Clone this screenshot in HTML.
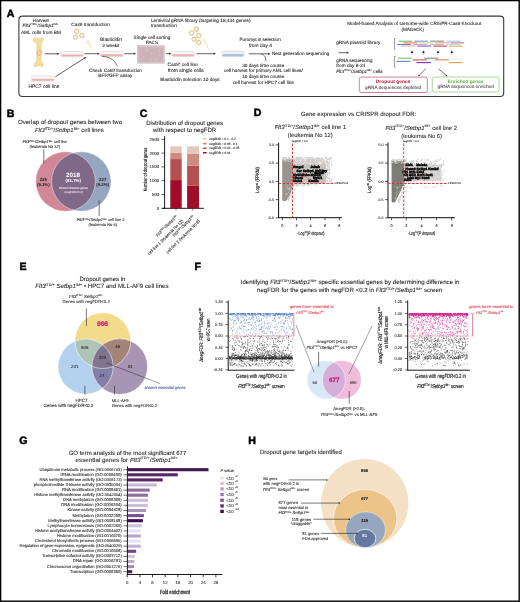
<!DOCTYPE html>
<html><head><meta charset="utf-8"><style>
html,body{margin:0;padding:0;background:#fff;width:520px;height:602px;overflow:hidden;}
svg{display:block;will-change:transform;}
svg text{font-family:"Liberation Sans", sans-serif;text-rendering:geometricPrecision;}
</style></head><body>
<svg width="520" height="602" viewBox="0 0 520 602" fill="#231f20" font-family='"Liberation Sans", sans-serif'>
<rect x="0.00" y="0.00" width="520.00" height="602.00" fill="#ffffff" />
<text x="6.80" y="16.60" font-size="10.60" font-weight="bold" fill="#000" stroke="#000" stroke-width="0.5">A</text>
<text x="6.80" y="116.70" font-size="10.60" font-weight="bold" fill="#000" stroke="#000" stroke-width="0.5">B</text>
<text x="139.80" y="116.70" font-size="10.60" font-weight="bold" fill="#000" stroke="#000" stroke-width="0.5">C</text>
<text x="253.80" y="116.40" font-size="10.60" font-weight="bold" fill="#000" stroke="#000" stroke-width="0.5">D</text>
<text x="19.60" y="270.20" font-size="10.60" font-weight="bold" fill="#000" stroke="#000" stroke-width="0.5">E</text>
<text x="194.60" y="270.20" font-size="10.60" font-weight="bold" fill="#000" stroke="#000" stroke-width="0.5">F</text>
<text x="19.20" y="443.60" font-size="10.60" font-weight="bold" fill="#000" stroke="#000" stroke-width="0.5">G</text>
<text x="248.20" y="443.70" font-size="10.60" font-weight="bold" fill="#000" stroke="#000" stroke-width="0.5">H</text>
<rect x="18.9" y="16.1" width="484.8" height="80.4" rx="3.5" fill="none" stroke="#3a3a3a" stroke-width="1.1" transform="scale(1)"/>
<text x="32.80" y="21.80" font-size="4.67" textLength="16.10" lengthAdjust="spacingAndGlyphs" stroke="#231f20" stroke-width="0.08">Harvest</text>
<text x="22.60" y="27.00" font-size="4.70" textLength="35.80" lengthAdjust="spacingAndGlyphs" stroke="#231f20" stroke-width="0.08"><tspan font-style="italic">Flt3</tspan><tspan font-size="2.82" dy="-1.69">ITD/+</tspan><tspan dy="1.69">/</tspan><tspan font-style="italic">Setbp1</tspan><tspan font-size="2.82" dy="-1.69">IM+</tspan></text>
<text x="20.90" y="33.60" font-size="4.79" textLength="40.00" lengthAdjust="spacingAndGlyphs" stroke="#231f20" stroke-width="0.08">AML cells from BM</text>
<path d="M33.2,40.8 C32.6,38.6 34.6,36.8 36.4,37.8 C37.6,38.4 38.6,39.2 40,38.6 C41.2,37.2 43.8,37.6 43.6,39.6 C43.4,41 41.8,42 41.4,43.6 L41,60.5 C41.2,62 43.4,62.6 43.2,64.8 C43,66.8 40.6,67.2 39.6,66 C38.8,65.4 38,65.6 37.2,66.4 C35.8,67.6 33.8,66.4 34.2,64.4 C34.4,62.8 36.2,62 36.6,60.2 L36.8,44.6 C36.6,42.8 33.6,42.4 33.2,40.8 Z" fill="#f4dd9a" stroke="#dcc17c" stroke-width="0.35" />
<circle cx="39.30" cy="53.00" r="2.50" fill="none" stroke="#e07070" stroke-width="0.5"/>
<line x1="44.80" y1="53.80" x2="57.20" y2="53.80" stroke="#231f20" stroke-width="0.70" />
<path d="M59.60,53.80 L57.20,54.88 L57.20,52.72 Z" fill="#231f20" stroke="none" stroke-width="0.60" />
<rect x="61.00" y="51.60" width="22.30" height="5.10" rx="1.6" fill="#fbfafa" stroke="#bdb6b6" stroke-width="0.4"/>
<rect x="61.50" y="54.41" width="21.30" height="1.94" rx="0.9" fill="#eeaeae"/>
<text x="71.30" y="25.50" font-size="4.78" textLength="38.50" lengthAdjust="spacingAndGlyphs" stroke="#231f20" stroke-width="0.08">Cas9 transduction</text>
<circle cx="76.60" cy="31.30" r="2.30" fill="#f6ecc8" stroke="#c9a85a" stroke-width="0.6"/>
<circle cx="76.60" cy="31.30" r="1.03" fill="#ffffff" />
<circle cx="75.60" cy="37.10" r="2.30" fill="#f6ecc8" stroke="#c9a85a" stroke-width="0.6"/>
<circle cx="75.60" cy="37.10" r="1.03" fill="#ffffff" />
<circle cx="81.90" cy="35.60" r="2.30" fill="#f6ecc8" stroke="#c9a85a" stroke-width="0.6"/>
<circle cx="81.90" cy="35.60" r="1.03" fill="#ffffff" />
<path d="M85.90,41.48 L88.70,39.92 L92.50,50.00 Z" fill="#f7f0d2" stroke="#e8dcaa" stroke-width="0.30" />
<line x1="84.50" y1="53.70" x2="97.30" y2="53.70" stroke="#231f20" stroke-width="0.70" />
<path d="M99.70,53.70 L97.30,54.78 L97.30,52.62 Z" fill="#231f20" stroke="none" stroke-width="0.60" />
<rect x="100.40" y="51.50" width="22.80" height="5.00" rx="1.6" fill="#fbfafa" stroke="#bdb6b6" stroke-width="0.4"/>
<rect x="100.90" y="54.25" width="21.80" height="1.90" rx="0.9" fill="#eeaeae"/>
<text x="100.10" y="40.70" font-size="4.86" textLength="21.90" lengthAdjust="spacingAndGlyphs" stroke="#231f20" stroke-width="0.08">Blasticidin</text>
<text x="102.30" y="46.50" font-size="4.66" textLength="17.10" lengthAdjust="spacingAndGlyphs" stroke="#231f20" stroke-width="0.08">2 weeks</text>
<path d="M101.8,56.2 C110,57 115,60 117.3,66.2" fill="none" stroke="#231f20" stroke-width="0.60" />
<text x="89.00" y="71.60" font-size="4.74" textLength="53.00" lengthAdjust="spacingAndGlyphs" stroke="#231f20" stroke-width="0.08">Check Cas9 transduction</text>
<text x="98.30" y="77.10" font-size="4.78" textLength="34.20" lengthAdjust="spacingAndGlyphs" stroke="#231f20" stroke-width="0.08">BFP/GFP assay</text>
<rect x="31.50" y="76.00" width="22.80" height="5.10" rx="1.6" fill="#fbfafa" stroke="#bdb6b6" stroke-width="0.4"/>
<rect x="32.00" y="78.80" width="21.80" height="1.94" rx="0.9" fill="#eeaeae"/>
<text x="28.40" y="88.20" font-size="4.94" textLength="31.00" lengthAdjust="spacingAndGlyphs" stroke="#231f20" stroke-width="0.08">HPC7 cell line</text>
<line x1="55.40" y1="76.70" x2="84.28" y2="58.29" stroke="#231f20" stroke-width="0.70" />
<path d="M86.30,57.00 L84.86,59.20 L83.70,57.38 Z" fill="#231f20" stroke="none" stroke-width="0.60" />
<line x1="124.20" y1="53.70" x2="133.60" y2="53.70" stroke="#231f20" stroke-width="0.70" />
<path d="M136.00,53.70 L133.60,54.78 L133.60,52.62 Z" fill="#231f20" stroke="none" stroke-width="0.60" />
<text x="133.60" y="38.50" font-size="4.70" textLength="36.80" lengthAdjust="spacingAndGlyphs" stroke="#231f20" stroke-width="0.08">Single cell sorting</text>
<text x="145.90" y="44.30" font-size="4.67" textLength="12.20" lengthAdjust="spacingAndGlyphs" stroke="#231f20" stroke-width="0.08">FACS</text>
<rect x="137.20" y="45.40" width="27.40" height="18.00" fill="#dccbcf" stroke="#c9c2c2" stroke-width="0.5"/>
<rect x="138.40" y="46.60" width="25.00" height="15.60" fill="#cfb3bb" />
<circle cx="139.30" cy="49.45" r="0.45" fill="#ecdfe3" />
<circle cx="139.30" cy="53.35" r="0.45" fill="#ecdfe3" />
<circle cx="139.30" cy="59.20" r="0.45" fill="#ecdfe3" />
<circle cx="141.35" cy="47.50" r="0.45" fill="#ecdfe3" />
<circle cx="141.35" cy="51.40" r="0.45" fill="#ecdfe3" />
<circle cx="141.35" cy="53.35" r="0.45" fill="#ecdfe3" />
<circle cx="141.35" cy="59.20" r="0.45" fill="#ecdfe3" />
<circle cx="143.40" cy="57.25" r="0.45" fill="#ecdfe3" />
<circle cx="145.45" cy="47.50" r="0.45" fill="#ecdfe3" />
<circle cx="145.45" cy="49.45" r="0.45" fill="#ecdfe3" />
<circle cx="147.50" cy="49.45" r="0.45" fill="#ecdfe3" />
<circle cx="147.50" cy="51.40" r="0.45" fill="#ecdfe3" />
<circle cx="151.60" cy="53.35" r="0.45" fill="#ecdfe3" />
<circle cx="151.60" cy="59.20" r="0.45" fill="#ecdfe3" />
<circle cx="153.65" cy="47.50" r="0.45" fill="#ecdfe3" />
<circle cx="155.70" cy="59.20" r="0.45" fill="#ecdfe3" />
<circle cx="157.75" cy="59.20" r="0.45" fill="#ecdfe3" />
<circle cx="159.80" cy="47.50" r="0.45" fill="#ecdfe3" />
<circle cx="159.80" cy="49.45" r="0.45" fill="#ecdfe3" />
<circle cx="159.80" cy="51.40" r="0.45" fill="#ecdfe3" />
<circle cx="159.80" cy="55.30" r="0.45" fill="#ecdfe3" />
<circle cx="161.85" cy="47.50" r="0.45" fill="#ecdfe3" />
<line x1="165.80" y1="53.70" x2="168.90" y2="53.70" stroke="#231f20" stroke-width="0.70" />
<path d="M171.30,53.70 L168.90,54.78 L168.90,52.62 Z" fill="#231f20" stroke="none" stroke-width="0.60" />
<rect x="171.80" y="51.50" width="22.40" height="5.00" rx="1.6" fill="#fbfafa" stroke="#bdb6b6" stroke-width="0.4"/>
<rect x="172.30" y="54.25" width="21.40" height="1.90" rx="0.9" fill="#eeaeae"/>
<text x="167.60" y="66.00" font-size="4.81" textLength="30.30" lengthAdjust="spacingAndGlyphs" stroke="#231f20" stroke-width="0.08">Cas9<tspan font-size="2.89" dy="-1.73">+</tspan><tspan dy="1.73"> cell line</tspan></text>
<text x="167.90" y="71.60" font-size="5.02" textLength="36.00" lengthAdjust="spacingAndGlyphs" stroke="#231f20" stroke-width="0.08">from single cells</text>
<text x="160.20" y="81.10" font-size="4.76" textLength="59.50" lengthAdjust="spacingAndGlyphs" stroke="#231f20" stroke-width="0.08">Blasticidin selection 10 days</text>
<text x="150.90" y="21.90" font-size="4.73" textLength="99.60" lengthAdjust="spacingAndGlyphs" stroke="#231f20" stroke-width="0.08">Lentiviral gRNA library (targeting 18,434 genes)</text>
<text x="150.90" y="27.30" font-size="4.77" textLength="26.00" lengthAdjust="spacingAndGlyphs" stroke="#231f20" stroke-width="0.08">transduction</text>
<circle cx="196.30" cy="29.10" r="2.30" fill="#f6ecc8" stroke="#c9a85a" stroke-width="0.6"/>
<circle cx="196.30" cy="29.10" r="1.03" fill="#ffffff" />
<circle cx="191.70" cy="33.00" r="2.30" fill="#f6ecc8" stroke="#c9a85a" stroke-width="0.6"/>
<circle cx="191.70" cy="33.00" r="1.03" fill="#ffffff" />
<circle cx="198.90" cy="35.60" r="2.30" fill="#f6ecc8" stroke="#c9a85a" stroke-width="0.6"/>
<circle cx="198.90" cy="35.60" r="1.03" fill="#ffffff" />
<circle cx="194.20" cy="39.20" r="2.30" fill="#f6ecc8" stroke="#c9a85a" stroke-width="0.6"/>
<circle cx="194.20" cy="39.20" r="1.03" fill="#ffffff" />
<circle cx="198.90" cy="42.60" r="2.30" fill="#f6ecc8" stroke="#c9a85a" stroke-width="0.6"/>
<circle cx="198.90" cy="42.60" r="1.03" fill="#ffffff" />
<path d="M202.45,39.89 L205.35,38.51 L208.70,49.30 Z" fill="#f7f0d2" stroke="#e8dcaa" stroke-width="0.30" />
<line x1="196.40" y1="53.70" x2="213.50" y2="53.70" stroke="#231f20" stroke-width="0.70" />
<path d="M215.90,53.70 L213.50,54.78 L213.50,52.62 Z" fill="#231f20" stroke="none" stroke-width="0.60" />
<rect x="222.10" y="51.20" width="21.90" height="5.30" rx="1.6" fill="#eef2f8" stroke="#bdb6b6" stroke-width="0.4"/>
<rect x="222.60" y="54.12" width="20.90" height="2.01" rx="0.9" fill="#a9c2e6"/>
<text x="239.50" y="41.20" font-size="4.60" textLength="41.20" lengthAdjust="spacingAndGlyphs" stroke="#231f20" stroke-width="0.08">Puromycin selection</text>
<text x="248.90" y="47.20" font-size="4.87" textLength="23.00" lengthAdjust="spacingAndGlyphs" stroke="#231f20" stroke-width="0.08">from day 4</text>
<line x1="248.90" y1="53.80" x2="268.10" y2="53.80" stroke="#231f20" stroke-width="0.70" />
<path d="M270.50,53.80 L268.10,54.88 L268.10,52.72 Z" fill="#231f20" stroke="none" stroke-width="0.60" />
<path d="M261.2,53.8 C265,55 266,58 265.9,61.5" fill="none" stroke="#231f20" stroke-width="0.60" />
<text x="271.90" y="54.50" font-size="4.62" textLength="57.50" lengthAdjust="spacingAndGlyphs" stroke="#231f20" stroke-width="0.08">Next generation sequencing</text>
<text x="242.20" y="67.10" font-size="4.70" textLength="42.10" lengthAdjust="spacingAndGlyphs" stroke="#231f20" stroke-width="0.08">30 days time course</text>
<text x="223.80" y="72.40" font-size="4.72" textLength="79.00" lengthAdjust="spacingAndGlyphs" stroke="#231f20" stroke-width="0.08">cell harvest for primary AML cell lines/</text>
<text x="242.20" y="78.10" font-size="4.70" textLength="42.10" lengthAdjust="spacingAndGlyphs" stroke="#231f20" stroke-width="0.08">10 days time course</text>
<text x="232.70" y="83.70" font-size="4.69" textLength="61.30" lengthAdjust="spacingAndGlyphs" stroke="#231f20" stroke-width="0.08">cell harvest for HPC7 cell line</text>
<text x="347.20" y="24.60" font-size="4.70" textLength="134.00" lengthAdjust="spacingAndGlyphs" stroke="#231f20" stroke-width="0.08">Model-based Analysis of Genome-wide CRISPR-Cas9 Knockout</text>
<text x="412.70" y="30.60" font-size="4.60" text-anchor="middle" stroke="#231f20" stroke-width="0.08">(MAGeCK)</text>
<text x="336.20" y="43.90" font-size="4.73" textLength="44.20" lengthAdjust="spacingAndGlyphs" stroke="#231f20" stroke-width="0.08">gRNA plasmid library</text>
<line x1="338.80" y1="52.70" x2="346.60" y2="52.70" stroke="#231f20" stroke-width="0.70" />
<path d="M349.00,52.70 L346.60,53.78 L346.60,51.62 Z" fill="#231f20" stroke="none" stroke-width="0.60" />
<text x="336.20" y="61.50" font-size="4.53" textLength="36.30" lengthAdjust="spacingAndGlyphs" stroke="#231f20" stroke-width="0.08">gRNA sequencing</text>
<text x="336.20" y="67.10" font-size="4.70" textLength="29.00" lengthAdjust="spacingAndGlyphs" stroke="#231f20" stroke-width="0.08">from day 8-24</text>
<text x="336.20" y="72.50" font-size="4.70" textLength="46.50" lengthAdjust="spacingAndGlyphs" stroke="#231f20" stroke-width="0.08"><tspan font-style="italic">Flt3</tspan><tspan font-size="2.82" dy="-1.69">ITD/+</tspan><tspan dy="1.69">/</tspan><tspan font-style="italic">Setbp1</tspan><tspan font-size="2.82" dy="-1.69">IM+</tspan><tspan dy="1.69"> cells</tspan></text>
<path d="M395.60,38.50 L394.40,38.50 L394.40,49.20 L395.60,49.20" fill="none" stroke="#555" stroke-width="0.60" />
<path d="M395.60,56.50 L394.40,56.50 L394.40,67.00 L395.60,67.00" fill="none" stroke="#555" stroke-width="0.60" />
<rect x="398.50" y="40.65" width="13.80" height="1.10" fill="#7dbf6a" />
<rect x="414.30" y="40.65" width="13.90" height="1.10" fill="#7f97d6" />
<rect x="430.30" y="40.65" width="13.90" height="1.10" fill="#8a8a8a" />
<rect x="446.60" y="40.65" width="14.20" height="1.10" fill="#a9c3ea" />
<rect x="403.50" y="42.35" width="13.90" height="1.10" fill="#e07a72" />
<rect x="419.20" y="42.35" width="13.90" height="1.10" fill="#c2dc9a" />
<rect x="435.40" y="42.35" width="13.80" height="1.10" fill="#e0a084" />
<rect x="450.30" y="42.35" width="13.90" height="1.10" fill="#b2789a" />
<rect x="396.90" y="43.95" width="13.90" height="1.10" fill="#6b7fd0" />
<rect x="413.00" y="43.95" width="14.00" height="1.10" fill="#d9a9d6" />
<rect x="430.00" y="43.95" width="14.00" height="1.10" fill="#d8c0a8" />
<rect x="446.00" y="43.95" width="14.00" height="1.10" fill="#c8d8f0" />
<rect x="401.00" y="45.55" width="14.00" height="1.10" fill="#f2b890" />
<rect x="417.40" y="45.55" width="13.80" height="1.10" fill="#8a5cb8" />
<rect x="433.40" y="45.55" width="13.80" height="1.10" fill="#b85050" />
<rect x="448.80" y="45.55" width="13.80" height="1.10" fill="#d8b060" />
<rect x="398.00" y="57.65" width="13.80" height="1.10" fill="#7dbf6a" />
<rect x="424.20" y="57.65" width="14.30" height="1.10" fill="#8a8a8a" />
<rect x="412.80" y="59.35" width="14.20" height="1.10" fill="#d85050" />
<rect x="434.90" y="59.35" width="13.90" height="1.10" fill="#d0805a" />
<rect x="396.50" y="60.85" width="13.80" height="1.10" fill="#6b7fd0" />
<rect x="416.50" y="62.05" width="14.30" height="1.10" fill="#6a3aa8" />
<rect x="448.80" y="62.05" width="13.80" height="1.10" fill="#d8a040" />
<path d="M412.00,50.20 L410.75,53.10 L413.25,53.10 Z" fill="#231f20" stroke="none" stroke-width="0.60" />
<line x1="412.00" y1="53.00" x2="412.00" y2="55.40" stroke="#666" stroke-width="0.45" stroke-dasharray="0.7 0.5"/>
<path d="M423.50,50.20 L422.25,53.10 L424.75,53.10 Z" fill="#231f20" stroke="none" stroke-width="0.60" />
<line x1="423.50" y1="53.00" x2="423.50" y2="55.40" stroke="#666" stroke-width="0.45" stroke-dasharray="0.7 0.5"/>
<path d="M438.00,50.20 L436.75,53.10 L439.25,53.10 Z" fill="#231f20" stroke="none" stroke-width="0.60" />
<line x1="438.00" y1="53.00" x2="438.00" y2="55.40" stroke="#666" stroke-width="0.45" stroke-dasharray="0.7 0.5"/>
<path d="M451.80,50.20 L450.55,53.10 L453.05,53.10 Z" fill="#231f20" stroke="none" stroke-width="0.60" />
<line x1="451.80" y1="53.00" x2="451.80" y2="55.40" stroke="#666" stroke-width="0.45" stroke-dasharray="0.7 0.5"/>
<line x1="426.00" y1="68.60" x2="419.45" y2="74.82" stroke="#231f20" stroke-width="0.60" />
<path d="M418.00,76.20 L418.83,74.17 L420.07,75.48 Z" fill="#231f20" stroke="none" stroke-width="0.60" />
<line x1="438.50" y1="68.80" x2="445.98" y2="75.20" stroke="#231f20" stroke-width="0.60" />
<path d="M447.50,76.50 L445.40,75.88 L446.57,74.52 Z" fill="#231f20" stroke="none" stroke-width="0.60" />
<rect x="359.3" y="77.1" width="68.0" height="15.4" rx="2.2" fill="#fff" stroke="#c44a62" stroke-width="0.7"/>
<text x="375.80" y="83.20" font-size="4.90" font-weight="bold" fill="#b51d3f" textLength="34.60" lengthAdjust="spacingAndGlyphs">Dropout genes</text>
<text x="365.00" y="88.90" font-size="4.75" fill="#4a4a4a" textLength="56.20" lengthAdjust="spacingAndGlyphs" stroke="#4a4a4a" stroke-width="0.08">gRNA sequences depleted</text>
<rect x="432.3" y="77.0" width="66.8" height="15.0" rx="2.2" fill="#fff" stroke="#8cc474" stroke-width="0.7"/>
<text x="447.80" y="83.00" font-size="4.79" font-weight="bold" fill="#5fae3e" textLength="35.70" lengthAdjust="spacingAndGlyphs">Enriched genes</text>
<text x="437.50" y="88.20" font-size="4.76" fill="#4a4a4a" textLength="56.40" lengthAdjust="spacingAndGlyphs" stroke="#4a4a4a" stroke-width="0.08">gRNA sequences enriched</text>
<text x="18.00" y="124.00" font-size="6.05" textLength="104.00" lengthAdjust="spacingAndGlyphs" stroke="#231f20" stroke-width="0.08">Overlap of dropout genes between two</text>
<text x="35.00" y="132.00" font-size="5.86" textLength="68.70" lengthAdjust="spacingAndGlyphs" stroke="#231f20" stroke-width="0.08"><tspan font-style="italic">Flt3</tspan><tspan font-size="3.51" dy="-2.11">ITD/+</tspan><tspan dy="2.11">/</tspan><tspan font-style="italic">Setbp1</tspan><tspan font-size="3.51" dy="-2.11">IM+</tspan><tspan dy="2.11"> cell lines</tspan></text>
<text x="22.50" y="143.00" font-size="3.96" textLength="44.50" lengthAdjust="spacingAndGlyphs" stroke="#231f20" stroke-width="0.08"><tspan font-style="italic">Flt3</tspan><tspan font-size="2.38" dy="-1.43">ITD/+</tspan><tspan dy="1.43">/</tspan><tspan font-style="italic">Setbp1</tspan><tspan font-size="2.38" dy="-1.43">IM+</tspan><tspan dy="1.43"> cell line</tspan></text>
<text x="29.50" y="147.50" font-size="4.01" textLength="30.50" lengthAdjust="spacingAndGlyphs" stroke="#231f20" stroke-width="0.08">(leukemia No 12)</text>
<defs><clipPath id="cbL"><circle cx="65.5" cy="181.5" r="29.8"/></clipPath><clipPath id="eY"><circle cx="102.9" cy="340.6" r="27.9"/></clipPath><clipPath id="eB"><circle cx="85.6" cy="366.6" r="27.6"/></clipPath><clipPath id="eP"><circle cx="119.8" cy="366.6" r="27.8"/></clipPath><clipPath id="fL"><circle cx="326.3" cy="379.9" r="19.2"/></clipPath></defs>
<circle cx="65.50" cy="181.50" r="29.80" fill="#d28797" />
<circle cx="81.30" cy="181.50" r="29.70" fill="#96a6c0" />
<circle cx="81.3" cy="181.5" r="29.7" fill="#806888" clip-path="url(#cbL)"/>
<circle cx="65.50" cy="181.50" r="29.80" fill="none" stroke="#fff" stroke-width="0.5" stroke-opacity="0.8"/>
<circle cx="81.30" cy="181.50" r="29.70" fill="none" stroke="#fff" stroke-width="0.5" stroke-opacity="0.8"/>
<line x1="43.80" y1="149.50" x2="43.80" y2="163.40" stroke="#231f20" stroke-width="0.60" />
<line x1="99.20" y1="200.60" x2="99.20" y2="216.00" stroke="#231f20" stroke-width="0.60" />
<text x="72.90" y="176.60" font-size="6.30" text-anchor="middle" font-weight="bold" fill="#fff">2018</text>
<text x="73.30" y="181.50" font-size="4.40" text-anchor="middle" font-weight="bold" fill="#fff">(81.7%)</text>
<text x="58.80" y="189.00" font-size="2.96" fill="#e8e0ea" textLength="29.30" lengthAdjust="spacingAndGlyphs" stroke="#e8e0ea" stroke-width="0.08">Shared dropout genes</text>
<text x="64.60" y="192.90" font-size="2.83" fill="#e8e0ea" textLength="18.00" lengthAdjust="spacingAndGlyphs" stroke="#e8e0ea" stroke-width="0.08">(negFDR&lt;0.2)</text>
<text x="43.30" y="181.00" font-size="4.30" text-anchor="middle" font-weight="bold">225</text>
<text x="43.30" y="185.60" font-size="4.30" text-anchor="middle" font-weight="bold">(9.1%)</text>
<text x="102.70" y="181.00" font-size="4.30" text-anchor="middle" font-weight="bold">227</text>
<text x="102.70" y="185.60" font-size="4.30" text-anchor="middle" font-weight="bold">(9.2%)</text>
<text x="77.00" y="221.30" font-size="3.94" textLength="47.50" lengthAdjust="spacingAndGlyphs" stroke="#231f20" stroke-width="0.08"><tspan font-style="italic">Flt3</tspan><tspan font-size="2.36" dy="-1.42">ITD/+</tspan><tspan dy="1.42">/</tspan><tspan font-style="italic">Setbp1</tspan><tspan font-size="2.36" dy="-1.42">IM+</tspan><tspan dy="1.42"> cell line 2</tspan></text>
<text x="88.50" y="226.00" font-size="4.04" textLength="28.50" lengthAdjust="spacingAndGlyphs" stroke="#231f20" stroke-width="0.08">(leukemia No 6)</text>
<text x="146.25" y="124.50" font-size="6.00" textLength="76.75" lengthAdjust="spacingAndGlyphs" stroke="#231f20" stroke-width="0.08">Distribution of dropout genes</text>
<text x="153.00" y="131.75" font-size="6.05" textLength="63.25" lengthAdjust="spacingAndGlyphs" stroke="#231f20" stroke-width="0.08">with respect to negFDR</text>
<line x1="164.60" y1="136.20" x2="164.60" y2="208.80" stroke="#000" stroke-width="0.90" />
<line x1="162.20" y1="208.30" x2="203.90" y2="208.30" stroke="#000" stroke-width="0.90" />
<line x1="161.40" y1="208.30" x2="164.60" y2="208.30" stroke="#000" stroke-width="0.60" />
<text x="159.30" y="209.85" font-size="4.40" text-anchor="end" stroke="#231f20" stroke-width="0.08">0</text>
<line x1="161.40" y1="194.50" x2="164.60" y2="194.50" stroke="#000" stroke-width="0.60" />
<text x="159.30" y="196.05" font-size="4.40" text-anchor="end" stroke="#231f20" stroke-width="0.08">500</text>
<line x1="161.40" y1="180.70" x2="164.60" y2="180.70" stroke="#000" stroke-width="0.60" />
<text x="159.30" y="182.25" font-size="4.40" text-anchor="end" stroke="#231f20" stroke-width="0.08">1000</text>
<line x1="161.40" y1="166.90" x2="164.60" y2="166.90" stroke="#000" stroke-width="0.60" />
<text x="159.30" y="168.45" font-size="4.40" text-anchor="end" stroke="#231f20" stroke-width="0.08">1500</text>
<line x1="161.40" y1="153.10" x2="164.60" y2="153.10" stroke="#000" stroke-width="0.60" />
<text x="159.30" y="154.65" font-size="4.40" text-anchor="end" stroke="#231f20" stroke-width="0.08">2000</text>
<line x1="161.40" y1="139.30" x2="164.60" y2="139.30" stroke="#000" stroke-width="0.60" />
<text x="159.30" y="140.85" font-size="4.40" text-anchor="end" stroke="#231f20" stroke-width="0.08">2500</text>
<text x="147.00" y="169.40" font-size="5.20" text-anchor="middle" textLength="43.80" lengthAdjust="spacingAndGlyphs" transform="rotate(-90.0 147.00 169.40)" stroke="#231f20" stroke-width="0.15">Number of dropout genes</text>
<rect x="170.30" y="180.07" width="11.40" height="28.23" fill="#a00c2a" />
<rect x="170.30" y="159.06" width="11.40" height="21.00" fill="#b45050" />
<rect x="170.30" y="152.58" width="11.40" height="6.49" fill="#ce8c80" />
<rect x="170.30" y="146.31" width="11.40" height="6.27" fill="#e4c8be" />
<rect x="187.10" y="185.81" width="11.90" height="22.49" fill="#a00c2a" />
<rect x="187.10" y="165.55" width="11.90" height="20.26" fill="#b45050" />
<rect x="187.10" y="153.54" width="11.90" height="12.01" fill="#ce8c80" />
<rect x="187.10" y="146.31" width="11.90" height="7.23" fill="#e4c8be" />
<line x1="176.00" y1="208.30" x2="176.00" y2="210.50" stroke="#000" stroke-width="0.50" />
<line x1="192.80" y1="208.30" x2="192.80" y2="210.50" stroke="#000" stroke-width="0.50" />
<rect x="202.8" y="138.00" width="4" height="1.6" rx="0.7" fill="#e4c8be"/>
<text x="209.30" y="139.80" font-size="3.09" textLength="26.40" lengthAdjust="spacingAndGlyphs" stroke="#231f20" stroke-width="0.08">negFDR = 0.1 - 0.2</text>
<rect x="202.8" y="142.80" width="4" height="1.6" rx="0.7" fill="#ce8c80"/>
<text x="209.30" y="144.60" font-size="3.09" textLength="28.10" lengthAdjust="spacingAndGlyphs" stroke="#231f20" stroke-width="0.08">negFDR = 0.05 - 0.1</text>
<rect x="202.8" y="147.40" width="4" height="1.6" rx="0.7" fill="#b45050"/>
<text x="209.30" y="149.20" font-size="3.13" textLength="30.20" lengthAdjust="spacingAndGlyphs" stroke="#231f20" stroke-width="0.08">negFDR = 0.01 - 0.05</text>
<rect x="202.8" y="151.95" width="4" height="1.6" rx="0.7" fill="#a00c2a"/>
<text x="209.30" y="153.75" font-size="3.11" textLength="21.20" lengthAdjust="spacingAndGlyphs" stroke="#231f20" stroke-width="0.08">negFDR &lt; 0.01</text>
<text x="178.00" y="216.60" font-size="4.20" text-anchor="end" textLength="29.00" lengthAdjust="spacingAndGlyphs" transform="rotate(-45.0 178.00 216.60)" stroke="#231f20" stroke-width="0.08"><tspan font-style="italic">Flt3</tspan><tspan font-size="2.52" dy="-1.51">ITD/+</tspan><tspan dy="1.51">/</tspan><tspan font-style="italic">Setbp1</tspan><tspan font-size="2.52" dy="-1.51">IM+</tspan></text>
<text x="183.40" y="221.40" font-size="4.20" text-anchor="end" textLength="48.00" lengthAdjust="spacingAndGlyphs" transform="rotate(-45.0 183.40 221.40)" stroke="#231f20" stroke-width="0.08">cell line 1 (leukemia No 12)</text>
<text x="194.80" y="216.60" font-size="4.20" text-anchor="end" textLength="29.00" lengthAdjust="spacingAndGlyphs" transform="rotate(-45.0 194.80 216.60)" stroke="#231f20" stroke-width="0.08"><tspan font-style="italic">Flt3</tspan><tspan font-size="2.52" dy="-1.51">ITD/+</tspan><tspan dy="1.51">/</tspan><tspan font-style="italic">Setbp1</tspan><tspan font-size="2.52" dy="-1.51">IM+</tspan></text>
<text x="200.30" y="221.40" font-size="4.20" text-anchor="end" textLength="46.00" lengthAdjust="spacingAndGlyphs" transform="rotate(-45.0 200.30 221.40)" stroke="#231f20" stroke-width="0.08">cell line 2 (leukemia No 6)</text>
<text x="301.00" y="116.40" font-size="6.01" textLength="115.25" lengthAdjust="spacingAndGlyphs" stroke="#231f20" stroke-width="0.08">Gene expression vs CRISPR dropout FDR:</text>
<text x="274.70" y="129.40" font-size="5.93" textLength="71.50" lengthAdjust="spacingAndGlyphs" stroke="#231f20" stroke-width="0.08"><tspan font-style="italic">Flt3</tspan><tspan font-size="3.56" dy="-2.13">ITD/+</tspan><tspan dy="2.13">/</tspan><tspan font-style="italic">Setbp1</tspan><tspan font-size="3.56" dy="-2.13">IM+</tspan><tspan dy="2.13"> cell line 1</tspan></text>
<text x="287.70" y="136.90" font-size="5.91" textLength="45.00" lengthAdjust="spacingAndGlyphs" stroke="#231f20" stroke-width="0.08">(leukemia No 12)</text>
<text x="385.50" y="129.50" font-size="5.93" textLength="71.50" lengthAdjust="spacingAndGlyphs" stroke="#231f20" stroke-width="0.08"><tspan font-style="italic">Flt3</tspan><tspan font-size="3.56" dy="-2.13">ITD/+</tspan><tspan dy="2.13">/</tspan><tspan font-style="italic">Setbp1</tspan><tspan font-size="3.56" dy="-2.13">IM+</tspan><tspan dy="2.13"> cell line 2</tspan></text>
<text x="401.25" y="137.50" font-size="5.77" textLength="40.75" lengthAdjust="spacingAndGlyphs" stroke="#231f20" stroke-width="0.08">(leukemia No 6)</text>
<path d="M292.50,159.70 C304.50,157.70 322.00,159.20 330.00,161.70 L330.00,181.50 C322.00,184.00 304.50,186.00 292.50,186.00 Z" fill="#dedbd8" stroke="none" stroke-width="0.60" opacity="0.55"/>
<path d="M306.6 184.2h0M307.1 175.1h0M296.9 176.2h0M321.7 159.3h0M294.2 177.9h0M293.1 185.2h0M315.2 163.5h0M292.7 160.8h0M297.1 157.4h0M307.1 163.1h0M309.3 172.7h0M315.6 159.1h0M331.9 181.9h0M317.7 158.8h0M300.4 162.6h0M304.5 169.6h0M329.9 159.2h0M297.7 171.9h0M331.0 157.7h0M314.1 166.5h0M294.2 163.9h0M320.1 158.9h0M294.5 162.8h0M296.7 171.3h0M297.1 162.7h0M314.8 160.1h0M297.8 164.0h0M322.2 163.4h0M297.7 163.2h0M314.7 164.1h0M297.8 162.6h0M301.8 157.7h0M294.2 165.8h0M312.9 160.4h0M329.9 161.2h0M325.3 158.3h0M327.4 165.9h0M297.1 184.6h0M297.3 183.0h0M313.0 157.9h0M293.1 165.6h0M317.6 163.0h0M312.7 158.4h0M318.3 158.8h0M311.1 175.8h0M300.1 164.7h0M292.7 160.3h0M293.5 159.8h0M311.6 159.7h0M326.5 176.9h0M316.9 163.0h0M293.0 163.6h0M317.4 159.8h0M314.4 162.3h0M301.4 161.2h0M310.5 183.5h0M319.1 180.6h0M327.7 162.0h0M327.0 170.5h0M321.6 174.7h0M313.9 161.3h0M313.2 161.7h0M331.7 178.9h0M304.1 174.9h0M306.1 161.5h0M319.7 161.4h0M307.8 162.1h0M308.4 184.1h0M299.2 159.3h0M316.3 158.4h0M327.2 171.1h0M326.5 161.9h0M297.3 162.8h0M327.7 169.6h0M312.1 158.2h0M308.4 182.1h0M317.9 166.7h0M296.4 159.1h0M297.8 161.6h0M308.3 163.1h0M331.1 157.7h0M292.9 160.3h0M317.7 167.5h0M321.6 158.2h0M306.7 163.0h0M298.6 157.5h0M314.1 161.6h0M315.3 185.1h0M316.6 160.5h0M296.7 160.5h0M318.0 159.1h0M302.4 173.3h0M313.5 169.8h0M321.7 161.6h0M328.6 162.7h0M306.6 183.8h0M303.6 182.9h0M321.9 171.7h0M315.1 162.3h0M322.9 178.6h0M297.8 185.7h0M330.8 180.6h0M301.5 182.3h0M302.5 160.3h0M310.7 172.4h0M292.9 160.9h0M322.0 159.5h0M321.5 158.2h0M309.2 181.9h0M316.9 172.5h0M329.4 158.7h0M309.7 162.3h0M314.6 182.0h0M311.1 159.9h0M324.2 164.8h0M324.5 173.4h0M311.7 161.0h0M308.7 159.9h0M330.4 170.0h0M322.1 172.5h0M316.9 161.0h0M305.0 184.1h0M299.7 158.1h0M305.8 183.5h0M307.6 158.5h0M313.6 162.7h0M321.1 158.6h0M298.3 167.9h0M302.8 162.0h0M318.8 160.8h0M299.0 160.9h0M306.0 160.1h0M309.8 158.6h0M314.2 173.5h0M324.5 182.3h0M298.4 181.1h0M327.1 159.4h0M328.1 164.2h0M326.3 158.9h0M318.6 157.9h0M323.6 162.7h0M295.2 162.0h0M292.7 162.0h0M327.5 162.3h0M308.8 172.8h0M316.7 157.7h0M294.6 161.1h0M309.2 163.2h0M296.9 163.1h0M331.5 161.8h0M293.6 171.7h0M320.4 160.5h0M309.2 161.4h0M292.6 182.0h0M296.8 162.4h0M304.7 158.4h0M309.1 163.5h0M322.1 182.4h0M314.1 161.4h0M308.7 180.9h0M299.3 179.3h0M321.0 170.2h0M326.8 178.0h0M320.5 170.2h0M318.4 159.6h0M307.3 159.7h0M314.6 165.5h0M329.2 168.3h0M315.5 173.6h0M304.1 176.5h0M317.4 185.7h0M292.8 179.1h0M299.2 157.6h0M297.2 157.9h0M299.0 174.1h0M308.9 174.5h0M331.7 181.1h0M293.9 179.7h0M293.2 163.5h0M307.4 160.7h0M313.3 163.8h0M305.3 175.3h0M303.2 161.8h0M311.1 162.2h0M300.6 158.9h0M293.2 162.5h0M304.1 179.4h0M293.3 184.7h0M293.8 170.8h0M307.6 165.8h0M309.5 178.7h0M307.2 181.3h0M313.0 161.6h0M306.7 157.6h0M309.7 160.3h0M315.9 159.0h0M312.1 162.6h0M309.8 184.9h0M318.9 158.0h0M326.6 176.1h0M302.9 162.0h0M311.3 176.3h0M319.8 158.9h0M331.0 182.9h0M293.1 159.1h0M305.5 162.0h0M310.3 157.8h0M316.3 176.2h0M303.5 158.7h0M302.4 181.8h0M293.8 162.9h0M313.9 165.0h0M305.5 162.9h0M303.3 185.9h0M301.7 179.3h0M328.0 159.8h0M294.4 161.3h0M294.1 172.3h0M316.7 162.6h0M293.9 161.8h0M294.0 162.3h0M317.1 158.2h0M302.9 169.1h0M294.9 174.6h0M327.9 183.9h0M306.0 167.4h0M301.4 163.7h0M326.7 159.7h0M303.2 160.0h0M304.0 161.1h0M321.9 181.8h0M311.2 162.5h0M326.0 157.4h0M309.2 174.5h0M330.3 180.9h0M293.6 180.5h0M294.1 162.4h0M326.9 161.6h0M295.7 176.7h0M298.9 162.6h0M309.4 169.8h0M302.1 177.4h0M308.3 178.7h0M317.7 170.3h0M323.3 182.2h0M322.3 183.2h0M329.8 173.3h0M317.8 170.6h0M305.3 162.4h0M331.5 158.4h0M297.5 159.2h0M330.5 159.4h0M294.9 180.2h0M296.7 160.4h0M312.1 160.2h0M294.7 158.7h0M298.5 175.3h0M298.1 159.2h0M296.5 167.6h0M310.6 172.1h0M299.4 183.9h0M302.3 185.0h0M307.8 157.5h0M329.3 169.6h0M309.7 166.6h0M331.5 165.6h0M292.6 159.8h0M321.9 175.6h0M296.1 159.5h0M299.3 173.1h0M314.5 166.4h0M310.0 162.6h0M292.5 182.0h0M323.1 159.1h0M318.1 160.6h0M307.2 175.0h0M324.8 162.7h0M305.2 161.7h0M323.3 161.0h0M309.6 163.0h0M301.2 157.7h0M301.0 162.2h0M303.0 162.1h0M304.3 164.0h0M323.5 159.5h0M303.6 165.6h0M311.3 157.3h0M331.6 164.8h0M313.5 159.8h0M310.2 159.6h0M304.2 166.1h0M297.4 168.1h0M329.2 178.7h0M301.9 161.7h0M295.6 161.9h0M317.7 160.0h0M323.8 161.6h0M298.2 158.1h0M304.8 163.6h0M305.6 176.7h0M320.5 169.6h0M301.9 157.3h0M304.5 185.7h0M321.6 175.6h0M292.7 159.6h0M315.1 159.8h0M308.9 181.5h0M313.3 162.6h0M327.1 168.7h0M308.6 162.2h0M331.3 178.5h0M323.8 163.8h0M314.0 157.8h0M298.8 178.0h0M301.8 169.0h0M307.0 164.0h0M295.4 173.9h0M311.1 166.3h0M327.4 181.3h0M312.9 163.0h0M300.4 165.7h0M311.7 164.2h0M310.6 157.4h0M296.8 184.6h0M315.4 161.9h0M319.1 161.3h0M322.2 158.6h0M307.2 159.9h0M311.5 160.8h0M299.5 168.2h0M314.7 161.9h0M295.7 175.4h0M307.3 161.6h0M316.9 179.5h0M308.0 181.8h0M324.7 160.2h0M311.3 173.4h0M309.6 163.5h0M301.5 162.3h0M327.0 175.3h0M319.8 161.4h0M293.7 160.3h0M308.7 157.6h0M317.1 165.7h0M301.0 158.9h0M293.7 185.3h0M315.8 170.6h0M322.3 162.4h0M311.4 161.9h0M321.7 161.0h0M329.5 158.9h0M300.7 157.6h0M326.7 169.9h0M302.8 160.4h0M292.9 167.5h0M308.5 185.6h0M307.4 159.3h0M328.1 164.5h0M323.9 160.5h0M296.5 186.1h0M297.4 164.4h0M326.0 157.9h0M318.5 163.5h0M325.4 162.8h0M317.2 171.2h0M294.0 159.4h0M317.8 158.5h0M298.5 180.5h0M303.4 183.1h0M312.4 159.3h0M328.3 166.7h0M314.6 164.1h0M306.1 173.5h0M293.2 166.9h0M299.0 161.6h0M300.2 165.8h0M300.0 164.2h0M326.8 160.1h0M307.0 169.6h0M328.4 158.5h0M310.9 168.9h0M315.4 173.2h0M308.8 177.7h0M309.4 163.9h0M321.1 161.5h0M298.5 162.6h0M321.4 165.6h0M308.1 161.3h0M308.5 161.4h0M318.0 182.8h0M296.8 157.3h0M308.4 160.3h0M299.5 161.2h0M327.3 173.9h0M321.7 158.2h0M301.2 159.4h0M313.8 166.3h0M312.3 162.9h0M296.5 158.3h0M316.9 180.4h0M293.5 159.8h0M297.9 160.3h0M308.1 185.8h0M295.7 162.4h0M293.1 163.4h0M295.6 159.3h0M305.5 157.4h0M331.8 179.0h0M298.3 161.1h0M298.7 163.7h0M303.1 164.1h0M313.3 160.0h0M315.1 159.6h0M317.1 175.1h0M326.3 160.0h0M324.1 162.7h0M297.9 158.5h0M310.6 158.6h0M297.8 159.4h0M306.4 177.5h0" stroke="#8f8b87" stroke-width="0.75" stroke-linecap="round" fill="none"/>
<path d="M306.6 184.2h0M307.1 175.1h0M296.9 176.2h0M321.7 159.3h0M294.2 177.9h0M293.1 185.2h0M315.2 163.5h0M292.7 160.8h0M297.1 157.4h0M307.1 163.1h0M309.3 172.7h0M315.6 159.1h0M331.9 181.9h0M317.7 158.8h0M300.4 162.6h0M304.5 169.6h0M329.9 159.2h0M297.7 171.9h0M331.0 157.7h0M314.1 166.5h0M294.2 163.9h0M320.1 158.9h0M294.5 162.8h0M296.7 171.3h0M297.1 162.7h0M314.8 160.1h0M297.8 164.0h0M322.2 163.4h0M297.7 163.2h0M314.7 164.1h0M297.8 162.6h0M301.8 157.7h0M294.2 165.8h0M312.9 160.4h0M329.9 161.2h0M325.3 158.3h0M327.4 165.9h0M297.1 184.6h0M297.3 183.0h0M313.0 157.9h0M293.1 165.6h0M317.6 163.0h0M312.7 158.4h0M318.3 158.8h0M311.1 175.8h0M300.1 164.7h0M292.7 160.3h0M293.5 159.8h0M311.6 159.7h0M326.5 176.9h0M316.9 163.0h0M293.0 163.6h0M317.4 159.8h0M314.4 162.3h0M301.4 161.2h0M310.5 183.5h0M319.1 180.6h0M327.7 162.0h0M327.0 170.5h0M321.6 174.7h0M313.9 161.3h0M313.2 161.7h0M331.7 178.9h0M304.1 174.9h0M306.1 161.5h0M319.7 161.4h0M307.8 162.1h0M308.4 184.1h0M299.2 159.3h0M316.3 158.4h0M327.2 171.1h0M326.5 161.9h0M297.3 162.8h0M327.7 169.6h0M312.1 158.2h0M308.4 182.1h0M317.9 166.7h0M296.4 159.1h0M297.8 161.6h0M308.3 163.1h0M331.1 157.7h0M292.9 160.3h0M317.7 167.5h0M321.6 158.2h0M306.7 163.0h0M298.6 157.5h0M314.1 161.6h0M315.3 185.1h0M316.6 160.5h0M296.7 160.5h0M318.0 159.1h0M302.4 173.3h0M313.5 169.8h0M321.7 161.6h0M328.6 162.7h0M306.6 183.8h0M303.6 182.9h0M321.9 171.7h0M315.1 162.3h0M322.9 178.6h0M297.8 185.7h0M330.8 180.6h0M301.5 182.3h0M302.5 160.3h0M310.7 172.4h0M292.9 160.9h0M322.0 159.5h0M321.5 158.2h0M309.2 181.9h0M316.9 172.5h0M329.4 158.7h0M309.7 162.3h0M314.6 182.0h0M311.1 159.9h0M324.2 164.8h0M324.5 173.4h0M311.7 161.0h0M308.7 159.9h0M330.4 170.0h0M322.1 172.5h0M316.9 161.0h0M305.0 184.1h0M299.7 158.1h0M305.8 183.5h0M307.6 158.5h0M313.6 162.7h0M321.1 158.6h0M298.3 167.9h0M302.8 162.0h0M318.8 160.8h0M299.0 160.9h0M306.0 160.1h0M309.8 158.6h0M314.2 173.5h0M324.5 182.3h0M298.4 181.1h0M327.1 159.4h0M328.1 164.2h0M326.3 158.9h0M318.6 157.9h0M323.6 162.7h0M295.2 162.0h0M292.7 162.0h0M327.5 162.3h0M308.8 172.8h0M316.7 157.7h0M294.6 161.1h0M309.2 163.2h0M296.9 163.1h0M331.5 161.8h0M293.6 171.7h0M320.4 160.5h0M309.2 161.4h0M292.6 182.0h0M296.8 162.4h0M304.7 158.4h0M309.1 163.5h0M322.1 182.4h0M314.1 161.4h0M308.7 180.9h0M299.3 179.3h0M321.0 170.2h0M326.8 178.0h0M320.5 170.2h0M318.4 159.6h0M307.3 159.7h0M314.6 165.5h0M329.2 168.3h0M315.5 173.6h0M304.1 176.5h0M317.4 185.7h0M292.8 179.1h0M299.2 157.6h0M297.2 157.9h0M299.0 174.1h0M308.9 174.5h0M331.7 181.1h0M293.9 179.7h0M293.2 163.5h0M307.4 160.7h0M313.3 163.8h0M305.3 175.3h0M303.2 161.8h0M311.1 162.2h0M300.6 158.9h0M293.2 162.5h0M304.1 179.4h0M293.3 184.7h0M293.8 170.8h0M307.6 165.8h0M309.5 178.7h0M307.2 181.3h0M313.0 161.6h0M306.7 157.6h0M309.7 160.3h0M315.9 159.0h0M312.1 162.6h0M309.8 184.9h0M318.9 158.0h0M326.6 176.1h0M302.9 162.0h0M311.3 176.3h0M319.8 158.9h0M331.0 182.9h0M293.1 159.1h0M305.5 162.0h0M310.3 157.8h0M316.3 176.2h0M303.5 158.7h0M302.4 181.8h0M293.8 162.9h0M313.9 165.0h0M305.5 162.9h0M303.3 185.9h0M301.7 179.3h0M328.0 159.8h0M294.4 161.3h0M294.1 172.3h0M316.7 162.6h0M293.9 161.8h0M294.0 162.3h0M317.1 158.2h0M302.9 169.1h0M294.9 174.6h0M327.9 183.9h0M306.0 167.4h0M301.4 163.7h0M326.7 159.7h0M303.2 160.0h0M304.0 161.1h0M321.9 181.8h0M311.2 162.5h0M326.0 157.4h0M309.2 174.5h0M330.3 180.9h0M293.6 180.5h0M294.1 162.4h0M326.9 161.6h0M295.7 176.7h0M298.9 162.6h0M309.4 169.8h0M302.1 177.4h0M308.3 178.7h0M317.7 170.3h0M323.3 182.2h0M322.3 183.2h0M329.8 173.3h0M317.8 170.6h0M305.3 162.4h0M331.5 158.4h0M297.5 159.2h0M330.5 159.4h0M294.9 180.2h0M296.7 160.4h0M312.1 160.2h0M294.7 158.7h0M298.5 175.3h0M298.1 159.2h0M296.5 167.6h0M310.6 172.1h0M299.4 183.9h0M302.3 185.0h0M307.8 157.5h0M329.3 169.6h0M309.7 166.6h0M331.5 165.6h0M292.6 159.8h0M321.9 175.6h0M296.1 159.5h0M299.3 173.1h0M314.5 166.4h0M310.0 162.6h0M292.5 182.0h0M323.1 159.1h0M318.1 160.6h0M307.2 175.0h0M324.8 162.7h0M305.2 161.7h0M323.3 161.0h0M309.6 163.0h0M301.2 157.7h0M301.0 162.2h0M303.0 162.1h0M304.3 164.0h0M323.5 159.5h0M303.6 165.6h0M311.3 157.3h0M331.6 164.8h0M313.5 159.8h0M310.2 159.6h0M304.2 166.1h0M297.4 168.1h0M329.2 178.7h0M301.9 161.7h0M295.6 161.9h0M317.7 160.0h0M323.8 161.6h0M298.2 158.1h0M304.8 163.6h0M305.6 176.7h0M320.5 169.6h0M301.9 157.3h0M304.5 185.7h0M321.6 175.6h0M292.7 159.6h0M315.1 159.8h0M308.9 181.5h0M313.3 162.6h0M327.1 168.7h0M308.6 162.2h0M331.3 178.5h0M323.8 163.8h0M314.0 157.8h0M298.8 178.0h0M301.8 169.0h0M307.0 164.0h0M295.4 173.9h0M311.1 166.3h0M327.4 181.3h0M312.9 163.0h0M300.4 165.7h0M311.7 164.2h0M310.6 157.4h0M296.8 184.6h0M315.4 161.9h0M319.1 161.3h0M322.2 158.6h0M307.2 159.9h0M311.5 160.8h0M299.5 168.2h0M314.7 161.9h0M295.7 175.4h0M307.3 161.6h0M316.9 179.5h0M308.0 181.8h0M324.7 160.2h0M311.3 173.4h0M309.6 163.5h0M301.5 162.3h0M327.0 175.3h0M319.8 161.4h0M293.7 160.3h0M308.7 157.6h0M317.1 165.7h0M301.0 158.9h0M293.7 185.3h0M315.8 170.6h0M322.3 162.4h0M311.4 161.9h0M321.7 161.0h0M329.5 158.9h0M300.7 157.6h0M326.7 169.9h0M302.8 160.4h0M292.9 167.5h0M308.5 185.6h0M307.4 159.3h0M328.1 164.5h0M323.9 160.5h0M296.5 186.1h0M297.4 164.4h0M326.0 157.9h0M318.5 163.5h0M325.4 162.8h0M317.2 171.2h0M294.0 159.4h0M317.8 158.5h0M298.5 180.5h0M303.4 183.1h0M312.4 159.3h0M328.3 166.7h0M314.6 164.1h0M306.1 173.5h0M293.2 166.9h0M299.0 161.6h0M300.2 165.8h0M300.0 164.2h0M326.8 160.1h0M307.0 169.6h0M328.4 158.5h0M310.9 168.9h0M315.4 173.2h0M308.8 177.7h0M309.4 163.9h0M321.1 161.5h0M298.5 162.6h0M321.4 165.6h0M308.1 161.3h0M308.5 161.4h0M318.0 182.8h0M296.8 157.3h0M308.4 160.3h0M299.5 161.2h0M327.3 173.9h0M321.7 158.2h0M301.2 159.4h0M313.8 166.3h0M312.3 162.9h0M296.5 158.3h0M316.9 180.4h0M293.5 159.8h0M297.9 160.3h0M308.1 185.8h0M295.7 162.4h0M293.1 163.4h0M295.6 159.3h0M305.5 157.4h0M331.8 179.0h0M298.3 161.1h0M298.7 163.7h0M303.1 164.1h0M313.3 160.0h0M315.1 159.6h0M317.1 175.1h0M326.3 160.0h0M324.1 162.7h0M297.9 158.5h0M310.6 158.6h0M297.8 159.4h0M306.4 177.5h0" stroke="#ffffff" stroke-width="0.42" stroke-linecap="round" fill="none"/>
<path d="M292.50,164.20 L326.00,164.20 L326.00,182.80 L292.50,182.80 Z" fill="#a8a4a0" stroke="none" stroke-width="0.60" opacity="0.55"/>
<path d="M282.20,159.20 L292.80,159.20 L292.80,183.00 C292.30,190.00 289.20,197.50 286.70,200.20 C284.70,201.60 282.70,201.30 282.20,200.00 Z" fill="#989491" stroke="none" stroke-width="0.60" />
<path d="M292.3 174.5h0M289.3 159.2h0M282.4 158.4h0M286.2 161.4h0M288.0 189.5h0M291.8 159.1h0M288.8 199.3h0M285.5 159.2h0M291.3 159.0h0M290.5 184.0h0M284.7 157.9h0M288.3 157.8h0M286.6 159.9h0M289.5 158.7h0M292.1 185.6h0M285.1 160.6h0M289.0 198.6h0M285.2 159.1h0M282.6 157.8h0M289.4 197.6h0M292.7 186.0h0M292.4 186.8h0M289.0 198.6h0M288.7 158.1h0M289.2 184.1h0M285.6 159.7h0M283.8 159.3h0M286.9 195.0h0M283.2 159.1h0M286.8 193.5h0M290.1 195.6h0M286.2 159.2h0M286.4 157.9h0M291.2 191.4h0M284.8 157.8h0M291.4 160.0h0M289.1 158.4h0M288.5 200.2h0M288.1 161.5h0M290.6 194.2h0M289.5 188.0h0M295.0 174.5h0M291.7 164.6h0M288.4 189.5h0M292.1 166.9h0M289.2 158.6h0M287.8 159.3h0M287.3 160.3h0M291.0 193.1h0M295.4 172.5h0M291.3 159.0h0M290.2 195.4h0M294.8 165.6h0M290.3 193.1h0M285.1 160.7h0M287.6 187.5h0M284.0 159.8h0M282.9 158.0h0M289.5 158.2h0M291.5 191.7h0M291.1 161.2h0M284.8 159.7h0M289.2 195.9h0M289.6 159.0h0M290.0 161.1h0M293.8 176.0h0M289.3 198.0h0M292.0 174.3h0M287.6 186.3h0M288.2 161.5h0M292.0 186.7h0M291.7 190.1h0M295.5 161.1h0M286.4 183.8h0M289.7 161.7h0M285.6 157.8h0M290.2 189.7h0M290.4 161.1h0M286.2 160.2h0M292.0 190.0h0M289.5 197.4h0M284.0 158.1h0M292.5 178.7h0M285.5 157.8h0M286.7 194.3h0M284.5 159.6h0M284.9 157.9h0M291.4 158.9h0M284.1 159.6h0M292.3 193.9h0M289.4 197.5h0M282.8 159.9h0M291.6 188.0h0M295.0 199.0h0M289.9 196.0h0M282.5 158.4h0M283.0 159.1h0M288.4 192.3h0M284.4 161.5h0M287.6 160.9h0M292.0 190.2h0M294.8 189.9h0M291.9 197.2h0M292.5 187.5h0M291.6 182.3h0M286.2 159.2h0M292.2 189.6h0M288.8 188.0h0M292.8 163.0h0M289.8 158.5h0M290.2 195.2h0M283.3 158.3h0M286.6 157.7h0M289.4 188.8h0M293.2 186.7h0M292.8 189.4h0M292.4 159.4h0M292.4 175.5h0M287.0 187.9h0M292.5 188.8h0M285.9 161.7h0M288.7 159.2h0M287.4 194.1h0M294.9 184.3h0M291.0 185.1h0M294.3 177.3h0M289.5 189.9h0M288.4 160.0h0M285.5 194.3h0M290.8 193.7h0M292.1 177.9h0M294.5 171.7h0M292.0 190.2h0M292.0 198.8h0M287.6 198.1h0M289.3 197.9h0M288.2 200.9h0M291.2 160.5h0M290.5 159.5h0M293.3 186.5h0M288.8 158.0h0M291.4 191.8h0M290.4 161.1h0M288.8 199.3h0M286.8 189.6h0M282.6 159.1h0M294.8 163.9h0M286.2 161.1h0M294.0 184.3h0M292.3 184.4h0M294.4 167.1h0M289.6 183.3h0M285.4 160.2h0M288.4 160.5h0M283.5 160.5h0M286.5 185.1h0M293.9 173.5h0M292.4 160.5h0M288.9 188.6h0M286.7 194.4h0" stroke="#8d8985" stroke-width="0.70" stroke-linecap="round" fill="none"/>
<path d="M292.3 174.5h0M289.3 159.2h0M282.4 158.4h0M286.2 161.4h0M288.0 189.5h0M291.8 159.1h0M288.8 199.3h0M285.5 159.2h0M291.3 159.0h0M290.5 184.0h0M284.7 157.9h0M288.3 157.8h0M286.6 159.9h0M289.5 158.7h0M292.1 185.6h0M285.1 160.6h0M289.0 198.6h0M285.2 159.1h0M282.6 157.8h0M289.4 197.6h0M292.7 186.0h0M292.4 186.8h0M289.0 198.6h0M288.7 158.1h0M289.2 184.1h0M285.6 159.7h0M283.8 159.3h0M286.9 195.0h0M283.2 159.1h0M286.8 193.5h0M290.1 195.6h0M286.2 159.2h0M286.4 157.9h0M291.2 191.4h0M284.8 157.8h0M291.4 160.0h0M289.1 158.4h0M288.5 200.2h0M288.1 161.5h0M290.6 194.2h0M289.5 188.0h0M295.0 174.5h0M291.7 164.6h0M288.4 189.5h0M292.1 166.9h0M289.2 158.6h0M287.8 159.3h0M287.3 160.3h0M291.0 193.1h0M295.4 172.5h0M291.3 159.0h0M290.2 195.4h0M294.8 165.6h0M290.3 193.1h0M285.1 160.7h0M287.6 187.5h0M284.0 159.8h0M282.9 158.0h0M289.5 158.2h0M291.5 191.7h0M291.1 161.2h0M284.8 159.7h0M289.2 195.9h0M289.6 159.0h0M290.0 161.1h0M293.8 176.0h0M289.3 198.0h0M292.0 174.3h0M287.6 186.3h0M288.2 161.5h0M292.0 186.7h0M291.7 190.1h0M295.5 161.1h0M286.4 183.8h0M289.7 161.7h0M285.6 157.8h0M290.2 189.7h0M290.4 161.1h0M286.2 160.2h0M292.0 190.0h0M289.5 197.4h0M284.0 158.1h0M292.5 178.7h0M285.5 157.8h0M286.7 194.3h0M284.5 159.6h0M284.9 157.9h0M291.4 158.9h0M284.1 159.6h0M292.3 193.9h0M289.4 197.5h0M282.8 159.9h0M291.6 188.0h0M295.0 199.0h0M289.9 196.0h0M282.5 158.4h0M283.0 159.1h0M288.4 192.3h0M284.4 161.5h0M287.6 160.9h0M292.0 190.2h0M294.8 189.9h0M291.9 197.2h0M292.5 187.5h0M291.6 182.3h0M286.2 159.2h0M292.2 189.6h0M288.8 188.0h0M292.8 163.0h0M289.8 158.5h0M290.2 195.2h0M283.3 158.3h0M286.6 157.7h0M289.4 188.8h0M293.2 186.7h0M292.8 189.4h0M292.4 159.4h0M292.4 175.5h0M287.0 187.9h0M292.5 188.8h0M285.9 161.7h0M288.7 159.2h0M287.4 194.1h0M294.9 184.3h0M291.0 185.1h0M294.3 177.3h0M289.5 189.9h0M288.4 160.0h0M285.5 194.3h0M290.8 193.7h0M292.1 177.9h0M294.5 171.7h0M292.0 190.2h0M292.0 198.8h0M287.6 198.1h0M289.3 197.9h0M288.2 200.9h0M291.2 160.5h0M290.5 159.5h0M293.3 186.5h0M288.8 158.0h0M291.4 191.8h0M290.4 161.1h0M288.8 199.3h0M286.8 189.6h0M282.6 159.1h0M294.8 163.9h0M286.2 161.1h0M294.0 184.3h0M292.3 184.4h0M294.4 167.1h0M289.6 183.3h0M285.4 160.2h0M288.4 160.5h0M283.5 160.5h0M286.5 185.1h0M293.9 173.5h0M292.4 160.5h0M288.9 188.6h0M286.7 194.4h0" stroke="#ffffff" stroke-width="0.40" stroke-linecap="round" fill="none"/>
<text x="293.20" y="168.45" font-size="3.30" font-weight="bold" fill="#111" stroke="#111" stroke-width="0.55">Rmgnl</text>
<text x="310.50" y="168.45" font-size="3.30" font-weight="bold" fill="#111" stroke="#111" stroke-width="0.55">Jakab</text>
<text x="296.50" y="171.55" font-size="3.30" font-weight="bold" fill="#111" stroke="#111" stroke-width="0.55">Ser Setbp1</text>
<text x="315.30" y="171.55" font-size="3.30" font-weight="bold" fill="#111" stroke="#111" stroke-width="0.55">Ndl Rry</text>
<text x="314.30" y="173.95" font-size="3.30" font-weight="bold" fill="#111" stroke="#111" stroke-width="0.55">Mcpt6</text>
<text x="293.20" y="176.35" font-size="3.30" font-weight="bold" fill="#111" stroke="#111" stroke-width="0.55">Kyk/Mfabs</text>
<text x="310.50" y="176.35" font-size="3.30" font-weight="bold" fill="#111" stroke="#111" stroke-width="0.55">Myo1c</text>
<text x="293.20" y="179.25" font-size="3.30" font-weight="bold" fill="#111" stroke="#111" stroke-width="0.55">Hoxa9</text>
<text x="312.90" y="179.25" font-size="3.30" font-weight="bold" fill="#111" stroke="#111" stroke-width="0.55">Mybl1</text>
<text x="293.20" y="181.95" font-size="3.30" font-weight="bold" fill="#111" stroke="#111" stroke-width="0.55">Meis1</text>
<text x="308.60" y="181.95" font-size="3.30" font-weight="bold" fill="#111" stroke="#111" stroke-width="0.55">Kmt2a</text>
<circle cx="306.12" cy="176.84" r="0.50" fill="#e03a3a" />
<circle cx="305.72" cy="172.48" r="0.50" fill="#e03a3a" />
<circle cx="308.16" cy="178.30" r="0.50" fill="#e03a3a" />
<circle cx="304.16" cy="175.44" r="0.50" fill="#e03a3a" />
<circle cx="301.38" cy="173.95" r="0.50" fill="#e03a3a" />
<circle cx="302.62" cy="177.47" r="0.50" fill="#e03a3a" />
<line x1="278.60" y1="142.60" x2="278.60" y2="218.10" stroke="#111" stroke-width="1.00" />
<line x1="278.60" y1="217.70" x2="342.00" y2="217.70" stroke="#111" stroke-width="1.00" />
<line x1="275.60" y1="144.90" x2="278.60" y2="144.90" stroke="#111" stroke-width="0.70" />
<text x="274.00" y="146.15" font-size="3.60" text-anchor="end" stroke="#231f20" stroke-width="0.08">5.0</text>
<line x1="275.60" y1="163.15" x2="278.60" y2="163.15" stroke="#111" stroke-width="0.70" />
<text x="274.00" y="164.40" font-size="3.60" text-anchor="end" stroke="#231f20" stroke-width="0.08">2.5</text>
<line x1="275.60" y1="181.40" x2="278.60" y2="181.40" stroke="#111" stroke-width="0.70" />
<text x="274.00" y="182.65" font-size="3.60" text-anchor="end" stroke="#231f20" stroke-width="0.08">0.0</text>
<line x1="275.60" y1="199.65" x2="278.60" y2="199.65" stroke="#111" stroke-width="0.70" />
<text x="274.00" y="200.90" font-size="3.60" text-anchor="end" stroke="#231f20" stroke-width="0.08">-2.5</text>
<line x1="275.60" y1="217.90" x2="278.60" y2="217.90" stroke="#111" stroke-width="0.70" />
<text x="274.00" y="219.15" font-size="3.60" text-anchor="end" stroke="#231f20" stroke-width="0.08">-5.0</text>
<line x1="282.30" y1="217.70" x2="282.30" y2="220.30" stroke="#111" stroke-width="0.70" />
<text x="282.30" y="227.00" font-size="3.80" text-anchor="middle" stroke="#231f20" stroke-width="0.08">0</text>
<line x1="296.50" y1="217.70" x2="296.50" y2="220.30" stroke="#111" stroke-width="0.70" />
<text x="296.50" y="227.00" font-size="3.80" text-anchor="middle" stroke="#231f20" stroke-width="0.08">2</text>
<line x1="310.60" y1="217.70" x2="310.60" y2="220.30" stroke="#111" stroke-width="0.70" />
<text x="310.60" y="227.00" font-size="3.80" text-anchor="middle" stroke="#231f20" stroke-width="0.08">4</text>
<line x1="325.00" y1="217.70" x2="325.00" y2="220.30" stroke="#111" stroke-width="0.70" />
<text x="325.00" y="227.00" font-size="3.80" text-anchor="middle" stroke="#231f20" stroke-width="0.08">6</text>
<line x1="339.40" y1="217.70" x2="339.40" y2="220.30" stroke="#111" stroke-width="0.70" />
<text x="339.40" y="227.00" font-size="3.80" text-anchor="middle" stroke="#231f20" stroke-width="0.08">8</text>
<line x1="292.50" y1="143.50" x2="292.50" y2="217.70" stroke="#e0302a" stroke-width="0.95" stroke-dasharray="2.5 1.5"/>
<line x1="278.60" y1="183.50" x2="335.00" y2="183.50" stroke="#e0302a" stroke-width="0.95" stroke-dasharray="2.5 1.5"/>
<text x="291.70" y="142.00" font-size="2.56" textLength="16.00" lengthAdjust="spacingAndGlyphs" stroke="#231f20" stroke-width="0.08">negFDR = 0.2</text>
<text x="335.50" y="184.40" font-size="2.63" textLength="12.50" lengthAdjust="spacingAndGlyphs" stroke="#231f20" stroke-width="0.08">FPKM=0.5</text>
<text x="310.85" y="234.60" font-size="5.00" text-anchor="middle" textLength="27.00" lengthAdjust="spacingAndGlyphs" stroke="#231f20" stroke-width="0.15">-Log<tspan font-size="3.00" dy="-1.80">10</tspan><tspan dy="1.80">(</tspan><tspan font-style="italic">P dropout</tspan>)</text>
<text x="259.40" y="180.00" font-size="5.00" text-anchor="middle" textLength="26.00" lengthAdjust="spacingAndGlyphs" transform="rotate(-90.0 259.40 180.00)" stroke="#231f20" stroke-width="0.15">Log<tspan font-size="3.00" dy="-1.80">10</tspan><tspan dy="1.80"> (FPKM)</tspan></text>
<path d="M403.70,161.50 C415.70,159.50 434.80,161.00 442.80,163.50 L442.80,181.50 C434.80,184.00 415.70,186.00 403.70,186.00 Z" fill="#dedbd8" stroke="none" stroke-width="0.60" opacity="0.00"/>
<path d="M440.8 185.1h0M405.3 172.4h0M421.7 160.3h0M418.0 162.2h0M404.0 164.0h0M417.1 180.8h0M414.6 164.5h0M424.4 177.8h0M443.2 164.3h0M414.9 178.8h0M412.8 162.3h0M430.4 173.1h0M426.8 160.2h0M413.2 166.3h0M406.2 159.3h0M411.4 183.2h0M413.5 161.0h0M412.5 175.8h0M410.8 164.5h0M429.9 167.4h0M422.4 177.0h0M441.9 165.8h0M404.7 159.2h0M434.9 187.3h0M434.7 175.5h0M444.2 170.3h0M443.4 160.4h0M405.1 160.4h0M441.3 166.8h0M405.9 165.6h0M422.3 167.8h0M417.1 173.0h0M413.9 183.0h0M439.3 172.1h0M429.2 178.3h0M410.1 161.9h0M433.0 175.8h0M435.8 163.4h0M413.5 183.6h0M410.4 163.1h0M423.1 167.3h0M423.1 162.1h0M430.4 161.6h0M433.7 165.1h0M408.9 165.7h0M418.2 159.6h0M429.5 163.8h0M422.1 175.2h0M412.2 163.3h0M438.3 174.4h0M433.3 177.3h0M412.0 161.4h0M412.4 170.2h0M415.7 164.7h0M419.4 167.9h0M411.5 160.5h0M411.0 174.6h0M406.0 159.8h0M423.3 165.0h0M410.8 167.7h0M443.9 162.2h0M434.8 161.5h0M407.1 163.4h0M431.4 163.8h0M412.0 165.4h0M427.4 165.8h0M440.2 159.1h0M425.4 164.1h0M419.1 176.4h0M433.0 177.3h0M424.5 159.9h0M405.6 166.6h0M417.3 163.3h0M421.9 172.8h0M414.7 181.1h0M440.9 165.2h0M443.8 164.5h0M415.4 183.4h0M404.3 164.1h0M432.4 166.7h0M416.5 161.2h0M417.3 176.9h0M416.8 161.2h0M428.2 160.2h0M435.5 187.1h0M422.0 172.5h0M425.2 187.5h0M427.7 159.4h0M436.5 161.7h0M404.7 161.7h0M443.5 180.1h0M428.0 160.2h0M425.0 163.1h0M421.0 164.3h0M404.9 160.0h0M426.8 163.3h0M432.0 175.4h0M408.7 165.8h0M411.1 162.5h0M422.4 169.0h0M442.8 164.5h0M423.5 165.1h0M429.0 179.0h0M406.1 187.2h0M406.1 163.1h0M405.3 180.4h0M442.5 174.8h0M411.3 187.8h0M427.0 166.3h0M431.2 162.9h0M435.5 160.5h0M404.8 164.8h0M443.5 164.7h0M432.4 176.4h0M434.3 164.8h0M434.3 163.1h0M420.9 172.2h0M437.1 161.3h0M428.1 183.5h0M409.0 182.5h0M407.0 163.1h0M443.5 172.6h0M420.7 175.1h0M422.0 186.2h0M434.5 168.2h0M424.9 180.4h0M442.2 164.4h0M420.7 160.4h0M420.4 181.7h0M405.7 161.6h0M438.8 160.1h0M422.6 159.3h0M424.5 181.9h0M431.3 162.9h0M426.6 173.1h0M404.6 168.2h0M431.4 164.5h0M413.7 162.0h0M419.5 171.9h0M428.0 164.1h0M407.9 186.5h0M404.0 182.0h0M429.2 164.1h0M433.0 187.0h0M442.0 186.0h0M407.0 162.7h0M421.4 178.2h0M425.8 186.5h0M416.2 177.2h0M416.3 160.1h0M403.8 161.1h0M405.3 161.5h0M440.9 179.0h0M436.8 159.8h0M425.3 165.9h0M417.2 167.6h0M405.6 179.7h0M410.7 187.3h0M428.9 187.5h0M407.1 181.1h0M431.1 162.8h0M424.3 162.4h0M415.2 164.5h0M406.2 159.8h0M406.2 165.1h0M414.4 163.7h0M413.5 181.2h0M418.5 177.7h0M437.1 185.3h0M431.8 162.5h0" stroke="#8f8b87" stroke-width="0.75" stroke-linecap="round" fill="none"/>
<path d="M440.8 185.1h0M405.3 172.4h0M421.7 160.3h0M418.0 162.2h0M404.0 164.0h0M417.1 180.8h0M414.6 164.5h0M424.4 177.8h0M443.2 164.3h0M414.9 178.8h0M412.8 162.3h0M430.4 173.1h0M426.8 160.2h0M413.2 166.3h0M406.2 159.3h0M411.4 183.2h0M413.5 161.0h0M412.5 175.8h0M410.8 164.5h0M429.9 167.4h0M422.4 177.0h0M441.9 165.8h0M404.7 159.2h0M434.9 187.3h0M434.7 175.5h0M444.2 170.3h0M443.4 160.4h0M405.1 160.4h0M441.3 166.8h0M405.9 165.6h0M422.3 167.8h0M417.1 173.0h0M413.9 183.0h0M439.3 172.1h0M429.2 178.3h0M410.1 161.9h0M433.0 175.8h0M435.8 163.4h0M413.5 183.6h0M410.4 163.1h0M423.1 167.3h0M423.1 162.1h0M430.4 161.6h0M433.7 165.1h0M408.9 165.7h0M418.2 159.6h0M429.5 163.8h0M422.1 175.2h0M412.2 163.3h0M438.3 174.4h0M433.3 177.3h0M412.0 161.4h0M412.4 170.2h0M415.7 164.7h0M419.4 167.9h0M411.5 160.5h0M411.0 174.6h0M406.0 159.8h0M423.3 165.0h0M410.8 167.7h0M443.9 162.2h0M434.8 161.5h0M407.1 163.4h0M431.4 163.8h0M412.0 165.4h0M427.4 165.8h0M440.2 159.1h0M425.4 164.1h0M419.1 176.4h0M433.0 177.3h0M424.5 159.9h0M405.6 166.6h0M417.3 163.3h0M421.9 172.8h0M414.7 181.1h0M440.9 165.2h0M443.8 164.5h0M415.4 183.4h0M404.3 164.1h0M432.4 166.7h0M416.5 161.2h0M417.3 176.9h0M416.8 161.2h0M428.2 160.2h0M435.5 187.1h0M422.0 172.5h0M425.2 187.5h0M427.7 159.4h0M436.5 161.7h0M404.7 161.7h0M443.5 180.1h0M428.0 160.2h0M425.0 163.1h0M421.0 164.3h0M404.9 160.0h0M426.8 163.3h0M432.0 175.4h0M408.7 165.8h0M411.1 162.5h0M422.4 169.0h0M442.8 164.5h0M423.5 165.1h0M429.0 179.0h0M406.1 187.2h0M406.1 163.1h0M405.3 180.4h0M442.5 174.8h0M411.3 187.8h0M427.0 166.3h0M431.2 162.9h0M435.5 160.5h0M404.8 164.8h0M443.5 164.7h0M432.4 176.4h0M434.3 164.8h0M434.3 163.1h0M420.9 172.2h0M437.1 161.3h0M428.1 183.5h0M409.0 182.5h0M407.0 163.1h0M443.5 172.6h0M420.7 175.1h0M422.0 186.2h0M434.5 168.2h0M424.9 180.4h0M442.2 164.4h0M420.7 160.4h0M420.4 181.7h0M405.7 161.6h0M438.8 160.1h0M422.6 159.3h0M424.5 181.9h0M431.3 162.9h0M426.6 173.1h0M404.6 168.2h0M431.4 164.5h0M413.7 162.0h0M419.5 171.9h0M428.0 164.1h0M407.9 186.5h0M404.0 182.0h0M429.2 164.1h0M433.0 187.0h0M442.0 186.0h0M407.0 162.7h0M421.4 178.2h0M425.8 186.5h0M416.2 177.2h0M416.3 160.1h0M403.8 161.1h0M405.3 161.5h0M440.9 179.0h0M436.8 159.8h0M425.3 165.9h0M417.2 167.6h0M405.6 179.7h0M410.7 187.3h0M428.9 187.5h0M407.1 181.1h0M431.1 162.8h0M424.3 162.4h0M415.2 164.5h0M406.2 159.8h0M406.2 165.1h0M414.4 163.7h0M413.5 181.2h0M418.5 177.7h0M437.1 185.3h0M431.8 162.5h0" stroke="#ffffff" stroke-width="0.42" stroke-linecap="round" fill="none"/>
<path d="M403.70,164.50 L441.50,164.50 L441.50,181.00 L403.70,181.00 Z" fill="#a8a4a0" stroke="none" stroke-width="0.60" opacity="0.45"/>
<path d="M391.60,161.00 L404.00,161.00 L404.00,183.00 C401.50,190.00 396.60,199.00 395.30,201.70 C394.10,203.10 392.10,202.80 391.60,201.50 Z" fill="#7d7b78" stroke="none" stroke-width="0.60" />
<path d="M400.7 197.2h0M406.0 182.6h0M395.1 192.3h0M399.9 199.5h0M397.4 200.3h0M396.9 183.7h0M405.0 165.4h0M405.0 191.3h0M403.7 181.9h0M399.0 161.2h0M396.0 187.0h0M391.6 161.1h0M406.2 168.2h0M403.6 170.6h0M398.2 186.9h0M393.7 160.3h0M402.9 182.6h0M400.3 159.5h0M400.5 159.6h0M398.5 192.4h0M395.6 199.9h0M400.9 160.0h0M393.9 159.8h0M393.3 159.8h0M404.8 180.9h0M404.4 183.9h0M399.7 159.5h0M399.9 199.6h0M396.5 160.8h0M395.0 197.7h0M404.9 187.6h0M406.1 193.8h0M395.7 198.5h0M405.5 173.6h0M405.2 173.5h0M397.3 187.7h0M402.9 195.8h0M398.5 162.3h0M403.6 164.7h0M397.3 191.3h0M392.7 161.8h0M394.8 161.1h0M401.3 163.1h0M401.4 160.2h0M395.3 197.5h0M403.7 167.6h0M402.0 162.6h0M402.5 162.5h0M406.6 167.3h0M394.9 186.7h0M397.4 187.3h0M397.2 163.2h0M400.8 197.0h0M401.3 162.6h0M404.5 182.7h0M397.1 162.1h0M406.3 174.6h0M399.1 201.7h0M398.6 200.0h0M398.5 161.3h0M405.2 169.0h0M392.0 162.5h0M399.1 187.4h0M397.0 193.3h0M395.5 162.3h0M395.6 161.8h0M403.3 173.3h0M395.4 161.5h0M403.4 189.8h0M401.5 192.8h0M396.8 195.0h0M401.6 194.6h0M404.5 186.5h0M393.1 162.3h0M400.5 159.9h0M399.1 159.6h0M400.7 197.2h0M402.6 161.8h0M404.1 176.3h0M401.0 196.5h0M396.7 160.8h0M393.0 162.5h0M395.9 159.6h0M402.2 184.5h0M406.7 191.0h0M405.5 161.9h0M394.5 159.6h0M401.8 190.1h0M397.4 188.5h0M394.4 162.9h0M399.8 199.9h0M399.0 201.9h0M396.6 163.0h0M398.9 199.1h0M403.4 188.2h0M400.0 199.4h0M400.8 197.0h0M398.6 160.3h0M398.5 202.5h0M401.2 162.8h0M398.7 160.4h0M396.9 162.3h0M396.5 195.7h0M401.0 191.7h0M405.3 187.5h0M399.5 191.3h0M399.9 184.4h0M392.2 159.7h0M396.2 161.3h0M394.4 161.3h0M394.8 161.5h0M395.3 183.3h0M401.4 195.3h0M403.4 162.2h0M406.1 162.6h0M401.2 161.1h0M403.0 198.5h0M399.6 199.2h0M400.2 186.6h0M396.4 188.9h0M391.8 160.7h0M397.3 160.9h0M397.2 160.6h0M398.1 160.8h0M402.9 163.4h0M399.6 161.8h0M398.1 160.6h0M397.1 159.7h0M403.5 162.6h0M403.7 160.8h0M404.0 196.8h0M404.8 185.7h0M395.8 162.6h0M403.2 177.4h0M392.4 160.0h0M395.3 161.2h0M405.3 191.4h0M395.5 161.1h0M391.8 160.6h0M402.9 181.2h0M400.8 159.7h0M402.5 192.0h0M402.4 159.6h0M406.0 196.4h0M404.2 186.0h0M401.7 190.4h0M403.9 183.4h0M392.3 163.0h0M396.1 163.4h0M396.5 193.6h0M401.9 188.3h0M403.0 161.9h0M400.6 197.7h0M401.1 161.4h0M395.4 163.5h0M406.3 181.0h0M399.4 197.3h0M398.9 202.1h0M395.1 198.9h0M395.0 161.3h0" stroke="#8d8985" stroke-width="0.70" stroke-linecap="round" fill="none"/>
<path d="M400.7 197.2h0M406.0 182.6h0M395.1 192.3h0M399.9 199.5h0M397.4 200.3h0M396.9 183.7h0M405.0 165.4h0M405.0 191.3h0M403.7 181.9h0M399.0 161.2h0M396.0 187.0h0M391.6 161.1h0M406.2 168.2h0M403.6 170.6h0M398.2 186.9h0M393.7 160.3h0M402.9 182.6h0M400.3 159.5h0M400.5 159.6h0M398.5 192.4h0M395.6 199.9h0M400.9 160.0h0M393.9 159.8h0M393.3 159.8h0M404.8 180.9h0M404.4 183.9h0M399.7 159.5h0M399.9 199.6h0M396.5 160.8h0M395.0 197.7h0M404.9 187.6h0M406.1 193.8h0M395.7 198.5h0M405.5 173.6h0M405.2 173.5h0M397.3 187.7h0M402.9 195.8h0M398.5 162.3h0M403.6 164.7h0M397.3 191.3h0M392.7 161.8h0M394.8 161.1h0M401.3 163.1h0M401.4 160.2h0M395.3 197.5h0M403.7 167.6h0M402.0 162.6h0M402.5 162.5h0M406.6 167.3h0M394.9 186.7h0M397.4 187.3h0M397.2 163.2h0M400.8 197.0h0M401.3 162.6h0M404.5 182.7h0M397.1 162.1h0M406.3 174.6h0M399.1 201.7h0M398.6 200.0h0M398.5 161.3h0M405.2 169.0h0M392.0 162.5h0M399.1 187.4h0M397.0 193.3h0M395.5 162.3h0M395.6 161.8h0M403.3 173.3h0M395.4 161.5h0M403.4 189.8h0M401.5 192.8h0M396.8 195.0h0M401.6 194.6h0M404.5 186.5h0M393.1 162.3h0M400.5 159.9h0M399.1 159.6h0M400.7 197.2h0M402.6 161.8h0M404.1 176.3h0M401.0 196.5h0M396.7 160.8h0M393.0 162.5h0M395.9 159.6h0M402.2 184.5h0M406.7 191.0h0M405.5 161.9h0M394.5 159.6h0M401.8 190.1h0M397.4 188.5h0M394.4 162.9h0M399.8 199.9h0M399.0 201.9h0M396.6 163.0h0M398.9 199.1h0M403.4 188.2h0M400.0 199.4h0M400.8 197.0h0M398.6 160.3h0M398.5 202.5h0M401.2 162.8h0M398.7 160.4h0M396.9 162.3h0M396.5 195.7h0M401.0 191.7h0M405.3 187.5h0M399.5 191.3h0M399.9 184.4h0M392.2 159.7h0M396.2 161.3h0M394.4 161.3h0M394.8 161.5h0M395.3 183.3h0M401.4 195.3h0M403.4 162.2h0M406.1 162.6h0M401.2 161.1h0M403.0 198.5h0M399.6 199.2h0M400.2 186.6h0M396.4 188.9h0M391.8 160.7h0M397.3 160.9h0M397.2 160.6h0M398.1 160.8h0M402.9 163.4h0M399.6 161.8h0M398.1 160.6h0M397.1 159.7h0M403.5 162.6h0M403.7 160.8h0M404.0 196.8h0M404.8 185.7h0M395.8 162.6h0M403.2 177.4h0M392.4 160.0h0M395.3 161.2h0M405.3 191.4h0M395.5 161.1h0M391.8 160.6h0M402.9 181.2h0M400.8 159.7h0M402.5 192.0h0M402.4 159.6h0M406.0 196.4h0M404.2 186.0h0M401.7 190.4h0M403.9 183.4h0M392.3 163.0h0M396.1 163.4h0M396.5 193.6h0M401.9 188.3h0M403.0 161.9h0M400.6 197.7h0M401.1 161.4h0M395.4 163.5h0M406.3 181.0h0M399.4 197.3h0M398.9 202.1h0M395.1 198.9h0M395.0 161.3h0" stroke="#ffffff" stroke-width="0.40" stroke-linecap="round" fill="none"/>
<text x="405.60" y="166.35" font-size="3.30" font-weight="bold" fill="#111" stroke="#111" stroke-width="0.55">Ebf1</text>
<text x="416.20" y="166.35" font-size="3.30" font-weight="bold" fill="#111" stroke="#111" stroke-width="0.55">Meis1a</text>
<text x="405.60" y="169.55" font-size="3.30" font-weight="bold" fill="#111" stroke="#111" stroke-width="0.55">Hoxa9 Setbp1 Kmt2d</text>
<text x="402.40" y="172.75" font-size="3.30" font-weight="bold" fill="#111" stroke="#111" stroke-width="0.55">Fli1 Myb Ezh2</text>
<text x="403.50" y="175.55" font-size="3.30" font-weight="bold" fill="#111" stroke="#111" stroke-width="0.55">Kit Mcl1 Brd4 Dot1</text>
<text x="406.60" y="178.55" font-size="3.30" font-weight="bold" fill="#111" stroke="#111" stroke-width="0.55">Jak2 Mpl Stat5</text>
<text x="404.00" y="181.15" font-size="3.30" font-weight="bold" fill="#111" stroke="#111" stroke-width="0.55">Rara</text>
<circle cx="411.99" cy="172.39" r="0.50" fill="#e03a3a" />
<circle cx="417.70" cy="173.36" r="0.50" fill="#e03a3a" />
<circle cx="423.00" cy="175.23" r="0.50" fill="#e03a3a" />
<circle cx="407.96" cy="169.85" r="0.50" fill="#e03a3a" />
<circle cx="409.62" cy="170.99" r="0.50" fill="#e03a3a" />
<circle cx="418.12" cy="177.22" r="0.50" fill="#e03a3a" />
<line x1="388.00" y1="142.60" x2="388.00" y2="218.10" stroke="#111" stroke-width="1.00" />
<line x1="388.00" y1="217.70" x2="454.80" y2="217.70" stroke="#111" stroke-width="1.00" />
<line x1="385.00" y1="144.90" x2="388.00" y2="144.90" stroke="#111" stroke-width="0.70" />
<text x="383.40" y="146.15" font-size="3.60" text-anchor="end" stroke="#231f20" stroke-width="0.08">5.0</text>
<line x1="385.00" y1="163.15" x2="388.00" y2="163.15" stroke="#111" stroke-width="0.70" />
<text x="383.40" y="164.40" font-size="3.60" text-anchor="end" stroke="#231f20" stroke-width="0.08">2.5</text>
<line x1="385.00" y1="181.40" x2="388.00" y2="181.40" stroke="#111" stroke-width="0.70" />
<text x="383.40" y="182.65" font-size="3.60" text-anchor="end" stroke="#231f20" stroke-width="0.08">0.0</text>
<line x1="385.00" y1="199.65" x2="388.00" y2="199.65" stroke="#111" stroke-width="0.70" />
<text x="383.40" y="200.90" font-size="3.60" text-anchor="end" stroke="#231f20" stroke-width="0.08">-2.5</text>
<line x1="385.00" y1="217.90" x2="388.00" y2="217.90" stroke="#111" stroke-width="0.70" />
<text x="383.40" y="219.15" font-size="3.60" text-anchor="end" stroke="#231f20" stroke-width="0.08">-5.0</text>
<line x1="391.60" y1="217.70" x2="391.60" y2="220.30" stroke="#111" stroke-width="0.70" />
<text x="391.60" y="227.00" font-size="3.80" text-anchor="middle" stroke="#231f20" stroke-width="0.08">0</text>
<line x1="406.30" y1="217.70" x2="406.30" y2="220.30" stroke="#111" stroke-width="0.70" />
<text x="406.30" y="227.00" font-size="3.80" text-anchor="middle" stroke="#231f20" stroke-width="0.08">2</text>
<line x1="421.60" y1="217.70" x2="421.60" y2="220.30" stroke="#111" stroke-width="0.70" />
<text x="421.60" y="227.00" font-size="3.80" text-anchor="middle" stroke="#231f20" stroke-width="0.08">4</text>
<line x1="436.60" y1="217.70" x2="436.60" y2="220.30" stroke="#111" stroke-width="0.70" />
<text x="436.60" y="227.00" font-size="3.80" text-anchor="middle" stroke="#231f20" stroke-width="0.08">6</text>
<line x1="451.70" y1="217.70" x2="451.70" y2="220.30" stroke="#111" stroke-width="0.70" />
<text x="451.70" y="227.00" font-size="3.80" text-anchor="middle" stroke="#231f20" stroke-width="0.08">8</text>
<line x1="403.70" y1="143.50" x2="403.70" y2="217.70" stroke="#e0302a" stroke-width="0.95" stroke-dasharray="2.5 1.5"/>
<line x1="388.00" y1="183.50" x2="447.80" y2="183.50" stroke="#e0302a" stroke-width="0.95" stroke-dasharray="2.5 1.5"/>
<text x="402.90" y="142.00" font-size="2.56" textLength="16.00" lengthAdjust="spacingAndGlyphs" stroke="#231f20" stroke-width="0.08">negFDR = 0.2</text>
<text x="448.30" y="184.40" font-size="2.63" textLength="12.50" lengthAdjust="spacingAndGlyphs" stroke="#231f20" stroke-width="0.08">FPKM=0.5</text>
<text x="421.65" y="234.60" font-size="5.00" text-anchor="middle" textLength="27.00" lengthAdjust="spacingAndGlyphs" stroke="#231f20" stroke-width="0.15">-Log<tspan font-size="3.00" dy="-1.80">10</tspan><tspan dy="1.80">(</tspan><tspan font-style="italic">P dropout</tspan>)</text>
<text x="371.00" y="180.00" font-size="5.00" text-anchor="middle" textLength="26.00" lengthAdjust="spacingAndGlyphs" transform="rotate(-90.0 371.00 180.00)" stroke="#231f20" stroke-width="0.15">Log<tspan font-size="3.00" dy="-1.80">10</tspan><tspan dy="1.80"> (FPKM)</tspan></text>
<text x="79.40" y="281.20" font-size="6.05" textLength="46.10" lengthAdjust="spacingAndGlyphs" stroke="#231f20" stroke-width="0.08">Dropout genes in</text>
<text x="35.30" y="288.30" font-size="6.16" textLength="133.30" lengthAdjust="spacingAndGlyphs" stroke="#231f20" stroke-width="0.08"><tspan font-style="italic">Flt3</tspan><tspan font-size="3.70" dy="-2.22">ITD/+</tspan><tspan dy="2.22"> </tspan><tspan font-style="italic">Setbp1</tspan><tspan font-size="3.70" dy="-2.22">IM+</tspan><tspan dy="2.22"> • HPC7 and MLL-AF9 cell lines</tspan></text>
<text x="69.00" y="297.60" font-size="4.41" textLength="33.60" lengthAdjust="spacingAndGlyphs" stroke="#231f20" stroke-width="0.08"><tspan font-style="italic">Flt3</tspan><tspan font-size="2.65" dy="-1.59">ITD/+</tspan><tspan dy="1.59"> </tspan><tspan font-style="italic">Setbp1</tspan><tspan font-size="2.65" dy="-1.59">IM+</tspan></text>
<text x="62.40" y="303.40" font-size="4.32" textLength="47.40" lengthAdjust="spacingAndGlyphs" stroke="#231f20" stroke-width="0.08">Genes with negFDR&lt;0.2</text>
<circle cx="102.90" cy="340.60" r="27.90" fill="#f2dc8c" />
<circle cx="85.60" cy="366.60" r="27.60" fill="#b4d2ee" />
<circle cx="119.80" cy="366.60" r="27.80" fill="#a894b4" />
<circle cx="85.60" cy="366.60" r="27.60" fill="#aec4b4" clip-path="url(#eY)"/>
<circle cx="119.80" cy="366.60" r="27.80" fill="#a28478" clip-path="url(#eY)"/>
<circle cx="119.80" cy="366.60" r="27.80" fill="#827ea8" clip-path="url(#eB)"/>
<g clip-path="url(#eB)"><circle cx="119.80" cy="366.60" r="27.80" fill="#80748e" clip-path="url(#eY)"/></g>
<circle cx="102.90" cy="340.60" r="27.90" fill="none" stroke="#fff" stroke-width="0.55"/>
<circle cx="85.60" cy="366.60" r="27.60" fill="none" stroke="#fff" stroke-width="0.55"/>
<circle cx="119.80" cy="366.60" r="27.80" fill="none" stroke="#fff" stroke-width="0.55"/>
<line x1="86.40" y1="308.50" x2="86.40" y2="325.80" stroke="#231f20" stroke-width="0.60" />
<line x1="84.90" y1="385.70" x2="84.90" y2="394.60" stroke="#231f20" stroke-width="0.60" />
<line x1="114.50" y1="385.70" x2="114.50" y2="394.60" stroke="#231f20" stroke-width="0.60" />
<line x1="106.70" y1="363.00" x2="160.00" y2="383.60" stroke="#231f20" stroke-width="0.45" />
<text x="102.50" y="326.30" font-size="6.70" text-anchor="middle" font-weight="bold" fill="#d4237f" stroke="#d4237f" stroke-width="0.3">966</text>
<text x="84.70" y="348.90" font-size="4.30" text-anchor="middle" stroke="#231f20" stroke-width="0.08">906</text>
<text x="117.70" y="347.70" font-size="4.30" text-anchor="middle" stroke="#231f20" stroke-width="0.08">46</text>
<text x="102.50" y="359.40" font-size="4.30" text-anchor="middle" stroke="#231f20" stroke-width="0.08">420</text>
<text x="74.70" y="367.60" font-size="4.30" text-anchor="middle" stroke="#231f20" stroke-width="0.08">231</text>
<text x="130.30" y="367.60" font-size="4.30" text-anchor="middle" stroke="#231f20" stroke-width="0.08">51</text>
<text x="102.00" y="377.00" font-size="4.30" text-anchor="middle" stroke="#231f20" stroke-width="0.08">27</text>
<text x="144.60" y="388.60" font-size="3.99" font-style="italic" fill="#3a5aa6" textLength="41.00" lengthAdjust="spacingAndGlyphs" stroke="#3a5aa6" stroke-width="0.08">shared essential genes</text>
<text x="75.40" y="401.50" font-size="4.50" textLength="12.00" lengthAdjust="spacingAndGlyphs" stroke="#231f20" stroke-width="0.08">HPC7</text>
<text x="43.50" y="406.80" font-size="4.55" textLength="49.90" lengthAdjust="spacingAndGlyphs" stroke="#231f20" stroke-width="0.08">Genes with negFDR&lt;0.2</text>
<text x="111.80" y="401.50" font-size="4.10" stroke="#231f20" stroke-width="0.08">MLL-AF9</text>
<text x="111.80" y="406.80" font-size="4.12" textLength="45.20" lengthAdjust="spacingAndGlyphs" stroke="#231f20" stroke-width="0.08">Genes with negFDR&lt;0.2</text>
<text x="240.70" y="283.80" font-size="6.11" textLength="218.80" lengthAdjust="spacingAndGlyphs" stroke="#231f20" stroke-width="0.08">Identifying <tspan font-style="italic">Flt3</tspan><tspan font-size="3.66" dy="-2.20">ITD/+</tspan><tspan dy="2.20">/</tspan><tspan font-style="italic">Setbp1</tspan><tspan font-size="3.66" dy="-2.20">IM+</tspan><tspan dy="2.20"> specific essential genes by determining difference in</tspan></text>
<text x="257.00" y="291.80" font-size="6.10" textLength="185.20" lengthAdjust="spacingAndGlyphs" stroke="#231f20" stroke-width="0.08">negFDR for the genes with negFDR &lt;0.2 in <tspan font-style="italic">Flt3</tspan><tspan font-size="3.66" dy="-2.19">ITD/+</tspan><tspan dy="2.19">/</tspan><tspan font-style="italic">Setbp1</tspan><tspan font-size="3.66" dy="-2.19">IM+</tspan><tspan dy="2.19"> screen</tspan></text>
<path d="M230.2 314.6h0M238.2 314.3h0M244.1 332.7h0M276.3 313.5h0M263.3 315.0h0M292.5 315.7h0M254.9 313.7h0M250.3 333.1h0M242.7 314.5h0M289.8 328.0h0M242.3 313.6h0M231.3 328.2h0M270.6 314.0h0M279.8 313.6h0M270.0 314.3h0M250.6 319.5h0M282.3 313.9h0M292.3 329.1h0M240.6 317.1h0M272.1 313.6h0M241.6 322.4h0M273.4 315.2h0M270.5 331.6h0M258.2 326.0h0M279.3 313.4h0M235.7 333.3h0M241.7 321.6h0M283.5 316.2h0M279.3 314.7h0M253.0 319.2h0M231.8 314.4h0M273.3 318.7h0M245.5 313.7h0M251.5 314.6h0M253.1 313.5h0M237.3 334.9h0M268.3 313.7h0M241.6 329.2h0M241.0 321.0h0M262.6 326.9h0M262.6 315.6h0M274.8 313.5h0M237.2 319.2h0M289.1 317.8h0M239.9 333.3h0M256.3 314.0h0M256.3 317.0h0M244.8 319.4h0M281.8 314.0h0M268.3 330.2h0M242.2 327.8h0M254.8 327.3h0M242.0 314.3h0M252.7 334.5h0M245.2 315.9h0M261.0 329.7h0M240.9 314.7h0M259.9 313.5h0M229.4 323.2h0M248.4 322.9h0M254.9 330.7h0M267.7 323.8h0M249.6 313.4h0M265.7 314.3h0M289.0 316.6h0M283.7 314.3h0M253.9 317.2h0M243.4 326.0h0M244.7 313.4h0M289.8 314.2h0M291.6 334.6h0M245.1 335.9h0M238.3 313.5h0M255.3 315.3h0M238.3 313.7h0M280.2 315.9h0M259.7 329.9h0M281.8 314.3h0M240.1 313.6h0M265.4 328.7h0M254.0 332.4h0M272.7 335.1h0M275.6 314.9h0M281.1 330.5h0M276.1 326.3h0M264.6 325.7h0M238.1 328.3h0M284.5 313.7h0M253.5 314.8h0M256.1 315.5h0M246.7 320.2h0M251.1 313.5h0M286.8 314.2h0M277.1 313.6h0M278.7 313.4h0M235.4 323.8h0M260.2 320.9h0M259.9 314.2h0M267.4 314.1h0M278.4 314.4h0M274.2 327.3h0M285.4 318.1h0M278.0 315.1h0M267.0 327.6h0M291.1 313.9h0M234.1 313.5h0M290.8 316.8h0M281.1 332.8h0M258.1 313.9h0M284.9 314.7h0M286.2 328.4h0M261.0 313.5h0M238.0 332.3h0M274.2 318.1h0M251.3 318.2h0M233.9 321.6h0M247.7 313.5h0M235.6 316.8h0M251.4 314.3h0M248.3 313.9h0M248.2 334.5h0M255.0 313.5h0M231.7 315.1h0M284.0 329.9h0M250.0 315.5h0M284.5 331.2h0M252.1 321.8h0M285.3 313.4h0M264.8 323.2h0M238.8 319.6h0M236.1 321.1h0M260.5 313.5h0M259.0 313.7h0M270.3 333.0h0M290.7 321.7h0M253.1 317.5h0M291.5 313.6h0M258.7 325.2h0M289.6 313.4h0M267.0 320.5h0M278.6 317.1h0M278.0 313.5h0M291.3 329.6h0M290.9 314.9h0M258.1 314.2h0M272.8 333.1h0M271.0 313.9h0M231.6 320.3h0M269.0 314.0h0M286.4 315.7h0M264.6 333.0h0M259.0 323.8h0M288.5 314.7h0M267.8 328.9h0M236.9 315.5h0M233.8 316.0h0M248.7 313.8h0M274.3 327.4h0M284.4 313.9h0M236.8 313.4h0M234.1 313.6h0M253.2 329.5h0M237.1 317.5h0M292.5 313.9h0M292.2 329.0h0M243.6 320.7h0M243.7 326.1h0M281.0 326.3h0M292.4 313.7h0M243.5 314.3h0M287.6 318.4h0M284.6 314.8h0M266.5 313.4h0M279.7 318.4h0M254.4 314.7h0M232.6 330.4h0M281.0 314.3h0M261.0 313.6h0M251.9 313.5h0M287.0 314.5h0M254.6 314.4h0M284.4 313.6h0M249.5 314.1h0M249.5 313.8h0M238.4 316.0h0M280.5 321.7h0M284.0 314.2h0M248.3 322.3h0M250.7 330.2h0M289.3 318.1h0M269.2 323.3h0M242.8 317.4h0M234.0 329.1h0M287.7 332.8h0M275.1 321.2h0M229.4 314.1h0M255.2 315.8h0M268.2 326.6h0M236.1 319.2h0M243.8 313.8h0M241.6 316.3h0M260.2 314.8h0M240.2 323.6h0M244.5 326.5h0M291.7 313.8h0M241.2 313.7h0M275.5 326.9h0M261.7 319.4h0M252.4 314.2h0M247.4 314.3h0M278.4 322.2h0M264.8 323.6h0M272.0 313.6h0M234.3 320.4h0M261.7 331.9h0M275.8 313.4h0M237.6 314.5h0M241.4 325.2h0M232.4 334.2h0M279.2 314.3h0M244.0 313.4h0M259.4 318.9h0M270.9 314.5h0M246.5 315.8h0M260.7 313.5h0M263.1 335.7h0M245.0 323.3h0M267.5 314.0h0M283.7 324.0h0M232.7 313.8h0M233.6 314.2h0M280.3 314.4h0M276.5 313.4h0M252.0 316.2h0M232.8 330.7h0M240.6 313.8h0M248.1 313.5h0M239.2 318.8h0M267.2 313.5h0M237.8 318.6h0M230.0 327.5h0M246.4 330.7h0M251.5 313.4h0M259.0 314.7h0M251.6 313.5h0M248.6 329.7h0M290.5 314.1h0M255.2 321.3h0M266.3 314.3h0M270.1 314.2h0M269.9 316.4h0M240.9 315.0h0M291.4 315.7h0M285.6 335.0h0M255.5 313.7h0M277.8 327.2h0M237.9 313.8h0M245.5 314.3h0M233.3 323.8h0M286.4 327.8h0M268.0 332.1h0M252.3 322.7h0M289.5 314.5h0M263.5 314.3h0M283.8 313.4h0M291.1 315.4h0M281.7 322.2h0M274.1 314.1h0M273.9 335.4h0M263.4 313.4h0M257.4 320.8h0M231.2 314.0h0M269.7 314.7h0M238.1 315.4h0M266.8 314.9h0M267.8 335.5h0M264.3 316.2h0M245.3 315.4h0M255.3 314.0h0M292.5 314.3h0M291.1 326.2h0M288.8 326.5h0M253.1 316.3h0M249.9 315.0h0M290.1 314.2h0M292.6 319.9h0M275.6 321.1h0M244.8 323.0h0M244.0 314.0h0M254.0 320.0h0M258.8 313.9h0M292.0 322.1h0M290.4 314.4h0M242.4 313.4h0M263.6 328.0h0M249.9 332.7h0M261.5 329.0h0M264.4 321.8h0M282.4 314.2h0M242.4 313.6h0M260.6 314.5h0M280.1 335.7h0M291.9 313.4h0M231.3 325.0h0M255.4 335.9h0M284.4 313.8h0M250.3 324.6h0M256.6 326.2h0M249.1 317.9h0M287.0 335.5h0M252.6 316.2h0M276.0 335.0h0M273.5 314.2h0M270.7 314.6h0M270.9 315.2h0M245.5 314.9h0M289.5 319.0h0M234.4 313.8h0M268.2 313.5h0M278.6 314.4h0M244.1 313.6h0M248.6 314.8h0M271.2 324.6h0M242.0 313.5h0M282.6 313.4h0M247.3 322.9h0M251.1 314.2h0M234.3 313.5h0M277.3 315.1h0M237.6 313.6h0M259.6 320.7h0M230.4 314.1h0M243.4 313.5h0M236.6 323.2h0M286.3 315.3h0M287.2 315.9h0M263.6 318.7h0M273.6 320.8h0M272.3 313.6h0M250.5 314.7h0M272.9 313.8h0M287.8 322.8h0M238.6 314.5h0M283.3 330.5h0M256.1 334.1h0M272.6 332.8h0M292.5 333.4h0M281.1 313.7h0M260.7 329.1h0M283.1 315.2h0M282.4 320.6h0M243.4 317.4h0M247.4 313.4h0M240.2 328.3h0M238.8 317.9h0M257.3 313.4h0M230.4 314.5h0M274.8 314.9h0M248.6 324.6h0M234.6 314.8h0M260.0 314.1h0M261.2 318.6h0M275.7 313.6h0M263.9 332.1h0M231.0 313.8h0M249.4 323.1h0M280.5 313.5h0M255.7 314.3h0M246.6 313.7h0M292.6 332.7h0M233.3 313.8h0M270.7 326.9h0M249.2 313.4h0M242.2 315.0h0M270.7 326.4h0M263.2 315.7h0M279.4 313.5h0M246.2 316.4h0M263.4 315.5h0M247.5 329.9h0M291.0 314.0h0M255.6 322.4h0M266.5 318.1h0M241.0 313.7h0M260.7 314.4h0M284.7 323.0h0M238.4 320.5h0M243.2 331.7h0M270.3 316.8h0M277.2 314.4h0M255.7 324.9h0M242.3 313.4h0M290.0 315.9h0M233.2 313.5h0M242.2 325.1h0M264.7 314.2h0M253.7 319.8h0M258.4 321.3h0M276.6 329.5h0M254.4 313.8h0M253.3 325.8h0M232.4 314.3h0M274.5 315.6h0M265.0 313.7h0M262.4 313.6h0M233.8 320.6h0M268.4 313.4h0M280.4 314.2h0M266.4 333.8h0M255.0 314.2h0M290.3 327.9h0M254.9 322.8h0M275.5 313.7h0M258.1 313.9h0M243.4 329.3h0M284.3 314.0h0M272.9 325.8h0M280.3 317.0h0M258.5 316.4h0M264.7 316.2h0M274.8 315.0h0M281.9 326.4h0M239.0 313.4h0M257.6 314.8h0M256.6 314.7h0M239.2 327.8h0M291.4 323.0h0M236.7 313.6h0M237.8 316.9h0M235.1 314.0h0M281.5 329.7h0M274.5 315.4h0M260.5 315.0h0M282.4 315.1h0M249.0 319.1h0M287.0 314.9h0M283.5 322.9h0M260.1 313.4h0M237.4 329.8h0M278.2 313.9h0M259.5 320.7h0M285.9 318.6h0M279.5 331.4h0M256.3 328.5h0M251.4 314.6h0M271.8 331.8h0M244.6 313.8h0M285.4 321.3h0M288.8 324.7h0M266.5 314.0h0M286.1 333.7h0M242.8 313.6h0M229.4 330.4h0M264.3 331.1h0M230.1 314.1h0M251.5 325.7h0M285.6 320.4h0M244.4 320.8h0M267.9 313.7h0M263.4 313.7h0M245.5 315.8h0M276.5 314.3h0M248.6 314.3h0M282.6 327.0h0M279.7 335.9h0M248.5 318.9h0M291.0 313.4h0M281.3 313.7h0M263.0 315.9h0M267.3 313.8h0M264.6 323.9h0M286.3 333.0h0M286.3 314.6h0M283.6 313.8h0M255.5 313.4h0M232.0 313.9h0M265.9 313.6h0M240.7 322.6h0M233.1 327.3h0M269.3 313.5h0M263.2 331.1h0M254.2 313.9h0M251.5 314.7h0M287.8 314.3h0M233.5 313.7h0M279.4 317.3h0M268.3 315.4h0M236.6 315.0h0M242.1 316.1h0M283.5 314.8h0M232.7 331.1h0M270.3 314.1h0M273.6 315.8h0M268.1 314.6h0M288.3 315.7h0M237.6 314.6h0M281.9 313.9h0M281.0 323.7h0M245.1 313.7h0M265.6 314.4h0M285.8 329.1h0M230.3 313.4h0M276.2 313.7h0M290.8 315.1h0M264.8 315.8h0M249.0 314.3h0M288.2 313.8h0M278.7 317.7h0M272.6 315.5h0M232.0 315.6h0M267.6 323.4h0M229.5 313.7h0M249.7 314.1h0M239.6 326.6h0M248.6 329.7h0M264.0 333.4h0M249.8 313.7h0M235.9 314.5h0M277.0 329.7h0M239.0 313.7h0M288.9 335.4h0M256.5 320.6h0M235.3 320.4h0M289.9 316.7h0M279.1 314.0h0M253.1 314.1h0M273.6 313.4h0M245.0 326.2h0M261.6 322.2h0M286.4 314.5h0M267.3 316.3h0M275.6 333.1h0M245.7 314.9h0M243.6 315.3h0M267.1 315.1h0M240.8 313.6h0M237.2 317.6h0M261.7 327.2h0M277.5 314.2h0M265.8 327.3h0M251.5 318.0h0M261.5 326.9h0M242.2 313.5h0M285.2 332.0h0M284.8 323.4h0M239.4 314.5h0M269.3 315.3h0M256.2 318.9h0M258.1 313.7h0M286.3 317.3h0M252.6 313.5h0M280.8 314.6h0M240.4 328.4h0M241.4 326.6h0M288.8 316.8h0M252.0 314.5h0M276.7 313.9h0M247.1 316.7h0M277.3 314.3h0M244.4 319.1h0M277.5 315.3h0M267.4 317.3h0M248.3 313.5h0M252.9 327.3h0M252.4 314.8h0M257.1 318.9h0M267.9 314.5h0M267.1 328.4h0M252.4 314.2h0M233.3 326.2h0M274.4 319.7h0M278.3 313.4h0M284.9 321.0h0M255.3 334.1h0M246.5 320.1h0M279.9 314.5h0M261.7 314.4h0M233.1 313.9h0M275.7 314.0h0M266.0 313.4h0M266.2 314.1h0M230.5 319.7h0M292.5 314.2h0M232.6 317.8h0M284.2 314.1h0M256.8 318.1h0M264.2 313.7h0M233.4 313.6h0M252.2 315.4h0M276.2 324.7h0M247.0 319.6h0M268.4 314.2h0M268.7 325.9h0M258.0 315.0h0M278.6 313.5h0M267.9 314.2h0M234.9 316.4h0M266.3 316.2h0M292.2 318.3h0M289.8 314.2h0M248.9 313.7h0M261.2 315.4h0M240.2 313.5h0M230.1 318.3h0M275.7 315.3h0M229.8 318.6h0M231.9 314.4h0M244.1 313.6h0M261.1 314.2h0M245.1 330.0h0M269.2 328.6h0M253.6 313.5h0M232.0 313.4h0M255.8 313.6h0M287.5 314.1h0M259.4 330.0h0M261.6 327.9h0M287.5 320.5h0M246.7 334.2h0M241.7 313.5h0M261.5 324.0h0M242.1 313.4h0M234.0 323.9h0M276.3 313.8h0M249.7 322.5h0M245.1 314.5h0M262.2 331.7h0M255.0 323.3h0M281.2 319.9h0M270.7 332.1h0M264.9 317.9h0M274.7 318.5h0M282.2 329.1h0M236.4 331.1h0M258.5 318.8h0M280.8 315.5h0M260.3 329.2h0M251.8 325.1h0M247.3 314.0h0M266.0 333.6h0M284.5 324.6h0M286.1 313.4h0M240.4 315.5h0M283.9 327.3h0M265.5 314.1h0M234.1 313.8h0M251.4 328.5h0M275.4 316.0h0M287.0 314.1h0M249.1 335.0h0M262.6 331.0h0M277.4 332.7h0M230.7 314.0h0M260.1 314.8h0M282.0 326.4h0M258.7 313.6h0M292.7 329.3h0M292.0 315.0h0M267.4 314.1h0M252.3 318.2h0M256.3 330.2h0M235.1 314.5h0M278.4 314.4h0M289.6 313.7h0M259.3 321.3h0M231.5 328.9h0M261.5 320.5h0M285.5 315.1h0M285.2 314.2h0M243.9 314.6h0M278.2 313.8h0M278.3 323.4h0M285.6 317.7h0M268.4 322.8h0M231.6 313.8h0M251.6 329.6h0M235.5 315.0h0M259.1 329.9h0M245.7 313.7h0M244.3 315.5h0M288.6 314.4h0M233.8 322.4h0M251.7 335.7h0M260.3 324.6h0M232.7 319.6h0M258.2 313.4h0M252.9 314.9h0M269.3 328.9h0M253.2 314.9h0M275.3 315.7h0M273.2 314.9h0M287.0 331.9h0M248.0 313.7h0M233.1 313.4h0M275.6 313.5h0M270.9 322.4h0M259.5 333.6h0M259.3 313.4h0M275.1 314.7h0M272.6 320.5h0" stroke="#4a78c6" stroke-width="0.60" stroke-linecap="round" fill="none"/>
<path d="M230.1 358.8h0M263.1 346.9h0M265.8 352.2h0M272.3 357.1h0M262.7 357.8h0M262.5 358.7h0M259.6 356.4h0M259.2 341.2h0M288.1 356.7h0M290.6 358.4h0M253.0 364.1h0M290.1 358.0h0M229.5 362.6h0M282.3 358.7h0M241.0 358.1h0M283.3 359.5h0M265.0 365.9h0M270.6 358.3h0M261.8 364.2h0M287.0 358.5h0M276.1 347.3h0M229.8 357.7h0M251.2 358.1h0M253.0 345.9h0M246.8 358.9h0M256.0 364.4h0M251.2 356.5h0M234.0 358.8h0M281.8 357.7h0M249.6 358.6h0M265.8 358.5h0M233.7 358.6h0M241.6 338.3h0M238.3 357.6h0M291.2 357.4h0M278.0 356.8h0M261.6 361.2h0M288.2 350.3h0M235.2 352.7h0M257.1 358.5h0M281.8 358.0h0M276.2 359.4h0M272.9 362.9h0M275.2 355.3h0M285.3 362.8h0M275.0 357.0h0M230.8 363.1h0M267.5 353.8h0M282.0 338.8h0M255.1 358.0h0M254.4 354.8h0M269.1 359.3h0M242.0 355.0h0M239.3 357.6h0M245.5 358.4h0M288.6 358.6h0M286.5 354.7h0M276.3 358.6h0M291.5 357.5h0M257.5 345.1h0M237.0 365.4h0M283.3 350.5h0M249.4 358.6h0M232.2 355.6h0M260.7 343.8h0M275.2 354.8h0M246.8 350.1h0M266.5 358.9h0M292.7 362.0h0M268.1 353.4h0M280.2 361.1h0M264.7 358.9h0M256.0 360.7h0M281.0 359.6h0M248.6 353.8h0M282.8 350.4h0M275.0 358.5h0M242.9 345.9h0M274.0 356.8h0M272.4 356.2h0M268.9 351.9h0M280.5 341.4h0M236.9 337.9h0M247.3 344.3h0M284.1 357.6h0M263.7 356.7h0M254.8 340.9h0M259.7 357.4h0M232.8 357.4h0M239.0 358.6h0M235.1 358.3h0M259.4 338.7h0M281.5 358.1h0M288.1 356.3h0M267.7 360.6h0M229.4 356.8h0M256.8 358.0h0M232.6 349.2h0M273.8 346.4h0M248.5 343.0h0M256.5 359.4h0M253.9 353.6h0M279.5 366.2h0M252.5 346.8h0M262.7 363.6h0M285.3 358.8h0M274.0 352.0h0M259.3 358.3h0M242.8 360.1h0M272.9 358.0h0M289.7 358.8h0M278.0 349.1h0M277.3 356.9h0M271.5 353.7h0M283.1 358.6h0M279.3 357.7h0M255.4 354.7h0M250.4 338.4h0M232.1 353.9h0M235.8 360.2h0M242.0 360.8h0M240.6 358.6h0M277.2 351.1h0M244.4 357.3h0M234.7 356.1h0M231.7 358.5h0M288.4 355.0h0M245.5 348.1h0M230.0 345.1h0M248.9 358.9h0M255.2 358.3h0M247.0 357.3h0M264.5 357.9h0M279.3 337.1h0M244.0 358.0h0M269.9 352.0h0M259.9 358.9h0M286.9 357.7h0M267.2 350.6h0M278.1 354.4h0M283.5 358.0h0M251.4 358.2h0M274.6 356.0h0M288.9 356.7h0M269.5 355.6h0M281.8 343.4h0M246.3 354.7h0M281.5 357.0h0M258.0 365.9h0M270.2 357.9h0M277.6 350.2h0M274.7 357.7h0M265.7 356.9h0M286.7 357.5h0M239.8 358.0h0M283.4 357.6h0M260.4 337.9h0M257.4 356.8h0M273.4 358.4h0M276.7 358.4h0M229.8 357.4h0M289.8 355.5h0M291.1 355.0h0M258.1 352.2h0M238.8 355.9h0M291.5 356.2h0M236.8 357.7h0M289.7 363.3h0M286.6 357.4h0M259.7 336.5h0M256.7 358.4h0M253.1 341.1h0M270.8 342.0h0M276.0 342.2h0M281.7 357.2h0M288.9 338.8h0M232.0 365.1h0M289.2 354.5h0M249.0 350.5h0M271.9 350.4h0M275.8 357.0h0M251.1 343.7h0M258.5 352.5h0M273.9 351.2h0M275.2 358.9h0M272.5 358.3h0M275.6 339.3h0M284.9 357.3h0M232.4 346.4h0M268.7 358.1h0M251.1 348.5h0M264.7 358.8h0M283.2 357.9h0M275.8 357.8h0M265.0 362.9h0M234.2 364.6h0M249.4 364.9h0M262.3 337.7h0M292.5 358.7h0M261.2 336.1h0M256.9 360.3h0M285.6 350.4h0M289.9 357.8h0M241.7 356.7h0M288.8 345.3h0M284.8 358.1h0M238.1 357.9h0M249.7 364.8h0M283.4 358.3h0M232.2 338.3h0M273.5 357.9h0M278.5 351.6h0M288.5 357.3h0M233.7 358.2h0M282.8 357.1h0M283.1 359.0h0M268.8 357.1h0M276.8 355.1h0M281.2 353.0h0M235.5 345.6h0M250.0 358.8h0M256.7 360.2h0M257.3 357.9h0M244.6 364.4h0M229.5 341.4h0M263.0 358.2h0M233.9 350.6h0M244.3 336.9h0M237.8 356.6h0M239.3 358.2h0M274.5 338.2h0M271.2 357.1h0M236.9 356.8h0M278.0 347.2h0M281.8 357.8h0M258.9 348.5h0M278.2 365.7h0M280.9 358.7h0M254.7 358.3h0M261.2 359.1h0M256.6 355.3h0M270.4 358.6h0M273.6 340.7h0M251.8 353.2h0M254.0 336.9h0M250.9 358.6h0M232.3 355.0h0M231.0 357.9h0M252.1 348.3h0M275.7 357.1h0M275.0 364.1h0M281.9 351.3h0M232.3 345.7h0M272.8 358.7h0M274.0 356.8h0M266.4 358.3h0M266.4 358.4h0M279.4 358.6h0M237.3 359.1h0M261.1 347.3h0M267.4 351.8h0M237.0 357.8h0M285.0 357.2h0M256.0 355.2h0M265.1 359.1h0M256.3 359.3h0M280.0 356.9h0M243.8 358.2h0M238.1 354.2h0M230.1 364.4h0M272.2 358.6h0M244.0 347.5h0M281.3 347.1h0M235.5 358.1h0M275.6 359.1h0M229.8 356.7h0M285.9 357.4h0M288.7 359.2h0M285.7 357.1h0M247.4 349.2h0M282.9 362.5h0M264.5 349.6h0M237.9 340.2h0M263.5 358.6h0M231.7 356.7h0M272.0 359.4h0M240.8 358.3h0M233.7 358.3h0M234.4 358.6h0M232.3 359.0h0M251.6 350.5h0M254.7 359.1h0M281.8 365.7h0M254.9 336.2h0M239.4 358.4h0M288.5 342.5h0M291.1 360.8h0M286.2 362.2h0M268.2 358.2h0M241.6 355.3h0M239.8 358.3h0M246.5 358.7h0M275.1 355.2h0M245.8 359.3h0M292.0 357.9h0M234.5 349.5h0M262.5 358.7h0M256.5 353.2h0M254.7 355.4h0M277.0 339.1h0M248.7 351.8h0M247.9 358.2h0M282.4 341.5h0M289.2 358.3h0M276.2 358.7h0M287.9 358.4h0M257.0 347.2h0M243.5 336.8h0M249.0 358.1h0M262.8 358.7h0M236.7 358.6h0M268.1 360.1h0M268.6 336.2h0M270.9 358.6h0M286.0 358.4h0M229.7 358.3h0M233.8 347.6h0M259.3 354.4h0M238.2 358.6h0M241.1 356.3h0M254.7 353.2h0M243.6 357.3h0M277.7 346.1h0M236.6 358.0h0M249.3 359.1h0M247.8 361.5h0M277.0 358.6h0M241.5 360.9h0M237.1 358.6h0M269.2 354.8h0M266.2 357.3h0M245.6 342.2h0M287.6 357.6h0M289.1 344.4h0M270.9 356.8h0M277.5 341.0h0M259.4 358.3h0M249.0 358.9h0M266.2 357.1h0M251.7 354.4h0M284.2 346.9h0M241.6 365.8h0M266.2 356.7h0M238.3 364.2h0M241.2 347.4h0M280.7 361.2h0M254.3 357.0h0M249.9 349.8h0M262.7 352.0h0M282.1 358.4h0M261.2 343.5h0M242.9 358.3h0M267.9 352.5h0M270.1 362.4h0M276.4 364.4h0M261.4 358.7h0M273.2 357.9h0M276.4 358.4h0M256.3 357.7h0M250.6 354.3h0M253.6 357.6h0M287.1 357.1h0M265.7 363.6h0M268.6 357.3h0M248.1 359.6h0M230.1 357.8h0M241.8 354.6h0M266.7 355.0h0M278.8 357.0h0M247.5 336.4h0M246.4 356.4h0M280.6 358.5h0M240.2 357.2h0M275.4 338.7h0M247.0 357.9h0M269.3 354.9h0M285.1 355.2h0M264.9 359.3h0M287.6 348.0h0M270.5 358.3h0M284.3 355.9h0M264.6 355.7h0M285.3 358.6h0M287.3 358.5h0M279.7 341.5h0M244.6 354.7h0M279.9 350.9h0M234.1 358.2h0M243.9 358.0h0M238.0 356.8h0M291.9 357.4h0M262.9 358.7h0M275.3 357.7h0M286.0 355.5h0M232.5 349.3h0M257.7 358.4h0M230.9 357.2h0M240.5 337.1h0M245.3 347.4h0M279.1 355.6h0M243.4 348.5h0M273.4 343.9h0M252.9 359.5h0M255.1 346.4h0M234.3 357.8h0M245.2 353.8h0M283.5 349.0h0M233.9 350.4h0M281.6 358.8h0M240.8 359.3h0M267.8 339.1h0M257.7 354.5h0M248.7 340.1h0M258.6 356.4h0M240.2 356.7h0M265.0 349.6h0M279.6 357.6h0M291.4 357.1h0M243.7 358.6h0M275.5 355.4h0M259.0 357.8h0M242.7 356.2h0M229.7 357.2h0M230.1 358.7h0M270.5 357.1h0M248.5 356.6h0M273.6 349.7h0M272.1 359.7h0M287.8 355.1h0M241.3 358.2h0M268.5 358.6h0M267.5 355.3h0M290.6 353.4h0M243.0 359.4h0M282.4 359.6h0M251.3 358.1h0M249.6 364.9h0M252.1 345.5h0M251.2 358.6h0M236.2 357.5h0M283.3 356.6h0M270.2 358.4h0M275.6 357.9h0M255.5 364.4h0M267.6 358.6h0M239.1 358.3h0M288.1 357.1h0M261.9 348.6h0M261.4 336.6h0M265.5 357.7h0M252.4 359.8h0M265.3 352.3h0M259.5 350.0h0M275.5 344.5h0M233.2 355.6h0M258.7 357.5h0M251.5 358.0h0M247.5 345.2h0M287.9 355.4h0M239.9 358.1h0M268.3 357.4h0M276.4 356.2h0M252.1 359.0h0M240.0 364.6h0M252.9 359.0h0M244.1 358.3h0M229.8 356.5h0M272.8 359.4h0M238.2 356.0h0M244.6 358.7h0M282.4 355.3h0M240.0 358.3h0M275.5 358.5h0M245.0 358.5h0M290.8 351.3h0M238.4 358.6h0M233.2 364.5h0M252.9 353.5h0M251.3 360.1h0M264.6 358.4h0M246.0 350.4h0M259.5 358.5h0M265.6 359.5h0M283.6 358.5h0M280.9 341.6h0M243.5 358.3h0M290.4 356.7h0M278.5 337.5h0M276.5 358.2h0M290.1 359.1h0M264.4 358.7h0M235.2 357.4h0M247.9 358.5h0M240.9 360.7h0M289.9 355.1h0M235.4 355.8h0M264.6 358.3h0M236.3 358.1h0M236.5 357.5h0M242.7 357.7h0M286.4 359.8h0M242.6 361.6h0M256.5 357.0h0M248.7 356.0h0M281.7 357.3h0M262.9 355.9h0M276.2 346.3h0M243.8 358.4h0M239.2 358.9h0M260.7 356.1h0M279.4 351.6h0M281.9 366.0h0M244.2 351.7h0M263.1 347.5h0M287.8 361.1h0M248.6 355.4h0M257.6 360.9h0M273.5 354.3h0M287.9 358.0h0M240.6 357.4h0M239.8 357.5h0M258.1 350.9h0M248.1 356.6h0M230.1 358.2h0M263.9 355.2h0M281.9 359.7h0M262.7 358.6h0M238.5 356.9h0M265.3 358.1h0M231.2 357.6h0M230.1 365.5h0M259.7 344.4h0M263.2 355.6h0M240.4 359.0h0M243.1 361.6h0M255.9 353.2h0M290.5 358.1h0M277.3 357.8h0M230.1 357.8h0M284.8 358.1h0M282.8 354.1h0M272.5 356.8h0M266.1 336.9h0M257.8 356.6h0M283.6 353.1h0M261.3 360.6h0M255.2 357.9h0M288.2 358.0h0M274.6 348.8h0M258.7 336.2h0M240.9 356.9h0M257.6 350.3h0M243.1 343.1h0M257.6 357.5h0M255.0 360.6h0M268.5 358.6h0M257.7 356.3h0M241.6 360.8h0M235.8 357.7h0M262.5 358.0h0M286.1 348.1h0M262.3 358.2h0M277.0 357.8h0M234.2 342.4h0M284.8 356.1h0M245.5 336.8h0M248.5 358.2h0M235.3 358.1h0M261.1 356.0h0M273.8 358.8h0M250.9 365.7h0M284.0 338.1h0M234.9 355.2h0M280.9 336.6h0M259.8 358.6h0M278.8 338.5h0M291.6 366.3h0M290.1 358.2h0M282.6 365.3h0M266.0 356.9h0M260.5 358.6h0M287.8 348.3h0M232.8 358.7h0M266.1 357.8h0M248.3 345.2h0M291.9 359.0h0M242.3 344.6h0M244.2 359.0h0M247.0 358.8h0M251.9 350.6h0M289.1 361.3h0M266.9 364.2h0M233.2 364.9h0M270.4 355.5h0M259.9 356.8h0M252.8 356.1h0M244.4 363.6h0M260.2 352.6h0M273.5 358.1h0M239.1 357.0h0M251.8 360.4h0M281.5 361.4h0M234.2 348.6h0M267.4 344.5h0M230.0 363.0h0M290.9 362.2h0M244.3 356.7h0M253.9 358.3h0M243.0 356.8h0M261.7 357.1h0M251.6 354.9h0M281.2 355.6h0M250.8 358.3h0M292.5 338.8h0M253.4 359.7h0M243.4 357.8h0M287.4 357.8h0M277.4 341.4h0M246.3 365.8h0M275.0 358.0h0M256.8 358.4h0M241.2 339.3h0M232.6 357.0h0M240.4 357.8h0M287.8 363.7h0M262.9 357.0h0M243.2 358.0h0M241.8 345.9h0M230.3 360.9h0M262.8 355.4h0M244.8 359.3h0M272.6 358.7h0M246.8 357.2h0M266.1 346.8h0M248.5 357.4h0M255.7 361.9h0M287.2 358.3h0M271.9 356.3h0M234.7 363.5h0M274.2 357.0h0M260.2 349.7h0M239.7 341.1h0M257.7 345.8h0M236.7 342.5h0M280.1 352.6h0M240.9 357.1h0M246.3 365.8h0M288.8 360.4h0M260.5 336.9h0M282.3 358.7h0M285.2 356.0h0M279.9 358.6h0M264.5 354.2h0M279.3 355.9h0M240.5 349.6h0M239.9 358.1h0M242.7 358.1h0M256.3 363.4h0M254.0 341.3h0M243.0 347.6h0M279.3 359.0h0M240.2 357.5h0M252.5 354.6h0M265.3 356.8h0M284.7 357.5h0M264.7 358.6h0M267.5 357.6h0M263.6 348.1h0M270.9 351.8h0M242.4 358.3h0M274.0 361.3h0M278.4 340.5h0M292.7 355.8h0M261.2 357.6h0M253.6 357.8h0M250.9 336.1h0M261.7 358.7h0M244.6 358.6h0M275.5 357.3h0M268.6 354.5h0M258.7 358.4h0M236.4 358.2h0M256.0 350.5h0M255.9 356.2h0M263.7 353.0h0M250.4 357.4h0M256.8 359.8h0M240.8 366.0h0M258.7 357.4h0M252.9 360.0h0M259.4 357.7h0M279.7 358.4h0M270.2 361.8h0M277.9 358.5h0M281.2 358.5h0M230.3 364.7h0M271.4 361.3h0M239.7 358.7h0M283.8 361.4h0M238.1 365.7h0M240.4 356.1h0M235.1 363.7h0M258.7 357.8h0M272.7 358.2h0M287.8 364.0h0M269.3 362.2h0M281.8 355.6h0M284.3 357.1h0M271.4 358.7h0M290.0 358.9h0M280.3 357.7h0M275.0 358.6h0M287.6 347.2h0M244.1 357.0h0M271.2 358.2h0M287.9 358.4h0M232.3 347.8h0M236.2 358.6h0M272.8 338.7h0M281.6 355.7h0M239.1 341.0h0M236.8 355.3h0M244.0 363.8h0M282.9 358.6h0M245.6 351.5h0M271.3 352.8h0M288.7 355.8h0M286.6 337.8h0M284.7 357.7h0M230.0 358.6h0M240.7 358.5h0M250.3 359.4h0M262.8 341.3h0M270.6 360.2h0M272.8 358.6h0M269.4 357.9h0M278.2 356.7h0M262.3 353.7h0M276.3 358.6h0M254.3 354.6h0M280.9 361.9h0M233.1 360.9h0M273.0 356.6h0M235.6 355.4h0M257.3 349.9h0M255.1 357.9h0M239.7 342.1h0M260.1 358.2h0M271.5 355.6h0M262.7 357.3h0M230.9 365.0h0M278.3 347.5h0M265.0 358.6h0M255.8 358.9h0M275.8 356.8h0M260.7 356.2h0M247.1 351.3h0M289.1 356.4h0M263.0 365.4h0M252.5 360.1h0M246.6 358.0h0M285.2 358.9h0M272.1 352.4h0M274.7 353.8h0M266.5 351.9h0M290.1 365.5h0M269.6 358.7h0M239.8 359.0h0M264.3 344.5h0M280.7 356.4h0M291.9 341.4h0M267.3 341.2h0M281.9 358.3h0M269.0 358.3h0M285.6 350.6h0M257.6 341.8h0M281.6 354.8h0M278.5 359.3h0M249.3 357.5h0M275.2 358.4h0M239.4 353.2h0M253.0 357.9h0M244.6 354.8h0M251.9 364.0h0M290.1 357.0h0M268.5 353.0h0M245.8 343.0h0M273.1 358.5h0M277.9 358.9h0M286.7 356.5h0M232.8 358.3h0M253.9 358.2h0M269.5 350.5h0M238.9 361.6h0M239.2 357.6h0M234.1 357.5h0M242.1 366.0h0M239.6 357.9h0M282.0 357.6h0M286.2 354.2h0M252.6 358.6h0M248.2 357.9h0M288.8 358.6h0M241.4 358.1h0M266.3 344.3h0M272.1 357.7h0M284.4 355.1h0M259.6 357.2h0M252.5 361.6h0M267.4 365.6h0M241.4 358.5h0M261.3 358.1h0M247.2 344.0h0M255.0 357.2h0M282.2 352.2h0M281.1 352.9h0M254.0 357.8h0M282.9 353.0h0M264.8 349.5h0M284.1 358.6h0M253.6 356.0h0M241.3 362.3h0M269.5 358.5h0M277.7 353.6h0M239.1 358.5h0M288.4 337.3h0M275.8 359.1h0M230.3 340.6h0M233.7 338.7h0M281.5 356.4h0M229.4 360.1h0M232.2 365.6h0M243.1 358.4h0M270.5 358.6h0M262.5 357.1h0M274.2 358.9h0M239.4 364.8h0M274.5 356.4h0M292.3 358.5h0M234.2 348.0h0M284.4 355.2h0M269.1 358.1h0M269.7 358.8h0M247.5 347.3h0M261.6 345.2h0M249.4 359.0h0M260.3 357.3h0M282.5 362.6h0M240.6 346.7h0M272.1 356.5h0M272.7 359.4h0M273.7 342.2h0M271.5 337.7h0M250.8 359.0h0M244.9 357.7h0M269.9 344.7h0M238.0 337.8h0M239.4 359.1h0M234.1 364.5h0M279.3 358.7h0M269.3 357.4h0M234.7 350.0h0M233.7 358.2h0M276.7 356.3h0M262.3 361.8h0M284.0 359.2h0M258.3 366.1h0M245.8 359.3h0M238.6 358.6h0M263.7 356.8h0M235.2 345.3h0M256.8 358.6h0M266.4 358.7h0M278.6 357.4h0M253.2 354.9h0M270.0 364.0h0M290.9 358.7h0M253.2 357.3h0M289.9 358.1h0M250.0 356.3h0M284.7 358.1h0M241.4 360.5h0M276.7 358.5h0M284.3 358.9h0M270.2 338.9h0M268.2 354.7h0M240.3 356.8h0M245.3 336.5h0M252.0 356.2h0M256.3 347.8h0M290.0 358.5h0M266.5 355.3h0M239.2 356.2h0M248.4 352.6h0M236.0 358.0h0M234.2 358.6h0M244.5 346.6h0M232.1 353.3h0M245.6 357.2h0M247.4 358.3h0M283.9 336.5h0M273.6 356.9h0M243.6 366.1h0M254.4 356.2h0M289.3 358.8h0M258.9 364.1h0M269.9 358.4h0M282.9 357.1h0M269.3 356.2h0M262.9 345.3h0M238.5 345.6h0M251.7 354.7h0M258.0 348.5h0M256.1 356.6h0M257.9 358.1h0M266.7 355.7h0M249.3 338.5h0M246.1 362.0h0M272.7 346.7h0M244.5 362.1h0M285.3 359.0h0M288.0 359.9h0M239.2 358.4h0M230.7 357.2h0M283.3 357.6h0M252.9 356.7h0M229.6 356.7h0M253.2 358.1h0M288.5 336.6h0M292.6 359.6h0M278.0 336.2h0M283.7 354.3h0M249.2 349.3h0M235.9 355.2h0M251.6 355.7h0M264.8 360.0h0M290.6 357.5h0M287.7 358.5h0M245.8 359.4h0M289.5 358.6h0M263.9 358.8h0M259.6 356.5h0M242.1 363.5h0M264.6 360.8h0M239.8 358.6h0M254.0 364.9h0M270.5 355.3h0M270.1 354.0h0M262.0 354.0h0M252.7 357.9h0M237.2 358.5h0M256.8 357.6h0M241.0 358.0h0M267.4 351.2h0M287.2 358.2h0M255.4 352.3h0M257.6 358.1h0M282.4 359.8h0M232.9 362.6h0M247.6 341.0h0M259.1 363.7h0M233.2 358.1h0M273.3 365.7h0M237.1 357.9h0M241.0 359.7h0M275.5 346.5h0M254.1 357.5h0M241.2 359.9h0M287.7 363.5h0M290.7 359.0h0M245.4 352.3h0M256.6 355.9h0M260.9 366.1h0M272.5 354.5h0M236.5 359.0h0M241.8 342.4h0M281.4 357.1h0M288.9 357.0h0M271.8 357.4h0M245.2 356.9h0M241.3 358.0h0M261.3 350.8h0M263.5 358.6h0M247.7 342.3h0M270.1 358.5h0M282.4 340.2h0M291.8 358.6h0M231.8 355.2h0M276.6 358.5h0M285.0 358.1h0M235.3 355.3h0M269.5 356.4h0M245.8 357.6h0M289.1 336.6h0M253.7 338.5h0M271.4 357.6h0M234.5 363.5h0M290.9 358.0h0M268.4 351.6h0M262.9 357.1h0M273.9 344.6h0M231.1 359.3h0M237.7 355.2h0M271.6 358.6h0M245.8 350.9h0M231.9 359.4h0M234.0 353.7h0M261.8 356.6h0M241.4 338.7h0M236.6 355.1h0M261.8 343.4h0M264.1 358.1h0M262.2 354.0h0M277.7 359.1h0M288.4 358.2h0M286.5 357.7h0M275.3 358.0h0M282.7 358.0h0M286.7 353.7h0M250.6 358.6h0M253.4 338.3h0M238.5 358.5h0M266.8 348.7h0M268.4 337.6h0M250.8 353.2h0M292.3 364.9h0M250.7 365.9h0M289.6 362.3h0M261.2 357.4h0M286.0 355.0h0M250.9 358.8h0M260.2 364.9h0M259.0 348.7h0M289.6 358.2h0M265.6 347.4h0M270.2 358.6h0M272.8 358.2h0M257.2 349.1h0M266.7 337.4h0M244.5 358.4h0M231.4 359.8h0M233.2 358.4h0M231.7 360.4h0M273.3 354.1h0M242.5 354.4h0M267.8 364.6h0M272.9 346.3h0M287.9 357.6h0M249.7 360.8h0M287.5 357.5h0M253.8 356.4h0M275.8 353.3h0M267.7 339.0h0M273.0 357.2h0M253.3 344.0h0M282.9 357.9h0M237.8 357.7h0M231.5 357.0h0M262.2 356.4h0M273.6 357.7h0M234.9 337.3h0M246.5 356.3h0M240.6 356.3h0M271.1 350.7h0M239.3 361.0h0M244.7 357.9h0M233.1 358.6h0M286.5 359.5h0M254.5 358.6h0M244.3 343.9h0M249.0 362.9h0M241.6 356.3h0M275.3 351.9h0M278.0 359.0h0M236.3 336.1h0M242.5 344.0h0M288.5 340.5h0M247.5 339.9h0M273.8 357.2h0M249.5 356.5h0M279.0 356.0h0M233.2 358.4h0M279.2 344.4h0M264.5 345.7h0M233.2 356.1h0M232.0 346.8h0M232.6 358.7h0M274.5 344.9h0M232.4 358.7h0M248.2 358.2h0M245.1 355.9h0M245.0 356.3h0M263.1 345.1h0M256.8 361.1h0M248.1 358.6h0M278.3 353.5h0M243.7 343.7h0M275.1 357.7h0M275.3 354.1h0M276.2 357.1h0M244.3 355.4h0M259.6 360.9h0M243.7 353.6h0M269.2 358.7h0M270.3 365.1h0M237.1 358.1h0M274.8 359.1h0M252.3 358.1h0M274.5 350.4h0M256.3 358.8h0M241.8 357.3h0M262.4 361.2h0M256.7 357.4h0M257.6 356.6h0M250.0 358.5h0M285.5 357.5h0M279.2 358.3h0M281.6 364.0h0M250.2 357.4h0M278.0 348.1h0M257.7 358.2h0M283.0 356.4h0M236.0 358.4h0M289.2 358.2h0M247.3 351.5h0M267.7 358.4h0M259.0 359.4h0M289.8 358.1h0M250.3 365.1h0M274.4 361.2h0M242.9 366.0h0M238.8 357.7h0M272.4 338.7h0M258.7 357.3h0M249.4 342.0h0M292.2 358.1h0M284.5 357.9h0M245.5 364.3h0M235.1 340.5h0M232.3 354.3h0M261.7 350.0h0M264.6 353.6h0M262.6 349.2h0M257.2 358.0h0M241.4 357.9h0M276.8 362.6h0M279.8 351.0h0M229.5 337.6h0M275.0 358.5h0M285.5 358.2h0M286.9 358.3h0M233.1 357.5h0M267.9 345.8h0M242.0 357.2h0M243.1 357.6h0M270.7 357.8h0M252.9 359.0h0M271.9 360.8h0M251.9 361.2h0M237.1 360.0h0M276.6 345.2h0M288.2 348.1h0M235.9 342.2h0M284.7 357.5h0M276.0 338.6h0M250.8 346.5h0M233.3 357.5h0M239.9 358.8h0M231.9 363.1h0M266.1 353.8h0M271.3 358.2h0M243.5 356.7h0M231.5 356.9h0M284.3 358.9h0M279.0 358.6h0M257.7 346.5h0M241.9 358.6h0M257.9 358.0h0M290.5 358.5h0M260.1 358.9h0M258.4 357.7h0M273.0 347.6h0M281.3 358.3h0M291.7 358.4h0M262.7 345.4h0M286.7 362.4h0M238.7 357.1h0M266.7 359.6h0M269.9 358.2h0M255.3 365.1h0M236.2 349.3h0M256.8 356.2h0M241.3 356.5h0M274.3 359.7h0M258.9 356.3h0M256.3 364.2h0M239.7 359.4h0M257.5 360.0h0M291.1 353.3h0M234.1 355.7h0M263.4 339.9h0M252.6 358.4h0M279.5 359.4h0M274.3 346.6h0M252.0 358.6h0M259.0 342.7h0M258.0 358.6h0M271.3 356.7h0M275.1 358.6h0M268.2 357.7h0M274.6 355.1h0M250.4 360.1h0M233.6 340.0h0M245.5 358.2h0M262.2 341.4h0M237.0 344.2h0M272.6 357.5h0M264.5 361.7h0M260.5 354.1h0M264.4 357.9h0M256.8 356.8h0M252.5 360.3h0M273.6 362.4h0M245.4 350.5h0M278.2 358.6h0M269.1 355.5h0M235.9 352.2h0M254.3 355.9h0M290.0 358.4h0M283.4 358.1h0M255.2 359.3h0M278.2 365.3h0M249.7 359.6h0M269.6 358.3h0M269.9 358.6h0M261.1 358.8h0M259.4 357.8h0M271.0 360.7h0M284.0 340.6h0M243.3 347.0h0M236.3 358.5h0M269.4 363.1h0M230.2 358.5h0M290.7 357.1h0M290.8 357.2h0M260.9 357.0h0M255.5 357.8h0M231.8 356.3h0M288.8 356.7h0M253.6 358.1h0M276.7 352.6h0M268.9 359.3h0M288.8 344.6h0M265.1 358.4h0M234.8 357.2h0M282.7 357.4h0M269.8 359.7h0M234.6 358.6h0M287.7 358.8h0M263.7 355.2h0M233.7 354.0h0M250.6 341.2h0M241.2 358.6h0M258.8 356.0h0M284.5 355.8h0M251.4 359.1h0M271.5 358.9h0M256.8 347.8h0M250.9 357.3h0M255.3 358.2h0M247.5 358.6h0M250.3 360.6h0M246.0 358.9h0M230.9 358.4h0M256.8 359.5h0M275.0 355.1h0M284.2 353.5h0M252.5 364.0h0M273.7 342.0h0M289.3 357.7h0M276.0 352.7h0M265.0 351.1h0M289.4 356.9h0M255.8 357.6h0M280.6 358.6h0M229.8 358.3h0M238.8 355.2h0M250.0 346.7h0M271.9 362.4h0M234.2 355.1h0M252.2 356.6h0M269.2 358.2h0M269.9 362.3h0M267.9 357.9h0M259.1 353.7h0M288.6 358.6h0M244.1 347.0h0M274.3 353.2h0M275.2 352.1h0M263.7 355.8h0M283.1 338.2h0M268.7 363.3h0M271.2 358.2h0M270.6 357.8h0M254.1 341.0h0M237.0 355.7h0M286.4 356.5h0M239.4 345.8h0M272.9 357.9h0M276.3 357.6h0M280.3 356.9h0M250.6 357.7h0M267.8 362.7h0M249.9 358.5h0M256.7 358.2h0M289.2 356.0h0M292.6 347.3h0M279.5 358.7h0M261.2 360.0h0M261.2 355.2h0M285.7 356.3h0M292.0 357.0h0M234.8 359.0h0M278.0 357.3h0M261.3 358.6h0M279.9 355.8h0M238.2 351.9h0M288.6 364.0h0M271.6 356.9h0M240.3 358.2h0M235.4 355.5h0M279.5 354.4h0M282.4 357.1h0M268.6 355.5h0M272.9 357.3h0M284.5 362.0h0M269.3 358.6h0M280.8 359.1h0M265.8 358.1h0M240.9 360.9h0M290.8 357.3h0M275.7 356.5h0M252.4 360.4h0M244.0 357.3h0M266.0 357.8h0M291.1 358.6h0M245.1 353.8h0M261.0 353.3h0M268.3 346.4h0M231.2 362.0h0M262.7 358.5h0M267.0 357.6h0M291.1 359.4h0M260.1 348.9h0M233.1 353.6h0M264.0 350.4h0M261.2 355.9h0M261.4 358.6h0M248.5 363.8h0M249.4 349.7h0M242.7 357.3h0M235.6 354.9h0M255.1 358.6h0M256.9 356.7h0M263.3 356.4h0M263.4 350.5h0M241.9 341.4h0M259.5 345.0h0M282.2 353.9h0M276.8 358.8h0M243.4 359.1h0M246.7 350.2h0M241.8 357.5h0M265.8 357.2h0M291.4 358.6h0M252.0 358.7h0M256.7 364.0h0M246.5 354.1h0M264.4 347.4h0M259.1 355.9h0M242.4 358.2h0M254.5 361.2h0M235.9 358.1h0M274.5 349.6h0M263.0 357.4h0M291.7 357.6h0M285.8 358.6h0M291.6 358.2h0M286.1 357.1h0M249.1 365.2h0M237.4 357.7h0M264.8 342.5h0M247.7 357.8h0M247.8 363.0h0M249.4 350.6h0M280.1 358.6h0M239.8 356.8h0M285.3 356.4h0M268.1 358.1h0M241.2 350.4h0M236.3 365.2h0M270.0 355.2h0M273.6 357.8h0M265.7 358.3h0M291.9 357.4h0M234.2 343.8h0M289.4 358.1h0M259.9 358.6h0M262.6 353.1h0M246.9 348.1h0M236.4 359.2h0M229.8 358.9h0M265.1 356.9h0M266.3 358.5h0M250.2 356.8h0M273.3 354.4h0M242.0 344.2h0M244.4 354.4h0M255.4 359.0h0M258.8 355.3h0M256.4 358.8h0M290.3 341.3h0M262.8 358.4h0M237.0 338.5h0M278.6 365.1h0M235.5 359.7h0M287.4 358.4h0M234.5 356.6h0M257.5 351.7h0M242.2 358.7h0M278.1 358.8h0M252.6 359.5h0M239.8 357.9h0M284.3 357.8h0M275.7 363.5h0M289.6 359.0h0M266.5 358.3h0M275.2 358.4h0M258.0 357.9h0M270.0 357.1h0" stroke="#2b2b2b" stroke-width="0.60" stroke-linecap="round" fill="none"/>
<line x1="228.20" y1="336.00" x2="293.00" y2="336.00" stroke="#e4566c" stroke-width="0.45" />
<line x1="228.20" y1="300.50" x2="228.20" y2="370.60" stroke="#000" stroke-width="0.90" />
<line x1="228.20" y1="370.20" x2="294.50" y2="370.20" stroke="#000" stroke-width="0.90" />
<line x1="225.40" y1="302.10" x2="228.20" y2="302.10" stroke="#000" stroke-width="0.60" />
<text x="222.60" y="303.45" font-size="3.90" text-anchor="end" stroke="#231f20" stroke-width="0.08">1.25</text>
<line x1="225.40" y1="313.40" x2="228.20" y2="313.40" stroke="#000" stroke-width="0.60" />
<text x="222.60" y="314.75" font-size="3.90" text-anchor="end" stroke="#231f20" stroke-width="0.08">1.00</text>
<line x1="225.40" y1="324.70" x2="228.20" y2="324.70" stroke="#000" stroke-width="0.60" />
<text x="222.60" y="326.05" font-size="3.90" text-anchor="end" stroke="#231f20" stroke-width="0.08">0.75</text>
<line x1="225.40" y1="336.00" x2="228.20" y2="336.00" stroke="#000" stroke-width="0.60" />
<text x="222.60" y="337.35" font-size="3.90" text-anchor="end" stroke="#231f20" stroke-width="0.08">0.50</text>
<line x1="225.40" y1="347.30" x2="228.20" y2="347.30" stroke="#000" stroke-width="0.60" />
<text x="222.60" y="348.65" font-size="3.90" text-anchor="end" stroke="#231f20" stroke-width="0.08">0.25</text>
<line x1="225.40" y1="358.60" x2="228.20" y2="358.60" stroke="#000" stroke-width="0.60" />
<text x="222.60" y="359.95" font-size="3.90" text-anchor="end" stroke="#231f20" stroke-width="0.08">0.00</text>
<line x1="225.40" y1="369.90" x2="228.20" y2="369.90" stroke="#000" stroke-width="0.60" />
<text x="222.60" y="371.25" font-size="3.90" text-anchor="end" stroke="#231f20" stroke-width="0.08">-0.25</text>
<path d="M292.70,313.40 L293.90,313.40 L293.90,336.00 L292.70,336.00" fill="none" stroke="#d8324e" stroke-width="0.60" />
<text x="289.70" y="308.20" font-size="4.16" fill="#d8324e" textLength="44.20" lengthAdjust="spacingAndGlyphs" stroke="#d8324e" stroke-width="0.08">genes more essential to</text>
<text x="296.30" y="313.50" font-size="3.74" fill="#d8324e" textLength="28.50" lengthAdjust="spacingAndGlyphs" stroke="#d8324e" stroke-width="0.08"><tspan font-style="italic">Flt3</tspan><tspan font-size="2.25" dy="-1.35">ITD/+</tspan><tspan dy="1.35">/</tspan><tspan font-style="italic">Setbp1</tspan><tspan font-size="2.25" dy="-1.35">IM+</tspan></text>
<text x="261.50" y="378.20" font-size="5.90" text-anchor="middle" textLength="50.80" lengthAdjust="spacingAndGlyphs" stroke="#231f20" stroke-width="0.18">Genes with <tspan font-style="italic">negFDR</tspan>&lt;0.2 in</text>
<text x="261.50" y="387.90" font-size="5.60" text-anchor="middle" textLength="46.50" lengthAdjust="spacingAndGlyphs" stroke="#231f20" stroke-width="0.18"><tspan font-style="italic">Flt3</tspan><tspan font-size="3.36" dy="-2.02">ITD/+</tspan><tspan dy="2.02">/</tspan><tspan font-style="italic">Setbp1</tspan><tspan font-size="3.36" dy="-2.02">IM+</tspan><tspan dy="2.02"> screen</tspan></text>
<text x="203.10" y="334.60" font-size="5.30" text-anchor="middle" textLength="54.50" lengthAdjust="spacingAndGlyphs" transform="rotate(-90.0 203.10 334.60)" stroke="#231f20" stroke-width="0.18">Δ<tspan font-style="italic">negFDR</tspan>: <tspan font-style="italic">Flt3</tspan><tspan font-size="3.18" dy="-1.91">ITD/+</tspan><tspan dy="1.91">/</tspan><tspan font-style="italic">Setbp1</tspan><tspan font-size="3.18" dy="-1.91">IM+</tspan></text>
<text x="210.00" y="329.90" font-size="5.30" text-anchor="middle" textLength="22.80" lengthAdjust="spacingAndGlyphs" transform="rotate(-90.0 210.00 329.90)" stroke="#231f20" stroke-width="0.18">vs HPC-7 screen</text>
<path d="M449.3 315.3h0M458.3 321.6h0M430.8 313.6h0M449.3 314.8h0M431.3 317.2h0M465.7 317.1h0M414.3 315.2h0M426.0 314.1h0M442.2 320.0h0M410.9 314.2h0M433.6 315.8h0M447.7 334.4h0M443.2 313.9h0M459.8 331.2h0M421.8 323.7h0M439.1 321.9h0M425.6 317.9h0M421.5 313.4h0M435.5 313.4h0M447.3 314.0h0M447.4 318.5h0M412.7 314.4h0M438.8 314.9h0M443.0 314.9h0M421.4 316.9h0M439.7 335.8h0M425.3 313.4h0M453.5 313.7h0M427.6 313.8h0M457.5 331.2h0M450.4 313.5h0M441.5 335.1h0M459.2 314.0h0M466.1 314.5h0M439.4 313.4h0M443.9 315.4h0M453.6 334.3h0M460.4 314.9h0M459.2 313.5h0M435.4 334.5h0M447.6 313.5h0M447.4 313.7h0M452.3 322.6h0M414.1 313.9h0M450.9 333.3h0M418.7 313.7h0M427.8 315.2h0M415.2 313.5h0M465.9 314.0h0M409.1 315.4h0M447.4 313.5h0M441.2 330.9h0M423.7 313.4h0M457.4 333.4h0M458.2 317.5h0M440.6 334.9h0M417.9 317.3h0M423.4 313.8h0M449.7 315.2h0M437.3 313.8h0M447.3 320.0h0M455.1 314.0h0M439.6 314.4h0M423.9 323.6h0M423.3 314.8h0M456.0 313.6h0M458.8 322.2h0M444.9 313.5h0M455.7 314.2h0M438.3 321.2h0M441.6 313.5h0M438.3 321.9h0M430.3 314.0h0M422.2 333.3h0M450.3 314.2h0M414.6 313.4h0M422.4 315.3h0M460.3 313.4h0M425.2 313.4h0M438.4 314.5h0M429.4 322.3h0M418.0 313.5h0M418.4 315.5h0M420.8 315.7h0M451.9 326.2h0M459.7 314.7h0M458.5 331.2h0M430.2 320.8h0M412.7 318.5h0M441.2 316.0h0M456.4 324.3h0M415.8 313.4h0M438.9 315.4h0M450.5 331.4h0M442.1 315.0h0M419.2 317.6h0M439.5 313.8h0M415.9 313.6h0M431.9 326.9h0M418.1 313.6h0M415.6 315.6h0M412.9 328.4h0M442.6 314.2h0M425.9 313.8h0M444.4 332.5h0M466.3 317.7h0M413.2 313.5h0M458.8 314.3h0M430.7 315.5h0M442.5 316.5h0M467.7 314.7h0M435.3 315.2h0M433.7 314.7h0M436.6 317.4h0M419.7 315.6h0M409.6 315.1h0M448.7 314.0h0M430.9 313.8h0M444.3 316.5h0M435.4 330.1h0M433.5 319.5h0M431.7 314.1h0M433.7 313.6h0M420.0 314.6h0M456.6 319.8h0M411.5 326.7h0M415.6 315.3h0M435.8 315.3h0M442.7 313.5h0M432.3 326.3h0M429.0 315.4h0M437.7 313.5h0M462.4 314.6h0M429.8 333.0h0M424.4 315.1h0M445.8 313.6h0M450.1 317.5h0M445.6 314.4h0M421.8 321.3h0M451.1 314.1h0M466.1 314.7h0M428.2 321.7h0M457.5 318.2h0M430.7 318.3h0M450.6 320.4h0M428.8 316.2h0M455.7 320.7h0M430.0 314.3h0M466.7 317.1h0M461.4 325.1h0M438.6 317.2h0M431.2 313.6h0M448.1 314.3h0M466.5 323.4h0M428.3 313.8h0M445.9 333.6h0M430.0 321.1h0M456.4 324.7h0M413.4 315.0h0M454.2 315.1h0M435.6 315.7h0M423.4 313.6h0M429.9 313.9h0M434.3 313.7h0M458.0 315.3h0M466.9 315.4h0M415.9 317.6h0M435.7 314.5h0M409.1 314.6h0M433.3 314.1h0M454.9 314.7h0M463.8 314.2h0M452.7 334.1h0M410.7 315.0h0M449.2 322.1h0M439.3 325.3h0M433.4 315.6h0M450.9 314.0h0M438.4 329.0h0M443.8 313.8h0M431.5 313.5h0M440.7 313.8h0M466.0 314.0h0M459.1 323.7h0M441.7 333.2h0M459.8 323.8h0M467.8 335.9h0M423.4 320.5h0M442.7 324.5h0M415.6 313.5h0M425.3 319.4h0M434.3 313.9h0M421.4 320.1h0M420.0 313.9h0M426.6 329.4h0M455.7 315.4h0M433.3 316.1h0M419.3 314.5h0M423.5 314.0h0M462.2 315.5h0M411.0 313.4h0M433.5 315.2h0M448.1 315.8h0M453.7 333.2h0M432.8 315.4h0M427.5 314.8h0M430.2 326.9h0M412.6 315.7h0M420.5 333.1h0M437.8 324.3h0M418.9 313.4h0M444.5 313.6h0M442.5 314.4h0M447.1 315.0h0M425.8 313.6h0M456.8 315.9h0M415.9 314.0h0M458.1 319.9h0M461.3 314.3h0M425.0 319.4h0M436.0 314.2h0M425.9 315.2h0M421.2 313.5h0M414.0 315.3h0M438.5 328.8h0M460.9 328.1h0M436.0 314.1h0M428.3 314.6h0M437.9 331.1h0M422.4 332.4h0M436.2 314.0h0M429.4 314.1h0M460.8 331.6h0M449.0 315.1h0M415.8 314.1h0M458.2 321.1h0M420.3 314.4h0M457.8 332.5h0M431.7 329.9h0M448.5 332.5h0M432.4 327.4h0M458.4 328.1h0M463.4 331.9h0M443.6 313.8h0M440.7 327.4h0M452.7 335.6h0M465.8 326.2h0M419.6 318.4h0M439.4 317.7h0M438.0 313.8h0M452.4 335.9h0M451.2 313.8h0M461.3 314.0h0M421.6 316.7h0M426.2 322.7h0M413.3 316.2h0M462.1 320.1h0M421.6 327.8h0M424.4 315.1h0M443.4 313.6h0M421.5 325.7h0M461.0 314.2h0M464.4 314.3h0M437.0 313.9h0M423.3 328.8h0M457.9 313.8h0M460.8 314.1h0M419.9 317.1h0M460.2 320.7h0M446.8 314.5h0M426.6 321.4h0M425.9 313.5h0M438.7 314.9h0M418.6 322.4h0M446.3 313.4h0M424.9 316.2h0M415.8 314.1h0M436.6 319.5h0M424.3 314.8h0M434.0 328.6h0M461.1 315.5h0M436.1 314.8h0M435.3 315.0h0M443.2 334.4h0M457.4 314.9h0M458.5 314.0h0M447.0 326.4h0M454.5 323.3h0M464.4 323.3h0M412.1 314.2h0M425.2 321.3h0M451.8 327.0h0M441.1 314.1h0M442.7 320.2h0M414.6 318.1h0M414.9 326.6h0M442.1 313.9h0M430.4 316.6h0M452.7 315.7h0M460.9 314.8h0M423.1 321.4h0M421.0 323.1h0M409.1 316.6h0M450.5 322.4h0M424.3 313.4h0M467.7 332.1h0M423.9 313.5h0M424.2 314.8h0M452.6 316.3h0M433.8 316.9h0M416.4 317.3h0M436.4 322.0h0M434.8 314.3h0M456.5 314.4h0M452.6 332.4h0M413.4 314.1h0M439.0 315.1h0M453.3 313.6h0M464.5 317.1h0M444.2 324.2h0M432.6 327.9h0M410.0 314.7h0M416.6 325.7h0M422.5 319.8h0M447.0 313.6h0M430.0 329.8h0M447.5 328.9h0M422.4 333.9h0M435.5 318.8h0M417.1 313.4h0M457.7 316.3h0M410.3 314.0h0M448.9 315.8h0M418.9 315.3h0M448.5 313.8h0M441.9 315.0h0M445.1 313.9h0M431.9 335.6h0M431.3 318.4h0M457.5 314.6h0M419.7 326.1h0M450.4 317.3h0M449.0 314.6h0M455.8 329.6h0M430.0 313.8h0M425.6 334.1h0M428.3 335.2h0M440.5 314.1h0M410.8 314.6h0M426.3 332.7h0M421.4 313.6h0M461.7 333.0h0M451.0 315.8h0M427.0 315.9h0M425.4 330.5h0M434.6 328.4h0M427.7 315.5h0M418.5 314.9h0M409.9 313.4h0M414.4 316.8h0M421.8 315.0h0M443.9 314.5h0M433.3 326.3h0M412.9 320.9h0M433.9 322.8h0M456.7 331.9h0M465.0 322.7h0M447.2 313.6h0M421.5 315.1h0M413.9 313.4h0M449.9 329.8h0M430.9 313.5h0M424.0 313.4h0M410.2 313.9h0M421.4 313.6h0M466.9 314.6h0M465.8 317.0h0M446.5 315.5h0M457.2 313.9h0M444.9 314.2h0M433.4 331.8h0M410.3 321.2h0M418.9 314.4h0M414.9 314.0h0M453.1 314.4h0M458.0 317.6h0M416.3 313.7h0M440.2 316.5h0M412.5 314.7h0M411.3 314.2h0M417.2 316.9h0M417.4 314.3h0M458.5 314.1h0M417.0 317.2h0M450.5 313.5h0M441.8 313.5h0M442.4 313.7h0M467.2 314.7h0M452.3 314.9h0M409.5 315.0h0M427.9 316.1h0M457.4 314.4h0M468.0 314.0h0M412.0 313.9h0M422.9 334.2h0M445.2 314.8h0M439.6 314.4h0M437.9 318.3h0M461.3 324.1h0M426.2 313.9h0M446.3 326.0h0M451.0 335.1h0M467.4 313.4h0M409.6 317.7h0M452.8 314.6h0M442.1 313.6h0M435.8 313.5h0M457.3 313.4h0M426.3 315.2h0M448.7 316.0h0M419.6 313.9h0M464.0 315.0h0M432.0 324.4h0M446.3 316.0h0M455.6 323.7h0M420.6 313.9h0M445.5 314.0h0M423.6 333.2h0M452.7 314.4h0M433.8 326.7h0M433.0 315.6h0M454.0 316.1h0M462.6 322.2h0M416.1 314.5h0M434.5 320.6h0M437.7 313.7h0M437.5 315.0h0M425.2 313.9h0M423.7 315.2h0M430.4 315.8h0M416.9 320.1h0M450.2 315.0h0M438.8 333.4h0M465.1 323.0h0M449.4 322.9h0M451.2 314.6h0M439.2 313.9h0M417.9 328.3h0M464.3 313.4h0M418.0 324.3h0M448.8 315.0h0M444.1 320.4h0M466.6 315.1h0M440.3 313.7h0M457.5 315.1h0M447.9 314.9h0M410.2 326.3h0M409.8 316.7h0M438.9 314.9h0M447.8 314.0h0M423.6 315.2h0M454.3 325.3h0M435.1 313.6h0M422.2 315.2h0M460.7 313.7h0M417.3 328.1h0M452.1 314.8h0M452.6 328.2h0M457.1 314.3h0M423.8 315.3h0M418.3 313.6h0M425.6 314.0h0M411.5 314.3h0M451.0 313.8h0M442.3 313.7h0M463.3 317.7h0M450.5 332.6h0M432.4 316.0h0M441.8 332.5h0M425.1 314.9h0M467.5 314.2h0M424.4 315.2h0M428.2 315.5h0M417.4 313.5h0M425.8 314.4h0M447.1 314.8h0M424.5 314.2h0M449.3 316.0h0M413.5 332.9h0M437.7 314.2h0M451.1 318.5h0M411.9 314.6h0M418.3 313.8h0M466.0 326.7h0M455.1 333.3h0M440.6 313.4h0M416.8 327.2h0M450.0 315.0h0M432.2 314.9h0M409.1 315.9h0M424.5 324.7h0M442.3 322.1h0M436.1 318.4h0M420.8 314.4h0M439.4 314.8h0M424.1 330.9h0M442.9 315.7h0M419.6 334.2h0M416.8 328.3h0M454.5 314.0h0M454.4 314.3h0M433.1 313.4h0M427.8 314.0h0M455.5 328.2h0M430.1 313.6h0M461.0 330.6h0M453.1 314.1h0M457.8 328.3h0M421.9 313.7h0M435.5 320.6h0M466.6 314.2h0M454.1 313.5h0M436.1 313.4h0M423.2 315.1h0M448.6 313.8h0M438.5 313.6h0M455.5 315.0h0M427.9 334.2h0M457.9 317.5h0M417.3 314.3h0M434.2 313.6h0M449.7 319.6h0M466.4 314.1h0M444.1 315.3h0M447.8 314.4h0M450.0 313.4h0M430.3 322.9h0M449.0 313.5h0M422.1 322.5h0M461.3 313.8h0M419.7 322.4h0M444.0 314.1h0M446.0 318.3h0M465.4 313.6h0M465.8 314.4h0M438.1 313.5h0M418.7 315.5h0M445.4 314.6h0M461.7 321.1h0M413.9 315.2h0M410.2 314.3h0M434.0 313.8h0M412.9 315.5h0M414.7 328.7h0M440.7 314.7h0M413.9 315.0h0M467.1 314.3h0M439.9 324.7h0M414.9 333.8h0M411.5 322.7h0M457.3 314.0h0M461.8 326.2h0M429.1 330.0h0M468.0 327.0h0M460.0 324.0h0M428.7 313.6h0M460.5 319.9h0M446.9 313.5h0M422.6 315.8h0M410.8 313.6h0M443.5 314.1h0M431.1 313.6h0M449.5 318.2h0M410.1 316.8h0M437.1 314.9h0M462.8 315.9h0M449.8 317.0h0M435.4 322.8h0M442.7 323.3h0M421.8 315.8h0M455.3 323.9h0M413.7 315.6h0M450.4 313.6h0M458.2 315.5h0M445.3 314.8h0M464.4 313.8h0M452.6 333.0h0M450.1 314.2h0M438.3 318.9h0M444.4 315.9h0M438.2 327.0h0M417.9 313.5h0M431.9 313.7h0M434.4 315.3h0M426.2 334.9h0M418.7 313.4h0M431.1 313.9h0M416.9 315.1h0M447.1 319.6h0M419.5 314.5h0M420.0 315.0h0M429.9 314.3h0M430.5 315.2h0M433.4 314.0h0M432.8 313.7h0M454.1 329.7h0M465.2 313.8h0M414.3 314.0h0M423.1 313.9h0M419.9 314.0h0M432.3 316.1h0M459.0 323.3h0M434.6 317.0h0M421.1 324.5h0M460.6 322.5h0M431.8 314.5h0M452.9 315.1h0M432.5 314.8h0M436.9 313.5h0M416.2 315.0h0M428.5 319.6h0M433.0 334.2h0M446.3 314.0h0M433.3 315.2h0M449.8 334.9h0M439.3 334.0h0M440.0 314.6h0M436.7 315.0h0M443.8 316.3h0M420.1 314.6h0M453.5 322.6h0M447.1 314.1h0M419.0 315.5h0M424.8 315.5h0M438.1 327.1h0M423.0 313.9h0M440.9 313.6h0M428.5 313.8h0M416.6 315.7h0M449.0 313.9h0M455.1 313.5h0M458.1 314.2h0M450.1 314.5h0M436.2 329.8h0M422.9 327.0h0M425.2 321.2h0M460.2 315.9h0M466.5 313.8h0M415.6 315.7h0M462.2 313.4h0M459.4 313.9h0M446.4 321.0h0M418.8 314.7h0M431.5 333.5h0M455.2 314.0h0M417.9 313.9h0M422.5 314.0h0M460.8 329.5h0M409.5 314.1h0M466.2 314.8h0M426.4 313.4h0M449.6 317.4h0M422.0 313.5h0M420.4 315.9h0M466.6 314.3h0M440.2 324.2h0M439.5 313.4h0M414.4 314.3h0M412.7 313.7h0M462.2 313.5h0M460.6 318.1h0M446.2 321.7h0M435.6 313.5h0M416.5 314.5h0M429.6 324.6h0M437.2 331.7h0M408.9 313.9h0M458.0 317.5h0M421.1 334.9h0M443.9 316.0h0M414.1 314.4h0M463.6 316.8h0M424.0 314.4h0M416.9 313.7h0M443.2 313.9h0M429.1 314.5h0M411.8 334.2h0M466.6 333.2h0M427.3 327.6h0M447.3 329.6h0M455.9 325.7h0M435.3 323.1h0M440.9 313.7h0M435.4 316.7h0M464.8 329.5h0M442.9 332.8h0M428.5 314.9h0M446.1 332.7h0M452.8 321.5h0M451.1 316.0h0M445.6 313.4h0M441.0 313.5h0M463.5 320.3h0M432.5 313.6h0M417.4 314.2h0M424.5 315.6h0M455.6 313.5h0M412.6 313.8h0M435.5 322.5h0M429.6 313.8h0M452.3 315.9h0M445.0 313.6h0M423.0 314.1h0M459.6 318.8h0M429.7 313.6h0M450.8 319.8h0M459.6 314.1h0M454.8 317.1h0M467.8 315.1h0M433.8 328.2h0M450.5 313.6h0M410.6 314.0h0M444.7 315.5h0M467.8 315.2h0M450.3 315.6h0M447.2 315.0h0M434.3 314.6h0M463.2 313.9h0M449.0 314.5h0M454.2 313.7h0M409.0 313.6h0M453.1 315.1h0M423.0 324.8h0M431.9 314.7h0M459.8 316.4h0M414.7 314.1h0M446.4 332.8h0M432.0 332.1h0M413.7 315.0h0M465.8 313.8h0M446.4 322.8h0M452.7 327.3h0M419.8 315.0h0M430.4 329.4h0M442.1 316.5h0M421.2 329.4h0M420.1 314.7h0M434.9 315.5h0M463.6 314.0h0M453.0 325.4h0M439.5 331.8h0M412.2 314.2h0M436.0 313.4h0M424.0 315.9h0M431.1 314.0h0M430.4 335.6h0M438.3 313.4h0M431.7 313.5h0M432.7 315.8h0M428.0 313.7h0M421.5 315.8h0M457.6 314.6h0M426.0 313.8h0M441.1 316.5h0M435.2 315.6h0M426.5 313.9h0M440.9 332.4h0M418.5 316.1h0M446.0 325.5h0M461.8 314.1h0M422.9 316.3h0M411.6 320.1h0M420.8 314.1h0M417.7 329.6h0M443.6 328.8h0M426.7 313.8h0M429.5 314.2h0M412.5 315.0h0M415.6 331.1h0M465.0 326.3h0M448.9 321.1h0M465.7 330.3h0M427.2 314.2h0M413.2 319.2h0M413.6 323.5h0M413.8 316.5h0M450.7 316.1h0M426.4 315.3h0M465.9 314.7h0M454.8 315.1h0M428.0 316.6h0M465.0 315.0h0M450.4 329.2h0M467.2 329.0h0M435.8 315.6h0M439.5 314.2h0M446.1 327.4h0M454.5 320.2h0M409.8 325.0h0M414.5 327.5h0M449.0 314.6h0M439.5 314.5h0M442.5 320.4h0M450.7 314.3h0M413.9 314.4h0M444.0 314.7h0M464.4 315.0h0M424.6 314.3h0M457.2 330.9h0M430.7 321.4h0M440.3 314.0h0M465.8 314.1h0M441.7 315.7h0M453.5 321.7h0M468.0 324.7h0M426.2 313.5h0M460.0 314.0h0M414.2 334.6h0M421.2 330.7h0M431.8 314.1h0M437.7 323.2h0M453.7 313.8h0M450.7 314.4h0M460.8 332.1h0M434.1 317.2h0M411.8 313.6h0M409.4 331.7h0M443.6 315.2h0M442.1 318.5h0M460.2 333.2h0M411.5 315.1h0M425.0 330.3h0M409.8 317.5h0M420.4 322.1h0M457.1 319.7h0M418.6 328.8h0M414.8 323.9h0M448.9 334.5h0M460.1 313.4h0M450.7 313.6h0M419.6 335.7h0M433.8 316.8h0M437.7 333.3h0M432.6 315.0h0M441.9 315.7h0M463.7 320.3h0M418.3 329.0h0M439.6 313.9h0M415.5 316.2h0M418.0 316.0h0M412.7 314.2h0M460.9 313.5h0M433.3 314.5h0M434.9 323.9h0M418.9 324.7h0M416.2 320.7h0M448.9 327.3h0M439.6 314.4h0M458.7 313.9h0M467.3 315.3h0M433.7 313.8h0M457.2 332.8h0M415.7 317.8h0M451.4 315.4h0M450.1 314.8h0M414.2 313.8h0M467.7 313.6h0M458.8 313.5h0M462.6 314.6h0M411.5 319.0h0M409.3 314.1h0M422.8 313.4h0M451.5 314.8h0M465.2 314.5h0M461.4 313.6h0M420.6 313.7h0M432.0 314.5h0M460.1 321.5h0M422.5 328.9h0M420.9 318.7h0M447.9 326.2h0M462.3 315.1h0M436.8 314.4h0M430.8 325.1h0M463.6 333.3h0M450.5 313.6h0M459.1 313.4h0M462.6 321.7h0M453.8 316.9h0M422.6 333.6h0M455.4 313.5h0M432.9 325.9h0M464.9 326.7h0M431.2 329.3h0M439.8 314.9h0M426.0 313.6h0M455.1 313.8h0M442.8 324.4h0M418.4 317.0h0M460.7 330.8h0M459.4 327.9h0M445.3 313.7h0M421.0 314.4h0M411.1 314.2h0M448.9 327.5h0M434.7 319.5h0M439.1 317.5h0M413.3 331.3h0M426.8 318.2h0M463.6 325.8h0M443.9 315.8h0M412.5 326.7h0M436.9 314.8h0M430.8 319.2h0M421.5 314.1h0M423.8 316.3h0M417.4 313.4h0M449.9 314.2h0M423.2 327.0h0M422.9 326.8h0M454.6 334.5h0M422.9 314.8h0M442.3 314.2h0M413.6 325.1h0M427.1 316.1h0M442.5 335.7h0M435.7 315.3h0M464.2 334.5h0M437.1 314.3h0M464.7 316.4h0M467.1 331.3h0M412.7 313.4h0M420.8 313.8h0M437.3 313.8h0M459.9 313.8h0M433.2 315.3h0M451.4 313.9h0M440.2 313.5h0M458.6 326.6h0M440.8 321.0h0M454.4 315.7h0M443.2 317.8h0M463.8 314.2h0M454.7 314.3h0M411.8 313.4h0M427.4 314.9h0M438.5 319.9h0M448.0 313.9h0M437.7 327.8h0M414.8 313.6h0M417.4 314.9h0M412.3 313.7h0M458.2 314.2h0M432.7 324.9h0M464.1 314.8h0M464.5 314.2h0M463.3 316.4h0M457.6 326.4h0M443.7 328.4h0M447.5 315.1h0M416.9 313.6h0M437.2 334.9h0M428.1 313.7h0M444.8 314.9h0M466.2 323.2h0M428.9 316.3h0M439.8 316.8h0M423.5 320.7h0M448.2 313.8h0M440.1 320.4h0M436.9 315.3h0M417.4 330.4h0M418.4 315.7h0M409.8 315.7h0M415.5 333.3h0M428.2 333.9h0M466.3 318.5h0M446.9 329.5h0M422.3 313.4h0M415.2 314.7h0M439.5 313.8h0M412.6 314.2h0M462.1 320.2h0M467.1 314.3h0M448.0 327.7h0M417.0 314.3h0M446.7 316.5h0M418.1 322.9h0M446.8 313.7h0M450.0 316.4h0M462.3 316.0h0M411.7 313.7h0M464.1 315.4h0M411.5 314.1h0M447.9 315.4h0M462.2 313.4h0M439.9 322.7h0M446.7 326.4h0M411.7 319.6h0M409.2 314.6h0M457.6 323.7h0M413.8 324.4h0M415.5 313.5h0M445.2 314.3h0M427.4 317.6h0M458.4 315.0h0M459.9 313.4h0M426.4 325.3h0M455.4 315.0h0M459.6 323.9h0M435.8 314.8h0M455.2 314.0h0M428.2 329.6h0M457.6 313.5h0M430.2 314.4h0M462.4 315.2h0M439.8 315.2h0M466.6 315.5h0M458.6 319.6h0M456.5 315.3h0M465.1 319.7h0M436.1 314.1h0M467.6 315.8h0M428.3 332.1h0M466.8 313.5h0M451.1 315.7h0M410.2 323.1h0M442.3 326.2h0M445.8 324.5h0M429.3 330.8h0M456.3 315.4h0M418.5 329.8h0M417.6 330.6h0M453.9 315.0h0M433.6 314.3h0M444.3 325.8h0M423.1 327.2h0M440.4 315.6h0M454.8 328.4h0M441.8 316.4h0M462.5 313.7h0M446.3 314.9h0M432.0 323.4h0M411.4 315.7h0M409.3 315.3h0M458.8 313.4h0M431.3 314.0h0M445.9 316.9h0M434.3 323.5h0M433.4 318.2h0M467.5 313.5h0M421.7 313.5h0M461.7 313.8h0M424.8 332.4h0M430.2 313.5h0M464.0 313.5h0M409.6 317.7h0M450.4 313.9h0M421.0 325.8h0M446.3 316.3h0M442.9 314.9h0M410.7 331.1h0M461.3 323.4h0M436.9 313.4h0M465.4 313.5h0M439.3 313.9h0M428.9 313.5h0M430.6 327.2h0M413.4 316.7h0M419.8 315.5h0M433.7 314.3h0M466.5 314.0h0M409.1 317.9h0M423.1 313.5h0M415.2 313.8h0M437.9 314.0h0M449.3 317.0h0M417.5 313.6h0M428.1 335.1h0M437.3 318.5h0M409.3 313.8h0M427.5 318.7h0M413.4 313.7h0M433.7 313.5h0M411.2 315.5h0M461.0 315.3h0M447.9 323.4h0M436.1 317.8h0M415.6 314.0h0M457.9 313.7h0M467.4 314.0h0M455.4 313.8h0M463.7 331.6h0M460.2 314.9h0M456.2 313.8h0M422.7 313.4h0M451.2 314.7h0M466.6 330.7h0M450.5 334.9h0M418.2 328.7h0M431.9 314.4h0M419.3 313.8h0M467.5 315.4h0M416.7 316.0h0M414.8 321.2h0M460.2 315.7h0M432.1 313.9h0M430.5 314.5h0M427.3 322.2h0M467.4 334.6h0M433.5 313.6h0M462.4 313.5h0M458.6 328.3h0M412.6 314.9h0M429.5 313.5h0M421.9 316.0h0M434.4 313.9h0M466.3 313.6h0M454.9 321.1h0M459.8 331.7h0M412.2 314.8h0M440.2 323.4h0M458.9 314.5h0M424.0 315.1h0M432.4 316.9h0M439.4 314.3h0M442.2 322.3h0M432.0 313.5h0M430.0 319.7h0M428.7 325.0h0M444.2 313.7h0M443.4 315.3h0M443.6 318.0h0M442.4 328.9h0M444.0 315.5h0M418.4 321.4h0M444.4 314.0h0M441.3 314.3h0M456.6 315.0h0M467.0 316.1h0M435.2 322.4h0M465.9 315.5h0M426.3 321.2h0M417.1 314.1h0M465.4 313.5h0M425.1 331.0h0M444.5 315.2h0M440.1 313.6h0M463.9 325.9h0M444.2 335.0h0" stroke="#cc1f8a" stroke-width="0.60" stroke-linecap="round" fill="none"/>
<path d="M450.0 358.8h0M459.3 342.0h0M445.1 365.4h0M410.3 358.2h0M450.8 343.5h0M461.0 355.1h0M423.2 342.1h0M425.8 350.5h0M448.4 339.9h0M448.8 344.3h0M426.6 354.7h0M452.4 355.5h0M430.6 337.4h0M415.1 361.6h0M422.7 351.3h0M441.5 337.3h0M437.7 354.2h0M429.3 347.8h0M447.7 350.6h0M460.7 357.8h0M455.8 358.5h0M421.9 338.1h0M423.1 364.3h0M448.9 359.0h0M439.9 355.0h0M451.0 350.2h0M429.8 355.4h0M443.6 358.4h0M455.4 354.0h0M427.2 359.6h0M458.9 345.5h0M411.2 357.1h0M431.0 358.5h0M417.9 351.4h0M448.9 341.2h0M432.6 347.3h0M450.2 359.8h0M430.5 352.1h0M444.9 349.6h0M428.1 358.2h0M430.6 347.1h0M452.0 347.4h0M452.5 358.6h0M459.3 366.1h0M410.6 355.2h0M435.4 340.7h0M436.5 346.0h0M448.1 358.2h0M435.7 346.7h0M451.8 357.4h0M460.7 357.7h0M454.9 357.8h0M419.8 347.0h0M460.5 339.2h0M436.3 354.3h0M411.2 356.9h0M437.4 358.7h0M449.0 356.3h0M464.8 359.3h0M431.7 339.9h0M431.4 351.1h0M462.3 349.2h0M424.7 340.2h0M443.9 365.4h0M435.6 343.3h0M466.8 354.3h0M432.1 345.7h0M465.9 345.7h0M422.8 338.4h0M433.3 349.4h0M420.6 347.3h0M441.3 349.8h0M451.8 350.7h0M433.6 358.5h0M436.5 358.3h0M416.0 347.5h0M438.5 339.0h0M424.7 364.2h0M452.6 358.8h0M423.9 359.6h0M442.7 355.4h0M446.8 343.6h0M452.0 340.6h0M458.5 352.7h0M446.3 336.8h0M467.1 345.1h0M425.5 358.5h0M416.7 343.2h0M437.9 350.4h0M458.4 341.3h0M434.0 355.4h0M428.3 358.1h0M420.1 351.0h0M450.4 342.2h0M410.6 346.7h0M422.6 346.5h0M437.1 354.6h0M440.0 347.3h0M412.9 341.7h0M445.6 348.0h0M417.9 353.3h0M409.1 352.8h0M452.9 357.8h0M447.2 357.6h0M437.3 339.7h0M443.0 340.6h0M431.1 356.2h0M414.9 343.6h0M466.9 357.4h0M462.3 339.2h0M420.6 363.2h0M412.8 346.6h0M465.7 358.0h0M457.1 358.1h0M424.6 354.7h0M459.5 342.9h0M454.5 363.1h0M427.3 356.1h0M412.6 338.3h0M437.7 356.6h0M459.4 354.3h0M460.9 346.3h0M423.6 354.6h0M467.6 358.5h0M462.2 345.8h0M425.6 357.7h0M411.9 358.5h0M425.8 341.1h0M427.0 358.3h0M428.8 340.9h0M419.5 355.4h0M463.5 349.1h0M442.3 353.9h0M463.6 354.7h0M438.0 347.2h0M434.4 347.1h0M435.2 345.6h0M418.8 355.7h0M446.1 348.0h0M443.3 341.6h0M446.0 340.6h0M431.1 341.1h0M429.9 338.8h0M421.1 351.1h0M466.8 356.5h0M410.3 347.6h0M437.7 341.6h0M426.3 336.9h0M418.6 341.6h0M462.9 342.5h0M429.2 351.1h0M424.0 347.3h0M430.1 340.9h0M443.7 337.4h0M425.3 357.7h0M455.6 358.3h0M461.9 355.3h0M427.1 339.5h0M456.5 357.8h0M435.9 356.7h0M437.6 358.3h0M458.7 357.9h0M450.8 337.8h0M443.8 349.8h0M431.3 353.9h0M437.8 356.4h0M434.7 350.7h0M464.1 337.3h0M439.3 341.5h0M436.4 351.6h0M416.0 343.5h0M430.2 347.5h0M447.5 352.2h0M427.5 356.6h0M411.2 352.8h0M421.6 348.7h0M460.0 346.5h0M466.9 355.1h0M424.8 337.6h0M440.2 340.8h0M410.2 356.5h0M449.4 355.4h0M428.9 345.8h0M457.9 352.9h0M464.1 355.5h0M462.9 348.5h0M458.4 343.2h0M433.7 344.5h0M438.8 352.4h0M439.4 357.3h0M413.3 343.8h0M430.4 354.0h0M458.9 342.3h0M419.7 337.3h0M446.3 353.1h0M447.2 351.7h0M417.1 353.3h0M414.9 341.9h0M425.9 359.0h0M434.8 338.4h0M456.3 352.6h0M458.5 341.4h0M447.1 351.5h0M431.4 343.0h0M422.3 352.9h0M464.3 338.5h0M430.3 356.3h0M418.8 358.3h0M452.1 350.6h0M456.7 358.0h0M425.1 359.2h0M432.1 354.5h0M443.5 365.5h0M452.3 339.9h0M464.4 356.3h0M463.2 347.5h0M434.8 354.2h0M461.2 360.4h0M435.8 343.1h0M436.3 358.2h0M456.5 351.3h0M414.0 353.1h0M439.9 347.0h0M435.8 358.5h0M438.3 340.0h0M411.7 351.5h0M427.7 358.6h0M466.6 358.1h0M453.0 363.5h0M461.4 353.2h0M451.2 339.7h0M453.0 350.8h0M462.6 357.4h0M421.6 364.5h0M439.0 359.6h0M460.6 352.4h0M456.5 340.6h0M437.3 363.5h0M454.9 337.7h0M426.4 337.4h0M441.0 343.9h0M415.5 359.6h0M446.0 351.2h0M454.3 363.1h0M420.9 344.6h0M454.8 350.1h0M439.5 347.6h0M409.8 356.9h0M462.9 352.2h0M439.9 358.4h0M464.9 339.5h0M416.1 339.1h0M433.0 358.4h0M413.2 349.9h0M437.1 346.1h0M446.1 352.4h0M445.7 352.5h0M456.8 358.2h0M446.1 359.4h0M439.2 357.8h0M448.9 355.2h0M425.8 356.6h0M427.9 358.0h0M437.2 357.0h0M441.7 355.5h0M418.6 357.8h0M436.5 355.6h0M436.4 354.0h0M440.6 357.1h0M458.9 358.6h0M435.4 340.4h0M439.8 346.3h0M427.3 341.9h0M444.9 361.8h0M414.3 340.2h0M439.8 343.5h0M462.2 341.6h0M448.9 355.1h0M421.4 336.8h0M421.3 344.6h0M448.8 353.0h0M411.7 337.7h0M411.9 358.5h0M440.8 355.8h0M452.5 342.8h0M467.3 351.9h0M460.6 356.6h0M424.5 340.0h0M463.5 342.2h0M449.8 357.2h0M453.2 359.2h0M459.2 346.2h0M414.3 353.4h0M458.3 356.0h0M464.4 347.3h0M445.2 365.9h0M423.8 360.0h0M461.1 358.0h0M434.5 348.6h0M465.1 349.4h0M431.6 357.3h0M417.8 354.4h0M435.6 357.5h0M450.8 345.4h0M458.5 358.4h0M454.9 359.0h0M448.8 340.4h0M439.1 336.9h0M436.0 341.0h0M427.3 347.6h0M452.3 353.3h0M455.8 354.1h0M462.0 347.0h0M410.0 353.0h0M436.9 342.3h0M466.0 353.1h0M454.3 357.2h0M460.0 357.7h0M460.7 340.9h0M415.7 340.8h0M433.3 355.9h0M445.3 353.1h0M459.0 356.1h0M448.6 336.3h0M445.1 358.6h0M437.2 358.0h0M409.6 356.4h0M433.7 355.3h0M437.6 339.0h0M442.0 340.1h0M414.4 344.2h0M458.5 357.2h0M433.9 347.1h0M439.7 354.4h0M455.5 339.8h0M411.2 356.3h0M416.2 364.5h0M454.4 362.4h0M458.6 359.4h0M454.0 358.0h0M439.9 359.2h0M428.0 352.7h0M462.0 355.5h0M465.9 355.1h0M452.9 352.4h0M434.6 343.2h0M419.1 345.1h0M429.4 353.0h0M421.7 345.7h0M409.9 355.1h0M416.8 349.6h0M433.4 344.4h0M419.6 357.2h0M451.9 340.6h0M426.4 340.1h0M419.3 356.5h0M441.7 356.7h0M464.2 352.3h0M417.3 357.3h0M456.7 357.9h0M443.6 355.1h0M427.1 361.0h0M442.2 347.3h0M426.2 348.7h0M464.9 342.8h0M442.0 354.2h0M428.2 358.3h0M454.8 358.5h0M418.1 358.5h0M444.9 345.5h0M458.5 339.9h0M420.1 350.8h0M415.4 345.7h0M465.6 342.8h0M437.7 357.0h0M431.6 358.2h0M456.3 348.2h0M456.1 352.4h0M457.8 363.1h0M454.6 338.1h0M462.9 342.6h0M442.3 357.4h0M426.5 355.9h0M419.6 354.8h0M462.4 344.5h0M421.9 345.4h0M409.2 360.6h0M430.3 351.9h0M441.1 348.4h0M433.6 356.2h0M429.4 345.8h0M433.3 358.1h0M442.0 341.7h0M452.0 347.5h0M428.2 361.5h0M453.0 346.3h0M435.1 338.8h0M433.7 341.4h0M463.5 356.4h0M418.0 343.0h0M434.4 341.6h0M456.6 346.1h0M416.7 357.4h0M429.5 358.2h0M454.6 353.1h0M423.8 350.6h0M435.7 344.5h0M440.9 354.1h0M441.2 344.8h0M430.6 359.2h0M455.4 356.5h0M427.4 356.1h0M425.0 338.5h0M429.7 355.5h0M435.3 359.1h0M457.8 357.1h0M413.7 357.5h0M411.5 353.3h0M451.6 357.7h0M450.5 355.1h0M429.6 348.8h0M418.3 339.3h0M427.9 338.3h0M437.7 344.0h0M449.7 341.9h0M428.5 336.4h0M414.3 354.2h0M420.3 345.4h0M424.3 346.2h0M411.1 348.8h0M421.3 340.8h0M421.3 352.3h0M431.4 347.2h0M437.5 344.4h0M456.3 338.8h0M434.2 344.5h0M421.4 354.9h0M424.1 348.2h0M442.8 356.8h0M457.0 348.2h0M435.3 359.4h0M421.4 344.3h0M444.4 357.5h0M424.2 337.7h0M464.0 364.4h0M425.2 357.1h0M422.4 357.9h0M425.1 341.9h0M451.6 356.4h0M459.2 339.1h0M467.7 355.6h0M417.5 353.8h0M413.2 357.4h0M415.6 356.3h0M462.6 357.7h0M438.2 358.4h0M456.0 356.2h0M434.7 356.3h0M426.9 344.9h0M462.3 350.1h0M459.5 355.3h0M457.9 350.2h0M454.8 357.9h0M432.9 339.7h0M458.5 365.6h0M460.1 356.6h0M434.2 357.4h0M433.6 348.0h0M432.5 343.0h0M424.7 358.2h0M412.8 358.6h0M412.9 360.1h0M465.5 342.0h0M448.0 354.9h0M449.7 339.6h0M448.5 338.3h0M460.0 338.4h0M430.3 344.6h0M460.4 358.3h0M438.0 350.4h0M468.0 341.7h0M426.2 357.4h0M454.1 351.5h0M458.1 352.8h0M446.1 362.8h0M461.1 346.3h0M466.5 355.5h0M425.8 338.6h0M411.2 356.6h0M454.0 345.3h0M427.5 339.2h0M464.6 355.1h0M428.6 352.5h0M440.5 359.5h0M428.3 355.4h0M435.7 349.5h0M451.7 339.2h0M458.6 356.0h0M410.5 359.6h0M414.1 358.0h0M430.1 357.0h0M442.0 356.3h0M429.8 341.6h0M434.2 349.5h0M439.5 357.5h0M463.2 356.9h0M434.7 353.2h0M447.5 358.0h0M465.7 346.3h0M444.3 338.7h0M424.1 357.5h0M455.5 344.8h0M465.9 358.2h0M446.4 350.7h0M453.7 343.9h0M428.6 347.2h0M448.1 360.9h0M465.4 355.1h0M422.0 341.1h0M419.3 356.9h0M414.4 356.5h0M410.0 357.6h0M429.2 356.2h0M435.3 345.4h0M434.6 357.2h0M417.1 347.0h0M453.8 365.4h0M421.6 348.6h0M463.4 338.1h0M463.9 354.3h0M415.4 353.4h0M462.1 353.4h0M417.5 344.6h0M416.6 357.8h0M416.2 344.9h0M425.0 357.5h0M410.6 342.3h0M417.5 356.9h0M417.3 355.5h0M413.3 336.1h0M440.4 353.0h0M440.7 345.5h0M413.0 357.7h0M424.2 339.8h0M456.6 347.3h0M419.8 351.6h0M425.1 353.2h0M422.6 340.6h0M409.2 353.1h0M447.5 355.0h0M415.5 345.5h0M409.8 354.2h0M430.4 356.2h0M443.1 358.3h0M464.0 347.3h0M419.6 345.8h0M418.4 345.9h0M416.2 359.3h0M439.6 343.2h0M462.8 348.7h0M419.8 358.8h0M438.1 345.8h0M421.5 354.7h0M434.4 358.5h0M452.6 341.5h0M442.9 358.4h0M419.1 338.2h0M458.1 356.4h0M458.5 364.4h0M412.5 358.0h0M456.9 342.5h0M423.6 351.5h0M417.7 343.3h0M432.6 365.9h0M450.5 357.3h0M412.2 343.8h0M460.5 339.0h0M433.9 357.2h0M410.8 351.9h0M423.4 343.0h0M454.6 342.3h0M418.1 358.6h0M428.5 339.2h0M459.5 348.3h0M450.3 357.4h0M417.6 347.3h0M446.9 337.1h0M416.7 341.4h0M458.6 356.8h0M445.5 345.5h0M422.8 361.2h0M437.2 341.6h0M414.8 356.3h0M431.6 337.5h0M415.5 340.2h0M429.2 346.6h0M467.7 363.9h0M441.7 357.1h0M463.8 348.5h0M437.7 358.1h0M462.2 344.1h0M462.3 355.5h0M440.5 356.9h0M440.1 363.0h0M417.4 358.3h0M412.8 341.6h0M433.7 346.5h0M427.5 338.1h0M431.9 341.2h0M460.5 339.7h0M459.8 355.8h0M456.8 336.9h0M422.4 342.1h0M464.3 339.0h0M442.8 354.0h0M466.2 339.2h0M441.0 353.5h0M461.3 338.9h0M453.2 361.8h0M456.8 342.6h0M425.2 356.8h0M415.5 354.0h0M444.5 356.1h0M425.0 357.6h0M460.8 336.7h0M409.4 356.4h0M419.3 356.4h0M436.8 340.5h0M435.6 352.9h0M414.4 356.9h0M435.2 364.5h0M453.8 358.6h0M456.5 358.1h0M431.5 351.0h0M436.6 347.1h0M414.8 357.4h0M439.2 358.6h0M415.0 357.0h0M411.6 349.0h0M444.7 355.2h0M455.9 340.5h0M445.5 340.6h0M437.2 363.6h0M453.8 340.1h0M432.6 356.2h0M417.9 355.3h0M414.7 347.5h0M411.2 358.4h0M453.4 342.3h0M413.9 338.9h0M428.4 351.8h0M414.9 350.9h0M446.5 338.3h0M459.8 351.5h0M453.6 356.7h0M444.0 357.5h0M457.7 358.4h0M426.4 343.5h0M448.5 356.4h0M435.4 338.0h0M444.0 344.7h0M427.0 345.2h0M466.0 336.1h0M438.3 354.2h0M421.6 354.5h0M461.1 364.9h0M455.3 364.0h0M446.4 342.7h0M418.0 351.9h0M409.9 342.8h0M447.8 350.5h0M443.7 338.2h0M460.8 348.2h0M449.4 352.3h0M450.7 357.5h0M413.0 336.1h0M415.0 358.9h0M425.8 352.2h0M429.9 340.6h0M431.3 350.1h0M418.1 358.8h0M444.6 352.3h0M465.5 344.5h0M410.1 346.6h0M460.3 365.1h0M436.0 344.8h0M445.6 357.9h0M443.7 338.6h0M411.3 341.4h0M450.2 350.5h0M427.6 359.3h0M449.4 344.2h0M459.2 357.6h0M423.6 354.8h0M428.7 358.0h0M438.6 340.9h0M437.5 340.9h0M419.2 340.4h0M411.7 355.8h0M451.9 354.3h0M420.9 340.3h0M409.8 359.3h0M457.4 336.1h0M425.7 348.0h0M428.7 356.5h0M411.7 358.5h0M446.9 339.2h0M442.4 346.1h0M443.0 358.2h0M412.4 350.0h0M435.2 344.2h0M447.5 351.5h0M458.3 358.1h0M467.3 344.3h0M467.4 356.7h0M458.0 341.4h0M467.6 338.7h0M454.7 354.2h0M465.7 358.8h0M459.0 356.9h0" stroke="#2b2b2b" stroke-width="0.60" stroke-linecap="round" fill="none"/>
<line x1="407.70" y1="336.00" x2="468.40" y2="336.00" stroke="#e4566c" stroke-width="0.45" />
<line x1="407.70" y1="300.50" x2="407.70" y2="370.60" stroke="#000" stroke-width="0.90" />
<line x1="407.70" y1="370.20" x2="469.90" y2="370.20" stroke="#000" stroke-width="0.90" />
<line x1="404.90" y1="302.10" x2="407.70" y2="302.10" stroke="#000" stroke-width="0.60" />
<text x="402.10" y="303.45" font-size="3.90" text-anchor="end" stroke="#231f20" stroke-width="0.08">1.25</text>
<line x1="404.90" y1="313.40" x2="407.70" y2="313.40" stroke="#000" stroke-width="0.60" />
<text x="402.10" y="314.75" font-size="3.90" text-anchor="end" stroke="#231f20" stroke-width="0.08">1.00</text>
<line x1="404.90" y1="324.70" x2="407.70" y2="324.70" stroke="#000" stroke-width="0.60" />
<text x="402.10" y="326.05" font-size="3.90" text-anchor="end" stroke="#231f20" stroke-width="0.08">0.75</text>
<line x1="404.90" y1="336.00" x2="407.70" y2="336.00" stroke="#000" stroke-width="0.60" />
<text x="402.10" y="337.35" font-size="3.90" text-anchor="end" stroke="#231f20" stroke-width="0.08">0.50</text>
<line x1="404.90" y1="347.30" x2="407.70" y2="347.30" stroke="#000" stroke-width="0.60" />
<text x="402.10" y="348.65" font-size="3.90" text-anchor="end" stroke="#231f20" stroke-width="0.08">0.25</text>
<line x1="404.90" y1="358.60" x2="407.70" y2="358.60" stroke="#000" stroke-width="0.60" />
<text x="402.10" y="359.95" font-size="3.90" text-anchor="end" stroke="#231f20" stroke-width="0.08">0.00</text>
<line x1="404.90" y1="369.90" x2="407.70" y2="369.90" stroke="#000" stroke-width="0.60" />
<text x="402.10" y="371.25" font-size="3.90" text-anchor="end" stroke="#231f20" stroke-width="0.08">-0.25</text>
<path d="M471.40,313.40 L472.60,313.40 L472.60,336.00 L471.40,336.00" fill="none" stroke="#d8324e" stroke-width="0.60" />
<text x="469.30" y="308.20" font-size="4.16" fill="#d8324e" textLength="44.20" lengthAdjust="spacingAndGlyphs" stroke="#d8324e" stroke-width="0.08">genes more essential to</text>
<text x="475.90" y="313.50" font-size="3.74" fill="#d8324e" textLength="28.50" lengthAdjust="spacingAndGlyphs" stroke="#d8324e" stroke-width="0.08"><tspan font-style="italic">Flt3</tspan><tspan font-size="2.25" dy="-1.35">ITD/+</tspan><tspan dy="1.35">/</tspan><tspan font-style="italic">Setbp1</tspan><tspan font-size="2.25" dy="-1.35">IM+</tspan></text>
<text x="440.50" y="378.20" font-size="5.90" text-anchor="middle" textLength="50.80" lengthAdjust="spacingAndGlyphs" stroke="#231f20" stroke-width="0.18">Genes with <tspan font-style="italic">negFDR</tspan>&lt;0.2 in</text>
<text x="440.50" y="387.90" font-size="5.60" text-anchor="middle" textLength="46.50" lengthAdjust="spacingAndGlyphs" stroke="#231f20" stroke-width="0.18"><tspan font-style="italic">Flt3</tspan><tspan font-size="3.36" dy="-2.02">ITD/+</tspan><tspan dy="2.02">/</tspan><tspan font-style="italic">Setbp1</tspan><tspan font-size="3.36" dy="-2.02">IM+</tspan><tspan dy="2.02"> screen</tspan></text>
<text x="381.70" y="335.20" font-size="5.30" text-anchor="middle" textLength="57.20" lengthAdjust="spacingAndGlyphs" transform="rotate(-90.0 381.70 335.20)" stroke="#231f20" stroke-width="0.18">Δ<tspan font-style="italic">negFDR</tspan>: <tspan font-style="italic">Flt3</tspan><tspan font-size="3.18" dy="-1.91">ITD/+</tspan><tspan dy="1.91">/</tspan><tspan font-style="italic">Setbp1</tspan><tspan font-size="3.18" dy="-1.91">IM+</tspan></text>
<text x="387.70" y="332.20" font-size="5.30" text-anchor="middle" textLength="32.80" lengthAdjust="spacingAndGlyphs" transform="rotate(-90.0 387.70 332.20)" stroke="#231f20" stroke-width="0.18">vs MLL-AF9 screen</text>
<circle cx="326.30" cy="379.90" r="19.20" fill="#d8e8f6" />
<circle cx="341.90" cy="379.90" r="19.40" fill="#f0bedc" />
<circle cx="341.9" cy="379.9" r="19.4" fill="#d4b0d8" clip-path="url(#fL)"/>
<circle cx="326.30" cy="379.90" r="19.20" fill="none" stroke="#fff" stroke-width="0.5"/>
<circle cx="341.90" cy="379.90" r="19.40" fill="none" stroke="#fff" stroke-width="0.5"/>
<text x="314.70" y="384.00" font-size="4.00" text-anchor="middle" stroke="#231f20" stroke-width="0.08">68</text>
<text x="334.20" y="381.50" font-size="6.20" text-anchor="middle" font-weight="bold" fill="#c8207e" stroke="#c8207e" stroke-width="0.3">677</text>
<text x="353.20" y="384.00" font-size="4.00" text-anchor="middle" stroke="#231f20" stroke-width="0.08">890</text>
<text x="316.80" y="342.60" font-size="4.11" textLength="31.20" lengthAdjust="spacingAndGlyphs" stroke="#231f20" stroke-width="0.08">ΔnegFDR (&gt;0.5):</text>
<text x="306.40" y="348.60" font-size="4.32" textLength="51.10" lengthAdjust="spacingAndGlyphs" stroke="#231f20" stroke-width="0.08"><tspan font-style="italic">Flt3</tspan><tspan font-size="2.59" dy="-1.55">ITD/+</tspan><tspan dy="1.55">/</tspan><tspan font-style="italic">Setbp1</tspan><tspan font-size="2.59" dy="-1.55">IM+</tspan><tspan dy="1.55"> vs HPC7</tspan></text>
<line x1="318.60" y1="352.00" x2="318.60" y2="366.70" stroke="#231f20" stroke-width="0.60" />
<line x1="296.00" y1="325.00" x2="314.20" y2="372.40" stroke="#231f20" stroke-width="0.40" />
<line x1="348.80" y1="374.00" x2="372.00" y2="326.00" stroke="#231f20" stroke-width="0.40" />
<line x1="349.20" y1="391.00" x2="349.20" y2="403.60" stroke="#231f20" stroke-width="0.60" />
<text x="333.30" y="410.00" font-size="4.15" textLength="31.50" lengthAdjust="spacingAndGlyphs" stroke="#231f20" stroke-width="0.08">ΔnegFDR (&gt;0.5):</text>
<text x="321.00" y="416.40" font-size="4.25" textLength="56.40" lengthAdjust="spacingAndGlyphs" stroke="#231f20" stroke-width="0.08"><tspan font-style="italic">Flt3</tspan><tspan font-size="2.55" dy="-1.53">ITD/+</tspan><tspan dy="1.53">/</tspan><tspan font-style="italic">Setbp1</tspan><tspan font-size="2.55" dy="-1.53">IM+</tspan><tspan dy="1.53"> vs MLL-AF9</tspan></text>
<text x="68.70" y="454.50" font-size="5.95" textLength="117.60" lengthAdjust="spacingAndGlyphs" stroke="#231f20" stroke-width="0.08">GO term analysis of the most significant 677</text>
<text x="75.60" y="461.60" font-size="5.95" textLength="102.10" lengthAdjust="spacingAndGlyphs" stroke="#231f20" stroke-width="0.08">essential genes for <tspan font-style="italic">Flt3</tspan><tspan font-size="3.57" dy="-2.14">ITD/+</tspan><tspan dy="2.14">/</tspan><tspan font-style="italic">Setbp1</tspan><tspan font-size="3.57" dy="-2.14">IM+</tspan></text>
<text x="39.50" y="470.65" font-size="4.10" textLength="82.25" lengthAdjust="spacingAndGlyphs" stroke="#231f20" stroke-width="0.08">Ubiquinone metabolic process (GO:0006743)</text>
<line x1="123.40" y1="469.70" x2="127.40" y2="469.70" stroke="#000" stroke-width="0.55" />
<rect x="127.60" y="468.15" width="80.90" height="3.10" fill="#431352" />
<text x="60.50" y="475.75" font-size="4.19" textLength="61.25" lengthAdjust="spacingAndGlyphs" stroke="#231f20" stroke-width="0.08">tRNA modification (GO:0006400)</text>
<line x1="123.40" y1="474.80" x2="127.40" y2="474.80" stroke="#000" stroke-width="0.55" />
<rect x="127.60" y="473.25" width="50.20" height="3.10" fill="#582864" />
<text x="39.50" y="480.85" font-size="4.05" textLength="82.25" lengthAdjust="spacingAndGlyphs" stroke="#231f20" stroke-width="0.08">RNA methyltransferase activity (GO:0008173)</text>
<line x1="123.40" y1="479.90" x2="127.40" y2="479.90" stroke="#000" stroke-width="0.55" />
<rect x="127.60" y="478.35" width="35.10" height="3.10" fill="#582864" />
<text x="33.75" y="485.95" font-size="4.08" textLength="88.00" lengthAdjust="spacingAndGlyphs" stroke="#231f20" stroke-width="0.08">phosphoinositide 3-kinase activity (GO:0035004)</text>
<line x1="123.40" y1="485.00" x2="127.40" y2="485.00" stroke="#000" stroke-width="0.55" />
<rect x="127.60" y="483.45" width="29.30" height="3.10" fill="#c9b9d7" />
<text x="62.00" y="491.05" font-size="4.17" textLength="59.75" lengthAdjust="spacingAndGlyphs" stroke="#231f20" stroke-width="0.08">RNA modification (GO:0009451)</text>
<line x1="123.40" y1="490.10" x2="127.40" y2="490.10" stroke="#000" stroke-width="0.55" />
<rect x="127.60" y="488.55" width="22.10" height="3.10" fill="#8c6ca0" />
<text x="34.25" y="496.15" font-size="4.05" textLength="87.50" lengthAdjust="spacingAndGlyphs" stroke="#231f20" stroke-width="0.08">Histone methyltransferase activity (GO:0042054)</text>
<line x1="123.40" y1="495.20" x2="127.40" y2="495.20" stroke="#000" stroke-width="0.55" />
<rect x="127.60" y="493.65" width="20.30" height="3.10" fill="#8c6ca0" />
<text x="63.00" y="501.25" font-size="4.16" textLength="58.75" lengthAdjust="spacingAndGlyphs" stroke="#231f20" stroke-width="0.08">DNA methylation (GO:0006306)</text>
<line x1="123.40" y1="500.30" x2="127.40" y2="500.30" stroke="#000" stroke-width="0.55" />
<rect x="127.60" y="498.75" width="20.30" height="3.10" fill="#ccbdd9" />
<text x="61.25" y="506.35" font-size="4.22" textLength="60.50" lengthAdjust="spacingAndGlyphs" stroke="#231f20" stroke-width="0.08">DNA modification (GO:0006304)</text>
<line x1="123.40" y1="505.40" x2="127.40" y2="505.40" stroke="#000" stroke-width="0.55" />
<rect x="127.60" y="503.85" width="20.00" height="3.10" fill="#ccbdd9" />
<text x="67.50" y="511.45" font-size="4.15" textLength="54.25" lengthAdjust="spacingAndGlyphs" stroke="#231f20" stroke-width="0.08">Kinase activity (GO:0004428)</text>
<line x1="123.40" y1="510.50" x2="127.40" y2="510.50" stroke="#000" stroke-width="0.55" />
<rect x="127.60" y="508.95" width="18.30" height="3.10" fill="#a992bd" />
<text x="72.50" y="516.55" font-size="4.18" textLength="49.25" lengthAdjust="spacingAndGlyphs" stroke="#231f20" stroke-width="0.08">Methylation (GO:0032259)</text>
<line x1="123.40" y1="515.60" x2="127.40" y2="515.60" stroke="#000" stroke-width="0.55" />
<rect x="127.60" y="514.05" width="16.30" height="3.10" fill="#76528c" />
<text x="48.25" y="521.65" font-size="4.09" textLength="73.50" lengthAdjust="spacingAndGlyphs" stroke="#231f20" stroke-width="0.08">Methyltransferase activity (GO:0008168)</text>
<line x1="123.40" y1="520.70" x2="127.40" y2="520.70" stroke="#000" stroke-width="0.55" />
<rect x="127.60" y="519.15" width="15.30" height="3.10" fill="#3f0f53" />
<text x="47.50" y="526.75" font-size="4.14" textLength="74.25" lengthAdjust="spacingAndGlyphs" stroke="#231f20" stroke-width="0.08">Lymphocyte homeostasis (GO:0002260)</text>
<line x1="123.40" y1="525.80" x2="127.40" y2="525.80" stroke="#000" stroke-width="0.55" />
<rect x="127.60" y="524.25" width="14.10" height="3.10" fill="#cfc0dc" />
<text x="35.00" y="531.85" font-size="4.08" textLength="86.75" lengthAdjust="spacingAndGlyphs" stroke="#231f20" stroke-width="0.08">Histone acetyltransferase activity (GO:0004402)</text>
<line x1="123.40" y1="530.90" x2="127.40" y2="530.90" stroke="#000" stroke-width="0.55" />
<rect x="127.60" y="529.35" width="13.20" height="3.10" fill="#e6e0ec" />
<text x="57.00" y="536.95" font-size="4.13" textLength="64.75" lengthAdjust="spacingAndGlyphs" stroke="#231f20" stroke-width="0.08">Histone modification (GO:0016570)</text>
<line x1="123.40" y1="536.00" x2="127.40" y2="536.00" stroke="#000" stroke-width="0.55" />
<rect x="127.60" y="534.45" width="13.20" height="3.10" fill="#b8a4c8" />
<text x="35.00" y="542.05" font-size="4.12" textLength="86.75" lengthAdjust="spacingAndGlyphs" stroke="#231f20" stroke-width="0.08">Cholesterol biosynthetic process (GO:0006695)</text>
<line x1="123.40" y1="541.10" x2="127.40" y2="541.10" stroke="#000" stroke-width="0.55" />
<rect x="127.60" y="539.55" width="13.20" height="3.10" fill="#e8e2ee" />
<text x="19.50" y="547.15" font-size="4.04" textLength="102.25" lengthAdjust="spacingAndGlyphs" stroke="#231f20" stroke-width="0.08">Regulation of gene expression, epigenetic (GO:0040029)</text>
<line x1="123.40" y1="546.20" x2="127.40" y2="546.20" stroke="#000" stroke-width="0.55" />
<rect x="127.60" y="544.65" width="13.20" height="3.10" fill="#c4b2d2" />
<text x="52.00" y="552.25" font-size="4.13" textLength="69.75" lengthAdjust="spacingAndGlyphs" stroke="#231f20" stroke-width="0.08">Chromatin modification (GO:0016568)</text>
<line x1="123.40" y1="551.30" x2="127.40" y2="551.30" stroke="#000" stroke-width="0.55" />
<rect x="127.60" y="549.75" width="8.60" height="3.10" fill="#6e4884" />
<text x="42.00" y="557.35" font-size="4.07" textLength="79.75" lengthAdjust="spacingAndGlyphs" stroke="#231f20" stroke-width="0.08">Transcription cofactor activity (GO:0003712)</text>
<line x1="123.40" y1="556.40" x2="127.40" y2="556.40" stroke="#000" stroke-width="0.55" />
<rect x="127.60" y="554.85" width="7.10" height="3.10" fill="#d0c2dc" />
<text x="73.00" y="562.45" font-size="4.22" textLength="48.75" lengthAdjust="spacingAndGlyphs" stroke="#231f20" stroke-width="0.08">DNA repair (GO:0006281)</text>
<line x1="123.40" y1="561.50" x2="127.40" y2="561.50" stroke="#000" stroke-width="0.55" />
<rect x="127.60" y="559.95" width="6.60" height="3.10" fill="#c0acd0" />
<text x="46.75" y="567.55" font-size="4.08" textLength="75.00" lengthAdjust="spacingAndGlyphs" stroke="#231f20" stroke-width="0.08">Chromosome organization (GO:0051276)</text>
<line x1="123.40" y1="566.60" x2="127.40" y2="566.60" stroke="#000" stroke-width="0.55" />
<rect x="127.60" y="565.05" width="6.40" height="3.10" fill="#a48cb8" />
<text x="70.00" y="572.65" font-size="4.17" textLength="51.75" lengthAdjust="spacingAndGlyphs" stroke="#231f20" stroke-width="0.08">Transcription (GO:0006350)</text>
<line x1="123.40" y1="571.70" x2="127.40" y2="571.70" stroke="#000" stroke-width="0.55" />
<rect x="127.60" y="570.15" width="4.60" height="3.10" fill="#4e1e62" />
<line x1="127.40" y1="466.20" x2="127.40" y2="574.90" stroke="#000" stroke-width="0.90" />
<line x1="127.00" y1="574.50" x2="222.30" y2="574.50" stroke="#000" stroke-width="0.90" />
<line x1="127.20" y1="574.50" x2="127.20" y2="577.30" stroke="#000" stroke-width="0.80" />
<text x="127.20" y="584.40" font-size="4.30" text-anchor="middle" stroke="#231f20" stroke-width="0.08">0</text>
<line x1="139.87" y1="574.50" x2="139.87" y2="577.30" stroke="#000" stroke-width="0.80" />
<text x="139.87" y="584.40" font-size="4.30" text-anchor="middle" stroke="#231f20" stroke-width="0.08">4</text>
<line x1="152.54" y1="574.50" x2="152.54" y2="577.30" stroke="#000" stroke-width="0.80" />
<text x="152.54" y="584.40" font-size="4.30" text-anchor="middle" stroke="#231f20" stroke-width="0.08">8</text>
<line x1="165.21" y1="574.50" x2="165.21" y2="577.30" stroke="#000" stroke-width="0.80" />
<text x="165.21" y="584.40" font-size="4.30" text-anchor="middle" stroke="#231f20" stroke-width="0.08">12</text>
<line x1="177.88" y1="574.50" x2="177.88" y2="577.30" stroke="#000" stroke-width="0.80" />
<text x="177.88" y="584.40" font-size="4.30" text-anchor="middle" stroke="#231f20" stroke-width="0.08">16</text>
<line x1="190.55" y1="574.50" x2="190.55" y2="577.30" stroke="#000" stroke-width="0.80" />
<text x="190.55" y="584.40" font-size="4.30" text-anchor="middle" stroke="#231f20" stroke-width="0.08">20</text>
<line x1="203.22" y1="574.50" x2="203.22" y2="577.30" stroke="#000" stroke-width="0.80" />
<text x="203.22" y="584.40" font-size="4.30" text-anchor="middle" stroke="#231f20" stroke-width="0.08">24</text>
<line x1="215.89" y1="574.50" x2="215.89" y2="577.30" stroke="#000" stroke-width="0.80" />
<text x="215.89" y="584.40" font-size="4.30" text-anchor="middle" stroke="#231f20" stroke-width="0.08">28</text>
<text x="160.00" y="593.50" font-size="6.00" textLength="30.00" lengthAdjust="spacingAndGlyphs" stroke="#231f20" stroke-width="0.28">Fold enrichment</text>
<text x="220.50" y="471.50" font-size="4.02" textLength="13.40" lengthAdjust="spacingAndGlyphs" stroke="#231f20" stroke-width="0.08"><tspan font-style="italic">P</tspan> value</text>
<rect x="220.30" y="476.40" width="3.50" height="3.20" fill="#e9e3ee" />
<text x="226.30" y="479.50" font-size="4.30" stroke="#231f20" stroke-width="0.08">&lt;10</text>
<text x="235.00" y="476.80" font-size="2.90" stroke="#231f20" stroke-width="0.08">-2</text>
<rect x="220.30" y="481.90" width="3.50" height="3.20" fill="#d3c3dd" />
<text x="226.30" y="485.00" font-size="4.30" stroke="#231f20" stroke-width="0.08">&lt;10</text>
<text x="235.00" y="482.30" font-size="2.90" stroke="#231f20" stroke-width="0.08">-3</text>
<rect x="220.30" y="487.30" width="3.50" height="3.20" fill="#b9a1c9" />
<text x="226.30" y="490.40" font-size="4.30" stroke="#231f20" stroke-width="0.08">&lt;10</text>
<text x="235.00" y="487.70" font-size="2.90" stroke="#231f20" stroke-width="0.08">-4</text>
<rect x="220.30" y="493.00" width="3.50" height="3.20" fill="#9c7db1" />
<text x="226.30" y="496.10" font-size="4.30" stroke="#231f20" stroke-width="0.08">&lt;10</text>
<text x="235.00" y="493.40" font-size="2.90" stroke="#231f20" stroke-width="0.08">-5</text>
<rect x="220.30" y="498.60" width="3.50" height="3.20" fill="#7b5192" />
<text x="226.30" y="501.70" font-size="4.30" stroke="#231f20" stroke-width="0.08">&lt;10</text>
<text x="235.00" y="499.00" font-size="2.90" stroke="#231f20" stroke-width="0.08">-6</text>
<rect x="220.30" y="504.30" width="3.50" height="3.20" fill="#5b2a72" />
<text x="226.30" y="507.40" font-size="4.30" stroke="#231f20" stroke-width="0.08">&lt;10</text>
<text x="235.00" y="504.70" font-size="2.90" stroke="#231f20" stroke-width="0.08">-8</text>
<rect x="220.30" y="509.80" width="3.50" height="3.20" fill="#3d0c52" />
<text x="226.30" y="512.90" font-size="4.30" stroke="#231f20" stroke-width="0.08">&lt;10</text>
<text x="235.00" y="510.20" font-size="2.90" stroke="#231f20" stroke-width="0.08">-11</text>
<text x="259.90" y="454.00" font-size="5.99" textLength="81.90" lengthAdjust="spacingAndGlyphs" stroke="#231f20" stroke-width="0.08">Dropout gene targets identified</text>
<ellipse cx="364.7" cy="503.1" rx="43.7" ry="44.2" fill="#f4e0c4"/>
<ellipse cx="365.2" cy="518.6" rx="31.7" ry="29.1" fill="#ecc48a" stroke="#fff" stroke-width="0.6"/>
<ellipse cx="365.5" cy="529.9" rx="19.8" ry="17.9" fill="#96a6be" stroke="#fff" stroke-width="0.4"/>
<ellipse cx="365.0" cy="538.5" rx="10.8" ry="9.2" fill="#6478a0" stroke="#fff" stroke-width="0.7"/>
<text x="364.60" y="472.20" font-size="4.20" text-anchor="middle" font-weight="bold" stroke="#231f20" stroke-width="0.15">966</text>
<text x="364.70" y="500.40" font-size="4.20" text-anchor="middle" font-weight="bold" stroke="#231f20" stroke-width="0.15">677</text>
<text x="364.70" y="521.60" font-size="4.20" text-anchor="middle" font-weight="bold" stroke="#231f20" stroke-width="0.15">115</text>
<text x="364.70" y="537.30" font-size="4.20" text-anchor="middle" font-weight="bold" fill="#fff">81</text>
<line x1="288.80" y1="479.90" x2="326.80" y2="479.90" stroke="#231f20" stroke-width="0.60" />
<circle cx="326.80" cy="479.90" r="0.75" fill="#231f20" />
<line x1="301.10" y1="503.10" x2="339.20" y2="503.10" stroke="#231f20" stroke-width="0.60" />
<circle cx="339.20" cy="503.10" r="0.75" fill="#231f20" />
<line x1="313.40" y1="519.20" x2="349.30" y2="519.20" stroke="#231f20" stroke-width="0.60" />
<circle cx="349.30" cy="519.20" r="0.75" fill="#231f20" />
<line x1="320.80" y1="533.40" x2="357.00" y2="533.40" stroke="#231f20" stroke-width="0.60" />
<circle cx="357.00" cy="533.40" r="0.75" fill="#231f20" />
<text x="263.00" y="480.30" font-size="3.90" textLength="14.30" lengthAdjust="spacingAndGlyphs" stroke="#231f20" stroke-width="0.08">966 genes</text>
<text x="263.00" y="485.30" font-size="4.09" textLength="36.00" lengthAdjust="spacingAndGlyphs" stroke="#231f20" stroke-width="0.08">with negFDR&lt;0.2 in</text>
<text x="263.00" y="490.50" font-size="4.27" textLength="46.50" lengthAdjust="spacingAndGlyphs" stroke="#231f20" stroke-width="0.08"><tspan font-style="italic">Flt3</tspan><tspan font-size="2.56" dy="-1.54">ITD/+</tspan><tspan dy="1.54"> </tspan><tspan font-style="italic">Setbp1</tspan><tspan font-size="2.56" dy="-1.54">IM+</tspan><tspan dy="1.54"> screen</tspan></text>
<text x="278.50" y="504.20" font-size="4.17" textLength="19.50" lengthAdjust="spacingAndGlyphs" stroke="#231f20" stroke-width="0.08">677 genes</text>
<text x="278.50" y="509.20" font-size="3.96" textLength="29.70" lengthAdjust="spacingAndGlyphs" stroke="#231f20" stroke-width="0.08">most essential to</text>
<text x="278.50" y="514.30" font-size="4.07" textLength="31.00" lengthAdjust="spacingAndGlyphs" stroke="#231f20" stroke-width="0.08"><tspan font-style="italic">Flt3</tspan><tspan font-size="2.44" dy="-1.47">ITD/+</tspan><tspan dy="1.47"> </tspan><tspan font-style="italic">Setbp1</tspan><tspan font-size="2.44" dy="-1.47">IM+</tspan></text>
<text x="291.80" y="520.50" font-size="4.22" textLength="19.40" lengthAdjust="spacingAndGlyphs" stroke="#231f20" stroke-width="0.08">115 genes</text>
<text x="290.80" y="525.40" font-size="4.05" textLength="20.70" lengthAdjust="spacingAndGlyphs" stroke="#231f20" stroke-width="0.08">“druggable”</text>
<text x="302.30" y="534.60" font-size="4.11" textLength="16.90" lengthAdjust="spacingAndGlyphs" stroke="#231f20" stroke-width="0.08">81 genes</text>
<text x="302.30" y="539.50" font-size="4.05" textLength="25.90" lengthAdjust="spacingAndGlyphs" stroke="#231f20" stroke-width="0.08">FDA approved</text>
<rect x="0.6" y="0.6" width="518.6" height="600.6" fill="none" stroke="#000" stroke-width="1.4"/>
</svg>
</body></html>
